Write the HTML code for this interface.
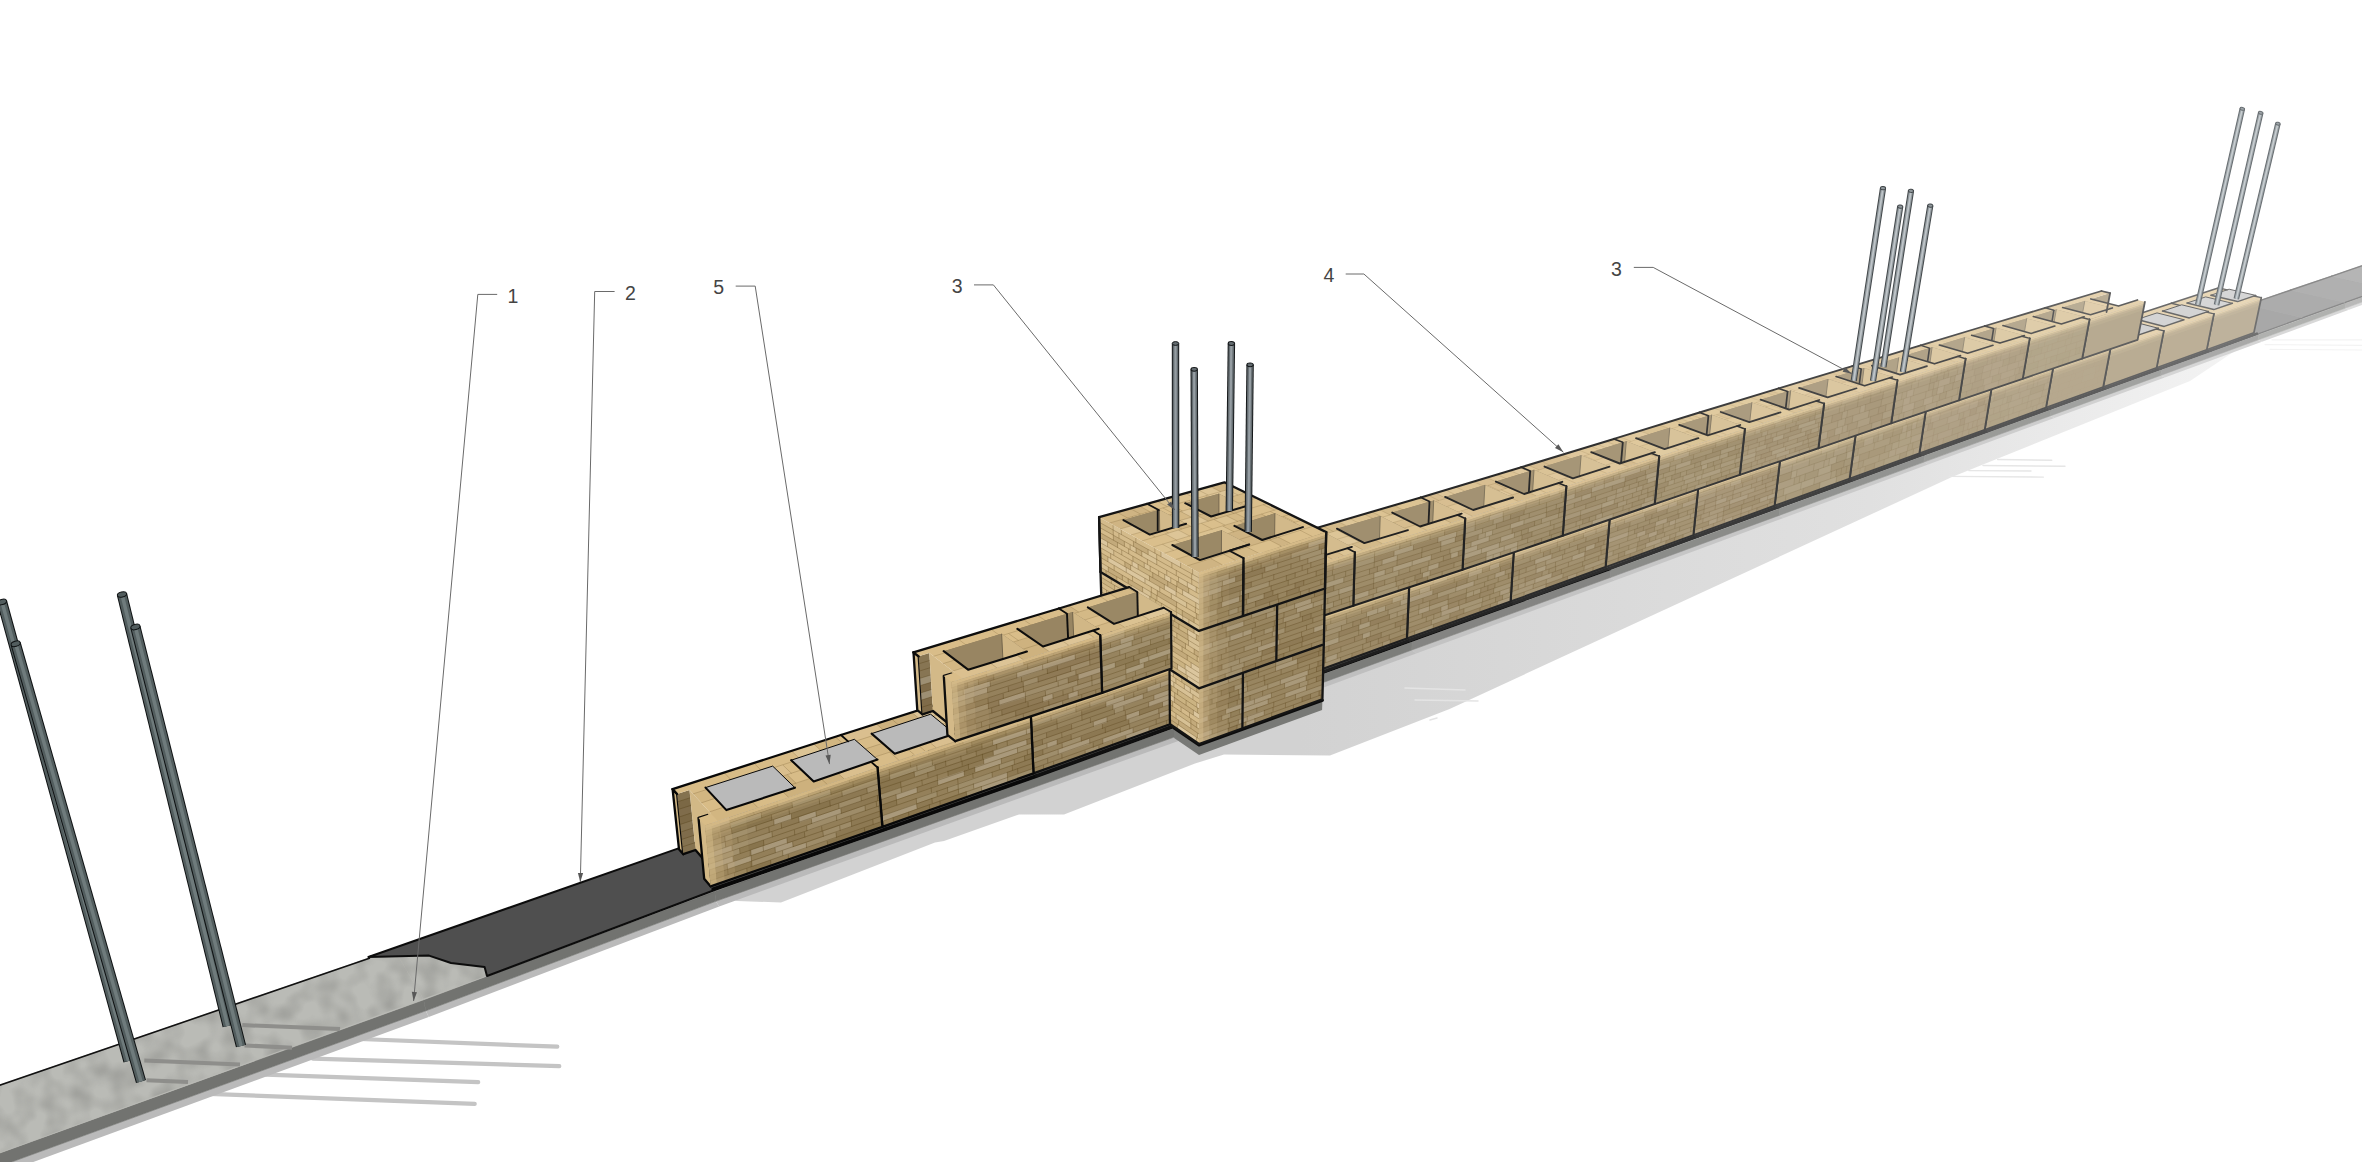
<!DOCTYPE html><html><head><meta charset="utf-8"><title>wall</title><style>html,body{margin:0;padding:0;background:#fff;overflow:hidden}svg{display:block}text{font-family:"Liberation Sans",sans-serif}</style></head><body><svg width="2362" height="1162" viewBox="0 0 2362 1162">
<defs><linearGradient id="sg" gradientUnits="userSpaceOnUse" x1="1300" y1="0" x2="2250" y2="0"><stop offset="0" stop-color="#d2d2d2"/><stop offset="0.6" stop-color="#e0e0e0"/><stop offset="1" stop-color="#f4f4f4"/></linearGradient><filter id="nz" x="0" y="0" width="100%" height="100%" color-interpolation-filters="sRGB"><feTurbulence type="fractalNoise" baseFrequency="0.045" numOctaves="2" seed="3"/><feColorMatrix values="0 0 0 0 0.35  0 0 0 0 0.35  0 0 0 0 0.34  0.55 0 0 0 -0.2"/><feComposite in2="SourceGraphic" operator="in"/></filter></defs>
<rect width="2362" height="1162" fill="#fff"/>
<polygon points="712,893 737,901 781,902.5 935,842.5 944,841 1019,814.4 1064,814.4 1195,763.5 1224,754.5 1330,755.6 1449.6,708.9 1952,477 2190,381 2262,333 1330,660" fill="url(#sg)"/>
<polyline points="1405,688 1465,690" fill="none" stroke="#e4e4e4" stroke-width="1.5" stroke-linecap="round" stroke-linejoin="round"/>
<polyline points="1415,700 1478,701" fill="none" stroke="#e4e4e4" stroke-width="1.5" stroke-linecap="round" stroke-linejoin="round"/>
<polyline points="1430,720 1437,718" fill="none" stroke="#e4e4e4" stroke-width="1.5" stroke-linecap="round" stroke-linejoin="round"/>
<polyline points="1997.6,459.5 2051.8,460.2" fill="none" stroke="#e6e6e6" stroke-width="1.4" stroke-linecap="round" stroke-linejoin="round"/>
<polyline points="1983,465.5 2065,466.3" fill="none" stroke="#e6e6e6" stroke-width="1.4" stroke-linecap="round" stroke-linejoin="round"/>
<polyline points="1968.7,470.6 2031,471" fill="none" stroke="#e6e6e6" stroke-width="1.4" stroke-linecap="round" stroke-linejoin="round"/>
<polyline points="1949.4,476.4 2043.4,477.1" fill="none" stroke="#e6e6e6" stroke-width="1.4" stroke-linecap="round" stroke-linejoin="round"/>
<polyline points="2272,339.8 2362,339.8" fill="none" stroke="#f3f3f3" stroke-width="1.2" stroke-linecap="round" stroke-linejoin="round"/>
<polyline points="2265,344.6 2362,345.3" fill="none" stroke="#f3f3f3" stroke-width="1.2" stroke-linecap="round" stroke-linejoin="round"/>
<polyline points="2270,349.4 2362,350" fill="none" stroke="#f3f3f3" stroke-width="1.2" stroke-linecap="round" stroke-linejoin="round"/>
<polyline points="347,1038.5 557.3,1046.7" fill="none" stroke="#c4c4c4" stroke-width="4.2" stroke-linecap="round" stroke-linejoin="round"/>
<polyline points="313,1058.7 559.3,1066.2" fill="none" stroke="#c4c4c4" stroke-width="4.2" stroke-linecap="round" stroke-linejoin="round"/>
<polyline points="266,1074.7 478.2,1082.2" fill="none" stroke="#c4c4c4" stroke-width="4.2" stroke-linecap="round" stroke-linejoin="round"/>
<polyline points="209.6,1093.9 474.7,1103.8" fill="none" stroke="#c4c4c4" stroke-width="4.2" stroke-linecap="round" stroke-linejoin="round"/>
<polygon points="-205.4,1241.2 425.8,1010.8 428.7,1016.9 -204.3,1249.2" fill="#bababa"/>
<polygon points="425.8,1010.8 715.7,901.3 719.2,906.5 428.7,1016.9" fill="#bababa"/>
<polygon points="715.7,901.3 1174.9,736.8 1179.1,740.7 719.2,906.5" fill="#bababa"/>
<polygon points="1174.9,736.8 1411.8,650 1416.2,653.5 1179.1,740.7" fill="#bfbfbf"/>
<polygon points="1411.8,650 1610.3,577.5 1614.8,580.6 1416.2,653.5" fill="#c3c3c3"/>
<polygon points="1610.3,577.5 1779.1,515.4 1783.6,518 1614.8,580.6" fill="#c6c6c6"/>
<polygon points="1779.1,515.4 1923.8,462.1 1928.1,464.5 1783.6,518" fill="#cacaca"/>
<polygon points="1923.8,462.1 2050.1,415.9 2054.4,418 1928.1,464.5" fill="#cdcdcd"/>
<polygon points="2050.1,415.9 2160.6,375.4 2164.8,377.4 2054.4,418" fill="#d1d1d1"/>
<polygon points="2160.6,375.4 2257.8,340 2262,341.8 2164.8,377.4" fill="#d5d5d5"/>
<polygon points="2257.8,340 2345,308.2 2349,309.8 2262,341.8" fill="#d8d8d8"/>
<polygon points="2345,308.2 2441.6,273.1 2445.5,274.6 2349,309.8" fill="#dddddd"/>
<polygon points="-209.8,1228.8 423.6,999.8 425.8,1010.8 -205.4,1241.2" fill="#727370" stroke="#727370" stroke-width="0.6" stroke-linejoin="round"/>
<polygon points="-215.6,1159.3 394.4,949.5 423.6,999.8 -209.8,1228.8" fill="#babbb6" stroke="#babbb6" stroke-width="0.6" stroke-linejoin="round"/>
<polygon points="423.6,999.8 714.7,891.1 715.7,901.3 425.8,1010.8" fill="#727370" stroke="#727370" stroke-width="0.6" stroke-linejoin="round"/>
<polygon points="394.4,949.5 679,849.2 714.7,891.1 423.6,999.8" fill="#babbb6" stroke="#babbb6" stroke-width="0.6" stroke-linejoin="round"/>
<polygon points="714.7,891.1 1174.9,727.6 1174.9,736.8 715.7,901.3" fill="#737471" stroke="#737471" stroke-width="0.6" stroke-linejoin="round"/>
<polygon points="679,849.2 1129.6,696.6 1174.9,727.6 714.7,891.1" fill="#babbb6" stroke="#babbb6" stroke-width="0.6" stroke-linejoin="round"/>
<polygon points="1174.9,727.6 1412.2,641.5 1411.8,650 1174.9,736.8" fill="#7c7d7a" stroke="#7c7d7a" stroke-width="0.6" stroke-linejoin="round"/>
<polygon points="1129.6,696.6 1364.1,614.3 1412.2,641.5 1174.9,727.6" fill="#bfc0bb" stroke="#bfc0bb" stroke-width="0.6" stroke-linejoin="round"/>
<polygon points="1412.2,641.5 1611,569.6 1610.3,577.5 1411.8,650" fill="#848482" stroke="#848482" stroke-width="0.6" stroke-linejoin="round"/>
<polygon points="1364.1,614.3 1561.7,547.2 1611,569.6 1412.2,641.5" fill="#c3c3bf" stroke="#c3c3bf" stroke-width="0.6" stroke-linejoin="round"/>
<polygon points="1611,569.6 1780,507.9 1779.1,515.4 1610.3,577.5" fill="#8b8c89" stroke="#8b8c89" stroke-width="0.6" stroke-linejoin="round"/>
<polygon points="1561.7,547.2 1730.3,488.4 1780,507.9 1611,569.6" fill="#c6c7c3" stroke="#c6c7c3" stroke-width="0.6" stroke-linejoin="round"/>
<polygon points="1780,507.9 1924.8,455.1 1923.8,462.1 1779.1,515.4" fill="#929391" stroke="#929391" stroke-width="0.6" stroke-linejoin="round"/>
<polygon points="1730.3,488.4 1875.5,438.3 1924.8,455.1 1780,507.9" fill="#cacbc7" stroke="#cacbc7" stroke-width="0.6" stroke-linejoin="round"/>
<polygon points="1924.8,455.1 2051.3,409.3 2050.1,415.9 1923.8,462.1" fill="#9a9b98" stroke="#9a9b98" stroke-width="0.6" stroke-linejoin="round"/>
<polygon points="1875.5,438.3 2002.2,394.6 2051.3,409.3 1924.8,455.1" fill="#cdcecb" stroke="#cdcecb" stroke-width="0.6" stroke-linejoin="round"/>
<polygon points="2051.3,409.3 2161.8,369.2 2160.6,375.4 2050.1,415.9" fill="#a1a2a0" stroke="#a1a2a0" stroke-width="0.6" stroke-linejoin="round"/>
<polygon points="2002.2,394.6 2114,356.1 2161.8,369.2 2051.3,409.3" fill="#d1d2ce" stroke="#d1d2ce" stroke-width="0.6" stroke-linejoin="round"/>
<polygon points="2161.8,369.2 2259.1,334.1 2257.8,340 2160.6,375.4" fill="#a9a9a8" stroke="#a9a9a8" stroke-width="0.6" stroke-linejoin="round"/>
<polygon points="2114,356.1 2212,322.4 2259.1,334.1 2161.8,369.2" fill="#d5d5d2" stroke="#d5d5d2" stroke-width="0.6" stroke-linejoin="round"/>
<polygon points="2259.1,334.1 2346.3,302.6 2345,308.2 2257.8,340" fill="#b0b1af" stroke="#b0b1af" stroke-width="0.6" stroke-linejoin="round"/>
<polygon points="2212,322.4 2299.9,292 2346.3,302.6 2259.1,334.1" fill="#d8d9d6" stroke="#d8d9d6" stroke-width="0.6" stroke-linejoin="round"/>
<polygon points="2346.3,302.6 2442.9,267.7 2441.6,273.1 2345,308.2" fill="#b9b9b8" stroke="#b9b9b8" stroke-width="0.6" stroke-linejoin="round"/>
<polygon points="2299.9,292 2398.1,258.3 2442.9,267.7 2346.3,302.6" fill="#dddddb" stroke="#dddddb" stroke-width="0.6" stroke-linejoin="round"/>
<polygon points="-215.6,1159.3 764.5,820.4 803.6,860.6 -209.8,1228.8" fill="#555" filter="url(#nz)"/>
<polyline points="-215.6,1159.3 369.4,958.2" fill="none" stroke="#111" stroke-width="1.6" stroke-linecap="round" stroke-linejoin="round"/>
<polyline points="242.3,1025.1 340,1029" fill="none" stroke="#8e8e8b" stroke-width="4" stroke-linecap="butt" stroke-linejoin="round"/>
<polyline points="244.6,1045.4 292,1047.8" fill="none" stroke="#8e8e8b" stroke-width="4" stroke-linecap="butt" stroke-linejoin="round"/>
<polyline points="144.3,1060.5 240,1064.6" fill="none" stroke="#8e8e8b" stroke-width="4" stroke-linecap="butt" stroke-linejoin="round"/>
<polyline points="146.5,1080.3 188,1082.1" fill="none" stroke="#8e8e8b" stroke-width="4" stroke-linecap="butt" stroke-linejoin="round"/>
<polygon points="368.4,957 429,955.6 451,963 484.6,967 487,976 714,890.3 1037.6,776.6 1174.1,727 1411.3,641 1610.1,569.2 1560.8,546.8 1363.3,613.8 1128.8,696 993.3,741.9 678.4,848.4" fill="#4f4f4f" stroke="#0c0c0c" stroke-width="2" stroke-linejoin="round"/>
<polygon points="1560.8,546.8 1648.2,516.3 1697.9,537 1610.1,569.2" fill="#6a6a6a" stroke="#6a6a6a" stroke-width="0.8" stroke-linejoin="round"/>
<polyline points="1610.1,569.2 1697.9,537" fill="none" stroke="#323232" stroke-width="1.8" stroke-linecap="round" stroke-linejoin="round"/>
<polygon points="1648.2,516.3 1729.4,488.1 1779.1,507.5 1697.9,537" fill="#6e6e6e" stroke="#6e6e6e" stroke-width="0.8" stroke-linejoin="round"/>
<polyline points="1697.9,537 1779.1,507.5" fill="none" stroke="#393939" stroke-width="1.8" stroke-linecap="round" stroke-linejoin="round"/>
<polygon points="1729.4,488.1 1804.6,462.2 1854.2,480.3 1779.1,507.5" fill="#737373" stroke="#737373" stroke-width="0.8" stroke-linejoin="round"/>
<polyline points="1779.1,507.5 1854.2,480.3" fill="none" stroke="#404040" stroke-width="1.7" stroke-linecap="round" stroke-linejoin="round"/>
<polygon points="1804.6,462.2 1874.6,438 1923.9,454.8 1854.2,480.3" fill="#777777" stroke="#777777" stroke-width="0.8" stroke-linejoin="round"/>
<polyline points="1854.2,480.3 1923.9,454.8" fill="none" stroke="#474747" stroke-width="1.7" stroke-linecap="round" stroke-linejoin="round"/>
<polygon points="1874.6,438 1940,415.4 1989.2,431.2 1923.9,454.8" fill="#7c7c7c" stroke="#7c7c7c" stroke-width="0.8" stroke-linejoin="round"/>
<polyline points="1923.9,454.8 1989.2,431.2" fill="none" stroke="#4e4e4e" stroke-width="1.7" stroke-linecap="round" stroke-linejoin="round"/>
<polygon points="1940,415.4 2001.4,394.4 2050.4,409 1989.2,431.2" fill="#818181" stroke="#818181" stroke-width="0.8" stroke-linejoin="round"/>
<polyline points="1989.2,431.2 2050.4,409" fill="none" stroke="#555555" stroke-width="1.6" stroke-linecap="round" stroke-linejoin="round"/>
<polygon points="2001.4,394.4 2059.1,374.5 2107.6,388.3 2050.4,409" fill="#858585" stroke="#858585" stroke-width="0.8" stroke-linejoin="round"/>
<polyline points="2050.4,409 2107.6,388.3" fill="none" stroke="#5c5c5c" stroke-width="1.6" stroke-linecap="round" stroke-linejoin="round"/>
<polygon points="2059.1,374.5 2113.2,355.9 2161,369 2107.6,388.3" fill="#8a8a8a" stroke="#8a8a8a" stroke-width="0.8" stroke-linejoin="round"/>
<polyline points="2107.6,388.3 2161,369" fill="none" stroke="#626262" stroke-width="1.6" stroke-linecap="round" stroke-linejoin="round"/>
<polygon points="2113.2,355.9 2163.7,338.5 2211,351 2161,369" fill="#8f8f8f" stroke="#8f8f8f" stroke-width="0.8" stroke-linejoin="round"/>
<polyline points="2161,369 2211,351" fill="none" stroke="#696969" stroke-width="1.6" stroke-linecap="round" stroke-linejoin="round"/>
<polygon points="2163.7,338.5 2211.2,322.2 2258.2,333.9 2211,351" fill="#939393" stroke="#939393" stroke-width="0.8" stroke-linejoin="round"/>
<polyline points="2211,351 2258.2,333.9" fill="none" stroke="#707070" stroke-width="1.5" stroke-linecap="round" stroke-linejoin="round"/>
<polygon points="2203,320.1 2248.1,304.7 2303,317.7 2258.2,333.9" fill="#a8a8a8" stroke="#a8a8a8" stroke-width="0.8" stroke-linejoin="round"/>
<polyline points="2203,320.1 2248.1,304.7" fill="none" stroke="#8a8a8a" stroke-width="1.4" stroke-linecap="round" stroke-linejoin="round"/>
<polyline points="2258.2,333.9 2303,317.7" fill="none" stroke="#8a8a8a" stroke-width="1.4" stroke-linecap="round" stroke-linejoin="round"/>
<polygon points="2248.1,304.7 2291,290 2345.4,302.4 2303,317.7" fill="#acacac" stroke="#acacac" stroke-width="0.8" stroke-linejoin="round"/>
<polyline points="2248.1,304.7 2291,290" fill="none" stroke="#8a8a8a" stroke-width="1.4" stroke-linecap="round" stroke-linejoin="round"/>
<polyline points="2303,317.7 2345.4,302.4" fill="none" stroke="#8a8a8a" stroke-width="1.4" stroke-linecap="round" stroke-linejoin="round"/>
<polygon points="2291,290 2331.9,276.1 2385.7,287.9 2345.4,302.4" fill="#b0b0b0" stroke="#b0b0b0" stroke-width="0.8" stroke-linejoin="round"/>
<polyline points="2291,290 2331.9,276.1" fill="none" stroke="#8a8a8a" stroke-width="1.4" stroke-linecap="round" stroke-linejoin="round"/>
<polyline points="2345.4,302.4 2385.7,287.9" fill="none" stroke="#8a8a8a" stroke-width="1.4" stroke-linecap="round" stroke-linejoin="round"/>
<polygon points="2331.9,276.1 2389.5,256.5 2442.1,267.6 2385.7,287.9" fill="#b5b5b5" stroke="#b5b5b5" stroke-width="0.8" stroke-linejoin="round"/>
<polyline points="2331.9,276.1 2389.5,256.5" fill="none" stroke="#8a8a8a" stroke-width="1.4" stroke-linecap="round" stroke-linejoin="round"/>
<polyline points="2385.7,287.9 2442.1,267.6" fill="none" stroke="#8a8a8a" stroke-width="1.4" stroke-linecap="round" stroke-linejoin="round"/>
<polygon points="1174.1,737.9 1199,754.9 1199,744 1174.1,727" fill="#787976"/>
<polygon points="1199,754.9 1322.1,710.1 1322.4,699.4 1199,744" fill="#787976"/>
<polyline points="1174.1,728.1 1199,745.1 1322.4,700.4" fill="none" stroke="#0c0c0c" stroke-width="3" stroke-linecap="round" stroke-linejoin="round"/>
<polyline points="713,889.1 885,829.2" fill="none" stroke="#080808" stroke-width="3.2" stroke-linecap="round" stroke-linejoin="round"/>
<polyline points="885,829.2 1036.4,775.7" fill="none" stroke="#090909" stroke-width="3.2" stroke-linecap="round" stroke-linejoin="round"/>
<polyline points="1036.4,775.7 1172.8,726.2" fill="none" stroke="#101010" stroke-width="3.1" stroke-linecap="round" stroke-linejoin="round"/>
<polyline points="1172.8,726.2 1296.9,681.3" fill="none" stroke="#171717" stroke-width="3.1" stroke-linecap="round" stroke-linejoin="round"/>
<polyline points="1296.9,681.3 1410,640.2" fill="none" stroke="#1e1e1e" stroke-width="3" stroke-linecap="round" stroke-linejoin="round"/>
<polyline points="1410,640.2 1513.7,603.1" fill="none" stroke="#252525" stroke-width="3" stroke-linecap="round" stroke-linejoin="round"/>
<polyline points="1513.7,603.1 1608.8,568.5" fill="none" stroke="#2c2c2c" stroke-width="2.9" stroke-linecap="round" stroke-linejoin="round"/>
<polyline points="1608.8,568.5 1696.5,536.4" fill="none" stroke="#323232" stroke-width="2.9" stroke-linecap="round" stroke-linejoin="round"/>
<polyline points="1696.5,536.4 1777.8,507" fill="none" stroke="#393939" stroke-width="2.8" stroke-linecap="round" stroke-linejoin="round"/>
<polyline points="1777.8,507 1852.8,479.8" fill="none" stroke="#404040" stroke-width="2.8" stroke-linecap="round" stroke-linejoin="round"/>
<polyline points="1852.8,479.8 1922.6,454.3" fill="none" stroke="#474747" stroke-width="2.7" stroke-linecap="round" stroke-linejoin="round"/>
<polyline points="1922.6,454.3 1987.9,430.8" fill="none" stroke="#4e4e4e" stroke-width="2.7" stroke-linecap="round" stroke-linejoin="round"/>
<polyline points="1987.9,430.8 2049.1,408.6" fill="none" stroke="#555555" stroke-width="2.6" stroke-linecap="round" stroke-linejoin="round"/>
<polyline points="2049.1,408.6 2106.3,387.9" fill="none" stroke="#5c5c5c" stroke-width="2.6" stroke-linecap="round" stroke-linejoin="round"/>
<polyline points="2106.3,387.9 2159.7,368.6" fill="none" stroke="#626262" stroke-width="2.5" stroke-linecap="round" stroke-linejoin="round"/>
<polyline points="2159.7,368.6 2209.7,350.6" fill="none" stroke="#696969" stroke-width="2.5" stroke-linecap="round" stroke-linejoin="round"/>
<polyline points="2209.7,350.6 2256.9,333.6" fill="none" stroke="#707070" stroke-width="2.4" stroke-linecap="round" stroke-linejoin="round"/>
<polygon points="2171.4,303.3 2213.9,313.9 2261.3,297.7 2218.9,287.8" fill="#e8d7b7"/>
<polyline points="2171.4,303.3 2218.9,287.8" fill="none" stroke="#707070" stroke-width="1.7" stroke-linecap="round" stroke-linejoin="round"/>
<polygon points="2187,303 2205.7,296.9 2232.4,303.3 2213.8,309.6" fill="#d6d6d6"/>
<polyline points="2187,303 2205.7,296.9 2232.4,303.3" fill="none" stroke="#707070" stroke-width="1" stroke-linecap="round" stroke-linejoin="round"/>
<polyline points="2187,303 2213.8,309.6 2232.4,303.3" fill="none" stroke="#707070" stroke-width="1.5" stroke-linecap="round" stroke-linejoin="round"/>
<polygon points="2210.9,295.2 2229.1,289.2 2255.8,295.4 2237.6,301.6" fill="#d6d6d6"/>
<polyline points="2210.9,295.2 2229.1,289.2 2255.8,295.4" fill="none" stroke="#707070" stroke-width="1" stroke-linecap="round" stroke-linejoin="round"/>
<polyline points="2210.9,295.2 2237.6,301.6 2255.8,295.4" fill="none" stroke="#707070" stroke-width="1.5" stroke-linecap="round" stroke-linejoin="round"/>
<polyline points="2261.3,297.7 2253.9,296" fill="none" stroke="#707070" stroke-width="1.3" stroke-linecap="round" stroke-linejoin="round"/>
<polyline points="2227.2,289.8 2218.9,287.8" fill="none" stroke="#707070" stroke-width="1.3" stroke-linecap="round" stroke-linejoin="round"/>
<polygon points="2206.7,349.8 2253.9,332.8 2261.3,297.7 2213.9,313.9" fill="#beb29c"/>
<polygon points="2213.9,313.9 2261.3,297.7 2260.9,299.5 2213.5,315.7" fill="#e8d7b7" fill-opacity="0.92"/>
<polygon points="2213.5,315.7 2260.9,299.5 2260.6,300.9 2213.2,317.1" fill="#e8d7b7" fill-opacity="0.60"/>
<polygon points="2213.2,317.1 2260.6,300.9 2260.2,302.7 2212.8,319" fill="#e8d7b7" fill-opacity="0.30"/>
<polygon points="2212.8,319 2260.2,302.7 2259.6,305.5 2212.3,321.8" fill="#e8d7b7" fill-opacity="0.12"/>
<polyline points="2213.9,313.9 2206.7,349.8 2253.9,332.8 2261.3,297.7" fill="none" stroke="#707070" stroke-width="1.7" stroke-linecap="round" stroke-linejoin="round"/>
<polygon points="2121,319.8 2163.8,330.9 2213.9,313.9 2171.4,303.3" fill="#e7d5b4"/>
<polyline points="2121,319.8 2171.4,303.3" fill="none" stroke="#696969" stroke-width="1.7" stroke-linecap="round" stroke-linejoin="round"/>
<polygon points="2137.2,319.4 2157,312.9 2183.9,319.7 2164.2,326.4" fill="#d4d4d4"/>
<polyline points="2137.2,319.4 2157,312.9 2183.9,319.7" fill="none" stroke="#696969" stroke-width="1" stroke-linecap="round" stroke-linejoin="round"/>
<polyline points="2137.2,319.4 2164.2,326.4 2183.9,319.7" fill="none" stroke="#696969" stroke-width="1.5" stroke-linecap="round" stroke-linejoin="round"/>
<polygon points="2162.5,311.1 2181.7,304.8 2208.5,311.4 2189.3,317.9" fill="#d4d4d4"/>
<polyline points="2162.5,311.1 2181.7,304.8 2208.5,311.4" fill="none" stroke="#696969" stroke-width="1" stroke-linecap="round" stroke-linejoin="round"/>
<polyline points="2162.5,311.1 2189.3,317.9 2208.5,311.4" fill="none" stroke="#696969" stroke-width="1.5" stroke-linecap="round" stroke-linejoin="round"/>
<polyline points="2213.9,313.9 2206.5,312.1" fill="none" stroke="#696969" stroke-width="1.4" stroke-linecap="round" stroke-linejoin="round"/>
<polyline points="2179.8,305.4 2171.4,303.3" fill="none" stroke="#696969" stroke-width="1.4" stroke-linecap="round" stroke-linejoin="round"/>
<polygon points="2156.6,367.8 2206.7,349.8 2213.9,313.9 2163.8,330.9" fill="#bcaf97"/>
<polygon points="2163.8,330.9 2213.9,313.9 2213.5,315.7 2163.5,332.7" fill="#e7d5b4" fill-opacity="0.92"/>
<polygon points="2163.5,332.7 2213.5,315.7 2213.2,317.1 2163.2,334.2" fill="#e7d5b4" fill-opacity="0.60"/>
<polygon points="2163.2,334.2 2213.2,317.1 2212.8,319 2162.8,336.1" fill="#e7d5b4" fill-opacity="0.30"/>
<polygon points="2162.8,336.1 2212.8,319 2212.3,321.8 2162.2,339.1" fill="#e7d5b4" fill-opacity="0.12"/>
<polyline points="2163.8,330.9 2156.6,367.8 2206.7,349.8 2213.9,313.9" fill="none" stroke="#696969" stroke-width="1.7" stroke-linecap="round" stroke-linejoin="round"/>
<polygon points="2066.8,337.3 2110.4,349 2163.8,330.9 2121,319.8" fill="#e6d3b1"/>
<polyline points="2066.8,337.3 2121,319.8" fill="none" stroke="#626262" stroke-width="1.7" stroke-linecap="round" stroke-linejoin="round"/>
<polygon points="2083.8,336.9 2105.1,329.9 2132.3,337.1 2111.2,344.2" fill="#d2d2d2"/>
<polyline points="2083.8,336.9 2105.1,329.9 2132.3,337.1" fill="none" stroke="#626262" stroke-width="1" stroke-linecap="round" stroke-linejoin="round"/>
<polyline points="2083.8,336.9 2111.2,344.2 2132.3,337.1" fill="none" stroke="#626262" stroke-width="1.5" stroke-linecap="round" stroke-linejoin="round"/>
<polygon points="2111,328 2131.5,321.3 2158.5,328.3 2138.1,335.1" fill="#d2d2d2"/>
<polyline points="2111,328 2131.5,321.3 2158.5,328.3" fill="none" stroke="#626262" stroke-width="1" stroke-linecap="round" stroke-linejoin="round"/>
<polyline points="2111,328 2138.1,335.1 2158.5,328.3" fill="none" stroke="#626262" stroke-width="1.5" stroke-linecap="round" stroke-linejoin="round"/>
<polyline points="2163.8,330.9 2156.4,329" fill="none" stroke="#626262" stroke-width="1.4" stroke-linecap="round" stroke-linejoin="round"/>
<polyline points="2129.5,321.9 2121,319.8" fill="none" stroke="#626262" stroke-width="1.4" stroke-linecap="round" stroke-linejoin="round"/>
<polygon points="2103.2,387 2156.6,367.8 2163.8,330.9 2110.4,349" fill="#b9ac93"/>
<polygon points="2110.4,349 2163.8,330.9 2163.5,332.7 2110,351" fill="#e6d3b1" fill-opacity="0.92"/>
<polygon points="2110,351 2163.5,332.7 2163.2,334.2 2109.7,352.5" fill="#e6d3b1" fill-opacity="0.60"/>
<polygon points="2109.7,352.5 2163.2,334.2 2162.8,336.1 2109.4,354.4" fill="#e6d3b1" fill-opacity="0.30"/>
<polygon points="2109.4,354.4 2162.8,336.1 2162.2,339.1 2108.8,357.4" fill="#e6d3b1" fill-opacity="0.12"/>
<polyline points="2110.4,349 2103.2,387 2156.6,367.8 2163.8,330.9" fill="none" stroke="#626262" stroke-width="1.7" stroke-linecap="round" stroke-linejoin="round"/>
<polygon points="2046,407.7 2103.2,387 2110.4,349 2053,368.5" fill="#b6a88e"/>
<path d="M2051.2 399.7 2057.1 397.6 2058.3 391.2 2052.4 393.2zM2084.2 388 2096.9 383.4 2098.1 377.1 2085.4 381.6zM2096.9 383.4 2104.4 380.7 2105.6 374.4 2098.1 377.1zM2051.8 375.1 2055.9 373.7 2057.1 367.1 2053 368.5zM2055.9 373.7 2060.1 372.3 2061.2 365.7 2057.1 367.1zM2093.2 360.9 2103.1 357.5 2104.3 351.1 2094.4 354.5z" fill="#fff" fill-opacity="0.00"/>
<path d="M2066.4 400.3 2079.3 395.6 2080.5 389.3 2067.6 393.9zM2048.3 394.7 2052.4 393.2 2053.6 386.7 2049.4 388.2zM2081.4 383 2094.1 378.5 2095.3 372.1 2082.6 376.6zM2082.3 376.7 2095.1 372.2 2096.3 365.8 2083.5 370.3zM2054.7 380.2 2058.9 378.8 2060.1 372.3 2055.9 373.7z" fill="#fff" fill-opacity="0.01"/>
<path d="M2056.3 404 2066.4 400.3 2067.6 393.9 2057.4 397.5zM2047.1 401.2 2051.2 399.7 2052.4 393.2 2048.3 394.7zM2058.3 391.2 2068.5 387.6 2069.7 381.1 2059.5 384.7zM2101.7 375.8 2105.6 374.4 2106.8 368.1 2102.9 369.5zM2049.4 388.2 2057.4 385.4 2058.6 378.9 2050.6 381.7zM2099 370.8 2102.9 369.5 2104.1 363.1 2100.2 364.5zM2102.9 369.5 2106.8 368.1 2108 361.8 2104.1 363.1zM2063 377.4 2073.2 373.8 2074.4 367.4 2064.2 370.9zM2086.1 369.4 2093.7 366.7 2094.9 360.3 2087.3 362.9zM2093.7 366.7 2101.3 364.1 2102.5 357.7 2094.9 360.3zM2076.1 366.8 2081.8 364.8 2083 358.3 2077.3 360.3zM2087.6 362.8 2093.2 360.9 2094.4 354.5 2088.8 356.4z" fill="#4a2f08" fill-opacity="0.00"/>
<path d="M2079.3 395.6 2092 391.1 2093.2 384.7 2080.5 389.3zM2057.1 397.6 2061.2 396.2 2062.4 389.7 2058.3 391.2zM2052.4 393.2 2058.3 391.2 2059.5 384.7 2053.6 386.7zM2094.1 378.5 2101.7 375.8 2102.9 369.5 2095.3 372.1zM2095.1 372.2 2099 370.8 2100.2 364.5 2096.3 365.8zM2058.9 378.8 2063 377.4 2064.2 370.9 2060.1 372.3z" fill="#4a2f08" fill-opacity="0.00"/>
<path d="M2056.3 404L2057.4 397.5M2066.4 400.3L2067.6 393.9M2079.3 395.6L2080.5 389.3M2092 391.1L2093.2 384.7M2051.2 399.7L2052.4 393.2M2057.1 397.6L2058.3 391.2M2061.2 396.2L2062.4 389.7M2071.3 392.6L2072.5 386.1M2084.2 388L2085.4 381.6M2096.9 383.4L2098.1 377.1M2047.1 401.2L2104.4 380.7M2052.4 393.2L2053.6 386.7M2058.3 391.2L2059.5 384.7M2068.5 387.6L2069.7 381.1M2081.4 383L2082.6 376.6M2094.1 378.5L2095.3 372.1M2101.7 375.8L2102.9 369.5M2048.3 394.7L2105.6 374.4M2057.4 385.4L2058.6 378.9M2070.5 380.8L2071.7 374.3M2074.6 379.4L2075.8 372.9M2082.3 376.7L2083.5 370.3M2095.1 372.2L2096.3 365.8M2099 370.8L2100.2 364.5M2102.9 369.5L2104.1 363.1M2049.4 388.2L2106.8 368.1M2054.7 380.2L2055.9 373.7M2058.9 378.8L2060.1 372.3M2063 377.4L2064.2 370.9M2073.2 373.8L2074.4 367.4M2086.1 369.4L2087.3 362.9M2093.7 366.7L2094.9 360.3M2101.3 364.1L2102.5 357.7M2050.6 381.7L2108 361.8M2055.9 373.7L2057.1 367.1M2060.1 372.3L2061.2 365.7M2070.3 368.8L2071.5 362.2M2076.1 366.8L2077.3 360.3M2081.8 364.8L2083 358.3M2087.6 362.8L2088.8 356.4M2093.2 360.9L2094.4 354.5M2103.1 357.5L2104.3 351.1M2051.8 375.1L2109.2 355.4" fill="none" stroke="#4f390f" stroke-width="0.8" stroke-opacity="0.01"/>
<polygon points="2053,368.5 2110.4,349 2110,351 2052.6,370.5" fill="#e5d2ae" fill-opacity="0.92"/>
<polygon points="2052.6,370.5 2110,351 2109.7,352.5 2052.3,372.1" fill="#e5d2ae" fill-opacity="0.60"/>
<polygon points="2052.3,372.1 2109.7,352.5 2109.4,354.4 2052,374.1" fill="#e5d2ae" fill-opacity="0.30"/>
<polygon points="2052,374.1 2109.4,354.4 2108.8,357.4 2051.4,377.2" fill="#e5d2ae" fill-opacity="0.12"/>
<polyline points="2053,368.5 2046,407.7 2103.2,387 2110.4,349" fill="none" stroke="#5c5c5c" stroke-width="1.8" stroke-linecap="round" stroke-linejoin="round"/>
<polygon points="1984.7,429.8 2046,407.7 2053,368.5 1991.4,389.4" fill="#b3a58a"/>
<path d="M2031.9 412.8 2036.1 411.2 2037.3 404.7 2033.1 406.2zM2042.1 409.1 2046 407.7 2047.1 401.2 2043.2 402.6zM2008.3 415.1 2012.7 413.5 2013.8 406.9 2009.5 408.4zM2021.8 404.1 2027.9 401.9 2029 395.3 2022.9 397.5zM1988 409.7 2002.2 404.7 2003.3 398 1989.1 402.9zM2002.2 404.7 2006.6 403.2 2007.7 396.5 2003.3 398zM1989.1 402.9 1993.6 401.4 1994.7 394.7 1990.2 396.2zM1998.8 393.3 2005.1 391.1 2006.2 384.4 1999.9 386.5z" fill="#fff" fill-opacity="0.01"/>
<path d="M1984.7 429.8 1989.1 428.2 1990.2 421.5 1985.8 423.1zM2003.2 423.1 2007.5 421.5 2008.7 414.9 2004.3 416.5zM2036.1 411.2 2042.1 409.1 2043.2 402.6 2037.3 404.7zM2007.9 409 2021.8 404.1 2022.9 397.5 2009.1 402.3zM2027.9 401.9 2041.4 397.1 2042.6 390.6 2029 395.3zM2010.9 401.7 2019.2 398.8 2020.4 392.1 2012 395zM2019.2 398.8 2029.9 395 2031.1 388.4 2020.4 392.1zM2043.5 390.3 2049.4 388.2 2050.6 381.7 2044.6 383.7zM2018.5 392.8 2026.8 389.9 2028 383.3 2019.7 386.1zM2032.9 387.8 2037.1 386.3 2038.3 379.7 2034.1 381.2zM2037.1 386.3 2047.6 382.7 2048.8 376.1 2038.3 379.7zM2047.6 382.7 2050.6 381.7 2051.8 375.1 2048.8 376.1z" fill="#fff" fill-opacity="0.02"/>
<path d="M1989.1 428.2 2003.2 423.1 2004.3 416.5 1990.2 421.5zM1985.8 423.1 2000 418 2001.1 411.4 1986.9 416.4zM2000 418 2008.3 415.1 2009.5 408.4 2001.1 411.4z" fill="#4a2f08" fill-opacity="0.01"/>
<path d="M2006.6 403.2 2010.9 401.7 2012 395 2007.7 396.5zM2029.9 395 2043.5 390.3 2044.6 383.7 2031.1 388.4zM1993.6 401.4 2004.6 397.6 2005.7 390.9 1994.7 394.7zM1990.2 396.2 1998.8 393.3 1999.9 386.5 1991.4 389.4zM2019.7 386.1 2033.4 381.4 2034.6 374.8 2020.8 379.4zM2033.4 381.4 2039.5 379.3 2040.7 372.7 2034.6 374.8zM2039.5 379.3 2043.7 377.9 2044.9 371.3 2040.7 372.7z" fill="#4a2f08" fill-opacity="0.02"/>
<path d="M1989.1 428.2L1990.2 421.5M2003.2 423.1L2004.3 416.5M2007.5 421.5L2008.7 414.9M2018.3 417.7L2019.4 411.1M2031.9 412.8L2033.1 406.2M2036.1 411.2L2037.3 404.7M2042.1 409.1L2043.2 402.6M2000 418L2001.1 411.4M2008.3 415.1L2009.5 408.4M2012.7 413.5L2013.8 406.9M2026.4 408.6L2027.6 402M2030.7 407.1L2031.8 400.5M2038.8 404.2L2039.9 397.7M2044.7 402.1L2045.9 395.6M1985.8 423.1L2047.1 401.2M1993.2 414.2L1994.3 407.5M1999.5 411.9L2000.6 405.3M2007.9 409L2009.1 402.3M2021.8 404.1L2022.9 397.5M2027.9 401.9L2029 395.3M2041.4 397.1L2042.6 390.6M1986.9 416.4L2048.3 394.7M2002.2 404.7L2003.3 398M2006.6 403.2L2007.7 396.5M2010.9 401.7L2012 395M2019.2 398.8L2020.4 392.1M2029.9 395L2031.1 388.4M2043.5 390.3L2044.6 383.7M1988 409.7L2049.4 388.2M1993.6 401.4L1994.7 394.7M2004.6 397.6L2005.7 390.9M2018.5 392.8L2019.7 386.1M2026.8 389.9L2028 383.3M2032.9 387.8L2034.1 381.2M2037.1 386.3L2038.3 379.7M2047.6 382.7L2048.8 376.1M1989.1 402.9L2050.6 381.7M1998.8 393.3L1999.9 386.5M2005.1 391.1L2006.2 384.4M2011.3 389L2012.5 382.3M2019.7 386.1L2020.8 379.4M2033.4 381.4L2034.6 374.8M2039.5 379.3L2040.7 372.7M2043.7 377.9L2044.9 371.3M1990.2 396.2L2051.8 375.1" fill="none" stroke="#4f390f" stroke-width="0.8" stroke-opacity="0.05"/>
<polygon points="1991.4,389.4 2053,368.5 2052.6,370.5 1991,391.4" fill="#e4d0aa" fill-opacity="0.92"/>
<polygon points="1991,391.4 2052.6,370.5 2052.3,372.1 1990.8,393.1" fill="#e4d0aa" fill-opacity="0.60"/>
<polygon points="1990.8,393.1 2052.3,372.1 2052,374.1 1990.4,395.1" fill="#e4d0aa" fill-opacity="0.30"/>
<polygon points="1990.4,395.1 2052,374.1 2051.4,377.2 1989.9,398.4" fill="#e4d0aa" fill-opacity="0.12"/>
<polyline points="1991.4,389.4 1984.7,429.8 2046,407.7 2053,368.5" fill="none" stroke="#555555" stroke-width="1.8" stroke-linecap="round" stroke-linejoin="round"/>
<polygon points="1919.4,453.3 1984.7,429.8 1991.4,389.4 1925.7,411.7" fill="#b0a186"/>
<path d="M1919.4 453.3 1924.1 451.6 1925.2 444.7 1920.5 446.4zM1937.8 446.6 1942.4 445 1943.5 438.2 1938.9 439.8zM1936.9 440.5 1951.7 435.2 1952.8 428.4 1937.9 433.7zM1967.6 429.6 1972.1 428 1973.2 421.2 1968.7 422.8zM1964.2 424.4 1978.6 419.3 1979.7 412.6 1965.3 417.6zM1978.6 419.3 1986.9 416.4 1988 409.7 1979.7 412.6z" fill="#fff" fill-opacity="0.02"/>
<path d="M1922.6 432.6 1927.3 430.9 1928.3 424 1923.6 425.6zM1946.9 424 1958.4 420 1959.5 413.2 1948 417.2zM1930.4 423.3 1939.4 420.1 1940.4 413.2 1931.4 416.3zM1957.5 413.9 1968.9 409.9 1970 403.1 1958.6 407zM1968.9 409.9 1977.6 406.9 1978.7 400.1 1970 403.1z" fill="#fff" fill-opacity="0.04"/>
<path d="M1928.8 449.9 1937.8 446.6 1938.9 439.8 1929.9 443zM1942.4 445 1957.1 439.7 1958.2 432.9 1943.5 438.2zM1968.1 435.7 1976.8 432.6 1977.9 425.9 1969.2 429zM1951.7 435.2 1963.1 431.2 1964.2 424.4 1952.8 428.4zM1933.3 435.3 1948.2 430.1 1949.2 423.2 1934.3 428.4zM1958.4 420 1963 418.4 1964.1 411.6 1959.5 413.2zM1923.6 425.6 1930.4 423.3 1931.4 416.3 1924.7 418.6zM1924.7 418.6 1929.4 417 1930.4 410.1 1925.7 411.7zM1938.4 413.9 1950.1 409.9 1951.1 403 1939.5 407zM1973.6 401.9 1988 397 1989.1 390.2 1974.7 395.1z" fill="#4a2f08" fill-opacity="0.01"/>
<path d="M1924.1 451.6 1928.8 449.9 1929.9 443 1925.2 444.7zM1959.6 426 1964.2 424.4 1965.3 417.6 1960.7 419.2zM1927.3 430.9 1932 429.3 1933 422.3 1928.3 424zM1969.5 416.2 1975.9 413.9 1977 407.1 1970.6 409.4zM1984.5 410.9 1988 409.7 1989.1 402.9 1985.6 404.2zM1977.6 406.9 1984 404.7 1985.2 397.9 1978.7 400.1zM1950.1 409.9 1964.8 404.9 1965.9 398 1951.1 403z" fill="#4a2f08" fill-opacity="0.03"/>
<path d="M1924.1 451.6L1925.2 444.7M1928.8 449.9L1929.9 443M1937.8 446.6L1938.9 439.8M1942.4 445L1943.5 438.2M1957.1 439.7L1958.2 432.9M1961.7 438L1962.8 431.3M1968.1 435.7L1969.2 429M1976.8 432.6L1977.9 425.9M1932.2 442.2L1933.3 435.3M1936.9 440.5L1937.9 433.7M1951.7 435.2L1952.8 428.4M1963.1 431.2L1964.2 424.4M1967.6 429.6L1968.7 422.8M1972.1 428L1973.2 421.2M1976.6 426.4L1977.7 419.6M1920.5 446.4L1985.8 423.1M1933.3 435.3L1934.3 428.4M1948.2 430.1L1949.2 423.2M1959.6 426L1960.7 419.2M1964.2 424.4L1965.3 417.6M1978.6 419.3L1979.7 412.6M1921.5 439.5L1986.9 416.4M1927.3 430.9L1928.3 424M1932 429.3L1933 422.3M1946.9 424L1948 417.2M1958.4 420L1959.5 413.2M1963 418.4L1964.1 411.6M1969.5 416.2L1970.6 409.4M1975.9 413.9L1977 407.1M1984.5 410.9L1985.6 404.2M1922.6 432.6L1988 409.7M1930.4 423.3L1931.4 416.3M1939.4 420.1L1940.4 413.2M1951 416.1L1952 409.3M1957.5 413.9L1958.6 407M1968.9 409.9L1970 403.1M1977.6 406.9L1978.7 400.1M1984 404.7L1985.2 397.9M1988.5 403.2L1989.6 396.4M1923.6 425.6L1989.1 402.9M1929.4 417L1930.4 410.1M1938.4 413.9L1939.5 407M1950.1 409.9L1951.1 403M1964.8 404.9L1965.9 398M1973.6 401.9L1974.7 395.1M1988 397L1989.1 390.2M1924.7 418.6L1990.2 396.2" fill="none" stroke="#4f390f" stroke-width="0.8" stroke-opacity="0.08"/>
<polygon points="1925.7,411.7 1991.4,389.4 1991,391.4 1925.4,413.8" fill="#e3cea7" fill-opacity="0.92"/>
<polygon points="1925.4,413.8 1991,391.4 1990.8,393.1 1925.1,415.4" fill="#e3cea7" fill-opacity="0.60"/>
<polygon points="1925.1,415.4 1990.8,393.1 1990.4,395.1 1924.8,417.5" fill="#e3cea7" fill-opacity="0.30"/>
<polygon points="1924.8,417.5 1990.4,395.1 1989.9,398.4 1924.3,420.9" fill="#e3cea7" fill-opacity="0.12"/>
<polyline points="1925.7,411.7 1919.4,453.3 1984.7,429.8 1991.4,389.4" fill="none" stroke="#4e4e4e" stroke-width="1.9" stroke-linecap="round" stroke-linejoin="round"/>
<polygon points="1849.7,478.6 1919.4,453.3 1925.7,411.7 1855.5,435.6" fill="#ad9e81"/>
<path d="M1883.4 466.3 1899 460.7 1900 453.7 1884.4 459.3zM1905.9 458.2 1912.7 455.7 1913.7 448.8 1906.9 451.2zM1891.4 450.2 1898.3 447.7 1899.3 440.7 1892.4 443.2zM1898.3 447.7 1910.3 443.4 1911.4 436.5 1899.3 440.7zM1899 440.8 1905.9 438.4 1906.9 431.4 1900 433.8zM1877.9 441.5 1882.9 439.8 1883.9 432.7 1878.9 434.4z" fill="#fff" fill-opacity="0.03"/>
<path d="M1912.7 455.7 1919.4 453.3 1920.5 446.4 1913.7 448.8zM1888.3 457.9 1895.2 455.4 1896.2 448.5 1889.3 450.9zM1895.2 455.4 1907.2 451.1 1908.3 444.2 1896.2 448.5zM1851.6 464.4 1858.8 461.8 1859.8 454.7 1852.6 457.2zM1910.3 443.4 1921.5 439.5 1922.6 432.6 1911.4 436.5zM1905.9 438.4 1910.7 436.7 1911.7 429.7 1906.9 431.4zM1863.3 446.6 1873 443.2 1874 436.1 1864.3 439.4zM1901.7 433.2 1906.6 431.5 1907.6 424.5 1902.8 426.2zM1911.4 429.9 1916.1 428.2 1917.2 421.2 1912.4 422.9z" fill="#fff" fill-opacity="0.05"/>
<path d="M1899 460.7 1905.9 458.2 1906.9 451.2 1900 453.7zM1857.8 468.9 1862.8 467.1 1863.8 460 1858.8 461.8zM1884.4 452.7 1891.4 450.2 1892.4 443.2 1885.4 445.6zM1852.6 457.2 1857.6 455.4 1858.6 448.3 1853.5 450zM1873 443.2 1877.9 441.5 1878.9 434.4 1874 436.1zM1906.6 431.5 1911.4 429.9 1912.4 422.9 1907.6 424.5z" fill="#4a2f08" fill-opacity="0.02"/>
<path d="M1864.4 473.3 1873.9 469.8 1874.9 462.8 1865.3 466.2zM1858.8 461.8 1868.5 458.3 1869.5 451.2 1859.8 454.7zM1868.5 458.3 1884.4 452.7 1885.4 445.6 1869.5 451.2zM1889.6 444.1 1899 440.8 1900 433.8 1890.6 437.1zM1853.5 450 1863.3 446.6 1864.3 439.4 1854.5 442.8zM1882.9 439.8 1892.3 436.5 1893.4 429.4 1883.9 432.7zM1892.3 436.5 1901.7 433.2 1902.8 426.2 1893.4 429.4zM1854.5 442.8 1861.8 440.3 1862.7 433.1 1855.5 435.6zM1905.9 425.1 1917.9 421 1918.9 414 1906.9 418.1zM1922.6 419.3 1924.7 418.6 1925.7 411.7 1923.7 412.4z" fill="#4a2f08" fill-opacity="0.04"/>
<path d="M1859.4 475.1L1860.3 468M1864.4 473.3L1865.3 466.2M1873.9 469.8L1874.9 462.8M1883.4 466.3L1884.4 459.3M1899 460.7L1900 453.7M1905.9 458.2L1906.9 451.2M1912.7 455.7L1913.7 448.8M1857.8 468.9L1858.8 461.8M1862.8 467.1L1863.8 460M1878.8 461.4L1879.8 454.3M1888.3 457.9L1889.3 450.9M1895.2 455.4L1896.2 448.5M1907.2 451.1L1908.3 444.2M1912 449.4L1913 442.5M1850.6 471.5L1920.5 446.4M1858.8 461.8L1859.8 454.7M1868.5 458.3L1869.5 451.2M1884.4 452.7L1885.4 445.6M1891.4 450.2L1892.4 443.2M1898.3 447.7L1899.3 440.7M1910.3 443.4L1911.4 436.5M1851.6 464.4L1921.5 439.5M1857.6 455.4L1858.6 448.3M1873.7 449.7L1874.7 442.6M1889.6 444.1L1890.6 437.1M1899 440.8L1900 433.8M1905.9 438.4L1906.9 431.4M1910.7 436.7L1911.7 429.7M1852.6 457.2L1922.6 432.6M1863.3 446.6L1864.3 439.4M1873 443.2L1874 436.1M1877.9 441.5L1878.9 434.4M1882.9 439.8L1883.9 432.7M1892.3 436.5L1893.4 429.4M1901.7 433.2L1902.8 426.2M1906.6 431.5L1907.6 424.5M1911.4 429.9L1912.4 422.9M1916.1 428.2L1917.2 421.2M1853.5 450L1923.6 425.6M1861.8 440.3L1862.7 433.1M1877.9 434.7L1878.9 427.6M1893.7 429.3L1894.7 422.2M1905.9 425.1L1906.9 418.1M1917.9 421L1918.9 414M1922.6 419.3L1923.7 412.4M1854.5 442.8L1924.7 418.6" fill="none" stroke="#4f390f" stroke-width="0.8" stroke-opacity="0.11"/>
<polygon points="1855.5,435.6 1925.7,411.7 1925.4,413.8 1855.2,437.8" fill="#e1cca4" fill-opacity="0.92"/>
<polygon points="1855.2,437.8 1925.4,413.8 1925.1,415.4 1855,439.5" fill="#e1cca4" fill-opacity="0.60"/>
<polygon points="1855,439.5 1925.1,415.4 1924.8,417.5 1854.7,441.7" fill="#e1cca4" fill-opacity="0.30"/>
<polygon points="1854.7,441.7 1924.8,417.5 1924.3,420.9 1854.2,445.1" fill="#e1cca4" fill-opacity="0.12"/>
<polyline points="1855.5,435.6 1849.7,478.6 1919.4,453.3 1925.7,411.7" fill="none" stroke="#474747" stroke-width="1.9" stroke-linecap="round" stroke-linejoin="round"/>
<polygon points="1774.6,505.8 1849.7,478.6 1855.5,435.6 1779.9,461.4" fill="#aa9b7d"/>
<path d="M1813.7 484.8 1830.5 478.8 1831.4 471.6 1814.7 477.5zM1776.3 491.1 1793.8 484.9 1794.7 477.6 1777.2 483.7zM1796.2 477 1813.3 471 1814.3 463.7 1797.1 469.7zM1813.3 471 1823.5 467.5 1824.4 460.2 1814.3 463.7zM1823.5 467.5 1828.7 465.6 1829.6 458.4 1824.4 460.2zM1778.1 476.3 1791.7 471.6 1792.6 464.2 1779 468.8zM1791.7 471.6 1808.9 465.6 1809.9 458.2 1792.6 464.2zM1833.3 457.1 1846.2 452.6 1847.2 445.3 1834.3 449.8zM1779 468.8 1796.5 462.8 1797.4 455.4 1779.9 461.4z" fill="#fff" fill-opacity="0.04"/>
<path d="M1819.2 489.7 1835.8 483.7 1836.8 476.5 1820.1 482.5zM1848.6 479 1849.7 478.6 1850.6 471.5 1849.5 471.9zM1783.2 495.7 1800.5 489.5 1801.4 482.2 1784.1 488.3zM1800.5 489.5 1813.7 484.8 1814.7 477.5 1801.4 482.2zM1817.7 476.5 1830.7 471.8 1831.7 464.6 1818.6 469.2zM1790.8 478.9 1796.2 477 1797.1 469.7 1791.7 471.6zM1828.7 465.6 1836.1 463 1837 455.8 1829.6 458.4zM1846 459.5 1852.6 457.2 1853.5 450 1847 452.3zM1821.2 454.3 1838 448.5 1839 441.2 1822.2 447z" fill="#fff" fill-opacity="0.07"/>
<path d="M1804.5 481.1 1817.7 476.5 1818.6 469.2 1805.4 473.8zM1843.6 467.2 1851.6 464.4 1852.6 457.2 1844.5 460zM1836.1 463 1846 459.5 1847 452.3 1837 455.8z" fill="#4a2f08" fill-opacity="0.02"/>
<path d="M1802.3 495.8 1819.2 489.7 1820.1 482.5 1803.2 488.6zM1835.7 476.9 1840.8 475.1 1841.7 467.9 1836.6 469.7zM1840.8 475.1 1845.9 473.2 1846.9 466.1 1841.7 467.9zM1845.9 473.2 1850.6 471.5 1851.6 464.4 1846.9 466.1zM1830.7 471.8 1843.6 467.2 1844.5 460 1831.7 464.6zM1777.2 483.7 1790.8 478.9 1791.7 471.6 1778.1 476.3z" fill="#4a2f08" fill-opacity="0.05"/>
<path d="M1785.1 502L1786 494.7M1802.3 495.8L1803.2 488.6M1819.2 489.7L1820.1 482.5M1835.8 483.7L1836.8 476.5M1848.6 479L1849.5 471.9M1783.2 495.7L1784.1 488.3M1800.5 489.5L1801.4 482.2M1813.7 484.8L1814.7 477.5M1830.5 478.8L1831.4 471.6M1835.7 476.9L1836.6 469.7M1840.8 475.1L1841.7 467.9M1845.9 473.2L1846.9 466.1M1775.5 498.4L1850.6 471.5M1793.8 484.9L1794.7 477.6M1799.1 483L1800 475.7M1804.5 481.1L1805.4 473.8M1817.7 476.5L1818.6 469.2M1830.7 471.8L1831.7 464.6M1843.6 467.2L1844.5 460M1776.3 491.1L1851.6 464.4M1790.8 478.9L1791.7 471.6M1796.2 477L1797.1 469.7M1813.3 471L1814.3 463.7M1823.5 467.5L1824.4 460.2M1828.7 465.6L1829.6 458.4M1836.1 463L1837 455.8M1846 459.5L1847 452.3M1777.2 483.7L1852.6 457.2M1791.7 471.6L1792.6 464.2M1808.9 465.6L1809.9 458.2M1825.9 459.7L1826.8 452.4M1833.3 457.1L1834.3 449.8M1846.2 452.6L1847.2 445.3M1778.1 476.3L1853.5 450M1796.5 462.8L1797.4 455.4M1804.1 460.2L1805.1 452.8M1821.2 454.3L1822.2 447M1838 448.5L1839 441.2M1779 468.8L1854.5 442.8" fill="none" stroke="#4f390f" stroke-width="0.8" stroke-opacity="0.15"/>
<polygon points="1779.9,461.4 1855.5,435.6 1855.2,437.8 1779.6,463.6" fill="#e0cba1" fill-opacity="0.92"/>
<polygon points="1779.6,463.6 1855.2,437.8 1855,439.5 1779.4,465.4" fill="#e0cba1" fill-opacity="0.60"/>
<polygon points="1779.4,465.4 1855,439.5 1854.7,441.7 1779.1,467.6" fill="#e0cba1" fill-opacity="0.30"/>
<polygon points="1779.1,467.6 1854.7,441.7 1854.2,445.1 1778.7,471.2" fill="#e0cba1" fill-opacity="0.12"/>
<polyline points="1779.9,461.4 1774.6,505.8 1849.7,478.6 1855.5,435.6" fill="none" stroke="#404040" stroke-width="2" stroke-linecap="round" stroke-linejoin="round"/>
<polygon points="1693.4,535.1 1774.6,505.8 1779.9,461.4 1698.1,489.1" fill="#a89779"/>
<path d="M1716.8 522.2 1722.6 520.1 1723.1 515.6 1717.3 517.7zM1741 513.6 1751.8 509.7 1752.3 505.2 1741.5 509.1zM1702.7 522.9 1717.3 517.7 1717.8 513.2 1703.2 518.4zM1709.1 516.3 1723.6 511.1 1724.1 506.6 1709.6 511.7zM1740.5 496.5 1754.7 491.5 1755.2 487.1 1741 492zM1696.2 507.6 1704.7 504.7 1705.1 500.1 1696.7 503zM1716 500.7 1721.8 498.7 1722.3 494.1 1716.4 496.1zM1732.9 494.8 1751.2 488.4 1751.7 483.9 1733.4 490.3zM1696.7 503 1715.6 496.4 1716.1 491.8 1697.2 498.4zM1756.5 482.3 1762.1 480.4 1762.6 475.9 1757 477.8zM1697.2 498.4 1716.1 491.8 1716.6 487.2 1697.6 493.8zM1724.4 489 1730.2 487 1730.7 482.4 1724.9 484.4z" fill="#fff" fill-opacity="0.04"/>
<path d="M1693.4 535.1 1701.8 532 1702.3 527.5 1693.8 530.5zM1724.2 523.9 1732.3 520.9 1732.8 516.5 1724.7 519.4zM1708.5 525.2 1716.8 522.2 1717.3 517.7 1709 520.7zM1759.5 502.7 1767.4 499.9 1767.9 495.4 1760 498.2zM1767.4 499.9 1775.3 497.1 1775.8 492.7 1767.9 495.4zM1729.4 504.7 1747.7 498.3 1748.2 493.8 1729.9 500.2zM1715.5 505.3 1726.6 501.3 1727.1 496.8 1716 500.7zM1730.2 487 1741.2 483.2 1741.7 478.6 1730.7 482.4z" fill="#fff" fill-opacity="0.09"/>
<path d="M1756.5 512.3 1767.2 508.4 1767.7 504 1757 507.8zM1723.6 511.1 1729.3 509.1 1729.8 504.6 1724.1 506.6zM1729.3 509.1 1743.6 504 1744.1 499.5 1729.8 504.6zM1743.6 504 1754.4 500.2 1754.9 495.7 1744.1 499.5zM1754.4 500.2 1772.2 493.9 1772.8 489.5 1754.9 495.7zM1695.3 516.8 1703.7 513.8 1704.2 509.2 1695.7 512.2zM1776 484.1 1777.2 483.7 1777.7 479.2 1776.6 479.6zM1704.7 504.7 1716 500.7 1716.4 496.1 1705.1 500.1zM1762 484.7 1772.6 481 1773.2 476.5 1762.5 480.2zM1767.6 478.4 1778.3 474.8 1778.8 470.3 1768.2 474zM1752.2 479.4 1770.1 473.3 1770.7 468.8 1752.7 474.9zM1709.5 489.7 1715.3 487.7 1715.8 483.1 1709.9 485.1zM1715.3 487.7 1723.7 484.8 1724.2 480.2 1715.8 483.1zM1750.3 475.7 1755.9 473.8 1756.4 469.3 1750.8 471.2zM1755.9 473.8 1769.9 469.1 1770.4 464.6 1756.4 469.3zM1769.9 469.1 1779.3 465.9 1779.9 461.4 1770.4 464.6z" fill="#4a2f08" fill-opacity="0.03"/>
<path d="M1693.8 530.5 1708.5 525.2 1709 520.7 1694.3 526zM1769.6 503.3 1775.1 501.4 1775.6 497 1770.2 498.9zM1723.1 515.6 1741.5 509.1 1742 504.6 1723.6 511.1zM1741.5 509.1 1759.5 502.7 1760 498.2 1742 504.6zM1694.8 521.4 1700.7 519.3 1701.2 514.7 1695.3 516.8zM1776.3 488.3 1776.7 488.1 1777.2 483.7 1776.8 483.8zM1695.7 512.2 1704.2 509.2 1704.7 504.7 1696.2 507.6zM1772.6 481 1777.7 479.2 1778.3 474.8 1773.2 476.5zM1741.2 483.2 1752.2 479.4 1752.7 474.9 1741.7 478.6zM1770.1 473.3 1778.8 470.3 1779.3 465.9 1770.7 468.8zM1703.6 491.7 1709.5 489.7 1709.9 485.1 1704 487.1z" fill="#4a2f08" fill-opacity="0.06"/>
<path d="M1701.8 532L1702.3 527.5M1713 527.9L1713.5 523.4M1724.2 523.9L1724.7 519.4M1732.3 520.9L1732.8 516.5M1740.5 518L1741 513.6M1748.5 515.1L1749 510.7M1756.5 512.3L1757 507.8M1767.2 508.4L1767.7 504M1708.5 525.2L1709 520.7M1716.8 522.2L1717.3 517.7M1722.6 520.1L1723.1 515.6M1741 513.6L1741.5 509.1M1751.8 509.7L1752.3 505.2M1769.6 503.3L1770.2 498.9M1693.8 530.5L1775.1 501.4M1702.7 522.9L1703.2 518.4M1717.3 517.7L1717.8 513.2M1723.1 515.6L1723.6 511.1M1741.5 509.1L1742 504.6M1759.5 502.7L1760 498.2M1767.4 499.9L1767.9 495.4M1775.3 497.1L1775.8 492.7M1694.3 526L1775.6 497M1700.7 519.3L1701.2 514.7M1709.1 516.3L1709.6 511.7M1723.6 511.1L1724.1 506.6M1729.3 509.1L1729.8 504.6M1743.6 504L1744.1 499.5M1754.4 500.2L1754.9 495.7M1772.2 493.9L1772.8 489.5M1694.8 521.4L1776.2 492.5M1703.7 513.8L1704.2 509.2M1715 509.8L1715.5 505.3M1729.4 504.7L1729.9 500.2M1747.7 498.3L1748.2 493.8M1765.7 492L1766.2 487.5M1776.3 488.3L1776.8 483.8M1695.3 516.8L1776.7 488.1M1704.2 509.2L1704.7 504.7M1715.5 505.3L1716 500.7M1726.6 501.3L1727.1 496.8M1732.4 499.3L1732.9 494.8M1740.5 496.5L1741 492M1754.7 491.5L1755.2 487.1M1765.4 487.8L1765.9 483.3M1776 484.1L1776.6 479.6M1695.7 512.2L1777.2 483.7M1704.7 504.7L1705.1 500.1M1716 500.7L1716.4 496.1M1721.8 498.7L1722.3 494.1M1732.9 494.8L1733.4 490.3M1751.2 488.4L1751.7 483.9M1762 484.7L1762.5 480.2M1772.6 481L1773.2 476.5M1696.2 507.6L1777.7 479.2M1715.6 496.4L1716.1 491.8M1734.2 490L1734.7 485.4M1742.4 487.2L1742.9 482.6M1756.5 482.3L1757 477.8M1762.1 480.4L1762.6 475.9M1767.6 478.4L1768.2 474M1696.7 503L1778.3 474.8M1716.1 491.8L1716.6 487.2M1724.4 489L1724.9 484.4M1730.2 487L1730.7 482.4M1741.2 483.2L1741.7 478.6M1752.2 479.4L1752.7 474.9M1770.1 473.3L1770.7 468.8M1697.2 498.4L1778.8 470.3M1703.6 491.7L1704 487.1M1709.5 489.7L1709.9 485.1M1715.3 487.7L1715.8 483.1M1723.7 484.8L1724.2 480.2M1731.9 482L1732.4 477.4M1750.3 475.7L1750.8 471.2M1755.9 473.8L1756.4 469.3M1769.9 469.1L1770.4 464.6M1697.6 493.8L1779.3 465.9" fill="none" stroke="#4f390f" stroke-width="0.8" stroke-opacity="0.18"/>
<polygon points="1698.1,489.1 1779.9,461.4 1779.6,463.6 1697.9,491.5" fill="#dfc99e" fill-opacity="0.92"/>
<polygon points="1697.9,491.5 1779.6,463.6 1779.4,465.4 1697.7,493.3" fill="#dfc99e" fill-opacity="0.60"/>
<polygon points="1697.7,493.3 1779.4,465.4 1779.1,467.6 1697.4,495.6" fill="#dfc99e" fill-opacity="0.30"/>
<polygon points="1697.4,495.6 1779.1,467.6 1778.7,471.2 1697.1,499.3" fill="#dfc99e" fill-opacity="0.12"/>
<polyline points="1698.1,489.1 1693.4,535.1 1774.6,505.8 1779.9,461.4" fill="none" stroke="#393939" stroke-width="2" stroke-linecap="round" stroke-linejoin="round"/>
<polygon points="1605.6,567.1 1693.4,535.1 1698.1,489.1 1609.6,519.6" fill="#a59474"/>
<path d="M1653.8 549.5 1665.6 545.2 1666 540.6 1654.3 544.9zM1682.8 539 1693.4 535.1 1693.8 530.5 1683.2 534.4zM1624.6 555.7 1636.6 551.3 1637.1 546.7 1625 551zM1660.8 542.5 1669.5 539.4 1669.9 534.8 1661.3 537.9zM1675.5 537.2 1690.4 531.8 1690.9 527.2 1676 532.6zM1606.4 557.7 1612.8 555.4 1613.2 550.7 1606.8 553zM1675.2 524 1690.2 518.6 1690.6 514 1675.6 519.4zM1690.2 518.6 1695.3 516.8 1695.7 512.2 1690.6 514zM1608.8 529.2 1615.2 527 1615.6 522.2 1609.2 524.4zM1624.3 523.8 1644.5 516.8 1645 512 1624.7 519.1z" fill="#fff" fill-opacity="0.05"/>
<path d="M1645.5 548.1 1660.8 542.5 1661.3 537.9 1645.9 543.5zM1648.1 538.2 1656.9 535 1657.3 530.4 1648.6 533.5zM1693.9 521.7 1694.8 521.4 1695.3 516.8 1694.4 517.1zM1636.6 537.8 1645.5 534.6 1645.9 529.9 1637 533.1zM1669.1 526.1 1675.2 524 1675.6 519.4 1669.6 521.5zM1607.6 543.5 1628 536.3 1628.5 531.6 1608 538.8zM1655.2 526.6 1667 522.4 1667.4 517.8 1655.6 522zM1682.2 508.1 1696.7 503 1697.2 498.4 1682.6 503.5zM1656.5 512.6 1668.3 508.4 1668.8 503.8 1656.9 507.9zM1668.3 508.4 1677 505.4 1677.5 500.7 1668.8 503.8zM1642.7 512.8 1662.6 505.9 1663.1 501.2 1643.2 508.1z" fill="#fff" fill-opacity="0.10"/>
<path d="M1605.6 567.1 1617.9 562.7 1618.3 558 1606 562.4zM1674.2 542.1 1682.8 539 1683.2 534.4 1674.7 537.5zM1636.6 551.3 1645.5 548.1 1645.9 543.5 1637.1 546.7zM1612.8 555.4 1628.6 549.7 1629 545 1613.2 550.7zM1649.4 542.2 1655.6 540 1656 535.3 1649.9 537.5zM1628.5 531.6 1637.4 528.4 1637.9 523.7 1628.9 526.8zM1637.4 528.4 1649.4 524.1 1649.9 519.4 1637.9 523.7zM1649.4 524.1 1658.2 521 1658.7 516.3 1649.9 519.4zM1658.2 521 1677.8 514.1 1678.3 509.5 1658.7 516.3zM1608.4 534 1617.5 530.8 1618 526 1608.8 529.2zM1677 505.4 1688.6 501.4 1689.1 496.7 1677.5 500.7zM1688.6 501.4 1694.6 499.3 1695.1 494.6 1689.1 496.7zM1609.2 524.4 1621.6 520.2 1622 515.4 1609.6 519.6zM1621.6 520.2 1633.8 515.9 1634.2 511.2 1622 515.4zM1633.8 515.9 1642.7 512.8 1643.2 508.1 1634.2 511.2zM1674.4 501.8 1680.5 499.7 1681 495 1674.9 497.1z" fill="#4a2f08" fill-opacity="0.04"/>
<path d="M1617.9 562.7 1630 558.2 1630.4 553.6 1618.3 558zM1630 558.2 1642 553.9 1642.4 549.2 1630.4 553.6zM1665.6 545.2 1674.2 542.1 1674.7 537.5 1666 540.6zM1618.3 558 1624.6 555.7 1625 551 1618.7 553.3zM1637.5 546.5 1649.4 542.2 1649.9 537.5 1637.9 541.8zM1656.9 535 1663 532.8 1663.5 528.2 1657.3 530.4zM1645.5 534.6 1654.3 531.5 1654.7 526.8 1645.9 529.9zM1634.3 534 1643.2 530.9 1643.7 526.2 1634.7 529.3zM1643.2 530.9 1655.2 526.6 1655.6 522 1643.7 526.2zM1667 522.4 1678.6 518.3 1679.1 513.6 1667.4 517.8zM1617.5 530.8 1629.8 526.5 1630.2 521.8 1618 526zM1645.4 521 1651.6 518.8 1652.1 514.1 1645.9 516.3zM1651.6 518.8 1667 513.4 1667.4 508.7 1652.1 514.1zM1644.5 516.8 1656.5 512.6 1656.9 507.9 1645 512zM1694.6 499.3 1697.2 498.4 1697.6 493.8 1695.1 494.6zM1680.5 499.7 1695.5 494.5 1696 489.9 1681 495z" fill="#4a2f08" fill-opacity="0.07"/>
<path d="M1617.9 562.7L1618.3 558M1630 558.2L1630.4 553.6M1642 553.9L1642.4 549.2M1653.8 549.5L1654.3 544.9M1665.6 545.2L1666 540.6M1674.2 542.1L1674.7 537.5M1682.8 539L1683.2 534.4M1618.3 558L1618.7 553.3M1624.6 555.7L1625 551M1636.6 551.3L1637.1 546.7M1645.5 548.1L1645.9 543.5M1660.8 542.5L1661.3 537.9M1669.5 539.4L1669.9 534.8M1675.5 537.2L1676 532.6M1690.4 531.8L1690.9 527.2M1606 562.4L1693.8 530.5M1612.8 555.4L1613.2 550.7M1628.6 549.7L1629 545M1637.5 546.5L1637.9 541.8M1649.4 542.2L1649.9 537.5M1655.6 540L1656 535.3M1664.3 536.8L1664.8 532.2M1679.4 531.3L1679.9 526.7M1606.4 557.7L1694.3 526M1619.1 548.6L1619.5 543.9M1639.3 541.3L1639.7 536.7M1648.1 538.2L1648.6 533.5M1656.9 535L1657.3 530.4M1663 532.8L1663.5 528.2M1674.7 528.6L1675.2 524M1693.9 521.7L1694.4 517.1M1606.8 553L1694.8 521.4M1627.6 541L1628 536.3M1636.6 537.8L1637 533.1M1645.5 534.6L1645.9 529.9M1654.3 531.5L1654.7 526.8M1663 528.3L1663.5 523.7M1669.1 526.1L1669.6 521.5M1675.2 524L1675.6 519.4M1690.2 518.6L1690.6 514M1607.2 548.3L1695.3 516.8M1628 536.3L1628.5 531.6M1634.3 534L1634.7 529.3M1643.2 530.9L1643.7 526.2M1655.2 526.6L1655.6 522M1667 522.4L1667.4 517.8M1678.6 518.3L1679.1 513.6M1687.2 515.2L1687.7 510.6M1693.2 513.1L1693.7 508.5M1607.6 543.5L1695.7 512.2M1628.5 531.6L1628.9 526.8M1637.4 528.4L1637.9 523.7M1649.4 524.1L1649.9 519.4M1658.2 521L1658.7 516.3M1677.8 514.1L1678.3 509.5M1608 538.8L1696.2 507.6M1617.5 530.8L1618 526M1629.8 526.5L1630.2 521.8M1645.4 521L1645.9 516.3M1651.6 518.8L1652.1 514.1M1667 513.4L1667.4 508.7M1682.2 508.1L1682.6 503.5M1608.4 534L1696.7 503M1615.2 527L1615.6 522.2M1624.3 523.8L1624.7 519.1M1644.5 516.8L1645 512M1656.5 512.6L1656.9 507.9M1668.3 508.4L1668.8 503.8M1677 505.4L1677.5 500.7M1688.6 501.4L1689.1 496.7M1694.6 499.3L1695.1 494.6M1608.8 529.2L1697.2 498.4M1621.6 520.2L1622 515.4M1633.8 515.9L1634.2 511.2M1642.7 512.8L1643.2 508.1M1662.6 505.9L1663.1 501.2M1674.4 501.8L1674.9 497.1M1680.5 499.7L1681 495M1695.5 494.5L1696 489.9M1609.2 524.4L1697.6 493.8" fill="none" stroke="#4f390f" stroke-width="0.8" stroke-opacity="0.21"/>
<polygon points="1609.6,519.6 1698.1,489.1 1697.9,491.5 1609.4,522" fill="#dec79b" fill-opacity="0.92"/>
<polygon points="1609.4,522 1697.9,491.5 1697.7,493.3 1609.3,524" fill="#dec79b" fill-opacity="0.60"/>
<polygon points="1609.3,524 1697.7,493.3 1697.4,495.6 1609.1,526.4" fill="#dec79b" fill-opacity="0.30"/>
<polygon points="1609.1,526.4 1697.4,495.6 1697.1,499.3 1608.7,530.2" fill="#dec79b" fill-opacity="0.12"/>
<polyline points="1609.6,519.6 1605.6,567.1 1693.4,535.1 1698.1,489.1" fill="none" stroke="#323232" stroke-width="2" stroke-linecap="round" stroke-linejoin="round"/>
<polygon points="1510.6,601.6 1605.6,567.1 1609.6,519.6 1513.7,552.5" fill="#a29170"/>
<path d="M1523.9 596.8 1545.7 588.9 1546.1 584.1 1524.2 592zM1567.2 581.1 1576.5 577.7 1576.9 573 1567.5 576.4zM1510.9 596.7 1533 588.8 1533.4 584 1511.2 591.9zM1546.1 584.1 1562.8 578.1 1563.1 573.3 1546.4 579.3zM1583.9 570.4 1604.6 562.9 1605 558.2 1584.3 565.7zM1518.2 589.4 1525 587 1525.4 582.1 1518.5 584.6zM1525 587 1534.8 583.5 1535.1 578.6 1525.4 582.1zM1545.5 565.5 1562.3 559.6 1562.7 554.7 1545.9 560.6zM1583.3 538.1 1595.9 533.7 1596.3 528.9 1583.7 533.3zM1595.9 533.7 1608.8 529.2 1609.2 524.4 1596.3 528.9zM1535.7 549.9 1557.5 542.3 1557.9 537.4 1536 544.9z" fill="#fff" fill-opacity="0.06"/>
<path d="M1604.6 562.9 1606 562.4 1606.4 557.7 1605 558.2zM1534.8 583.5 1551.7 577.4 1552.1 572.6 1535.1 578.6zM1536 573.6 1545.7 570.2 1546 565.3 1536.3 568.8zM1571.9 560.8 1584.6 556.3 1585 551.5 1572.3 556zM1585.4 551.4 1594.7 548.1 1595.1 543.3 1585.8 546.6zM1534.7 564.6 1551.7 558.6 1552 553.7 1535 559.7zM1513.4 557.5 1535.7 549.9 1536 544.9 1513.7 552.5zM1579 534.9 1585.5 532.6 1585.9 527.8 1579.3 530.1z" fill="#fff" fill-opacity="0.12"/>
<path d="M1562.8 578.1 1583.9 570.4 1584.3 565.7 1563.1 573.3zM1561.2 574 1582.4 566.4 1582.8 561.6 1561.6 569.2zM1582.4 566.4 1598.6 560.5 1599 555.8 1582.8 561.6zM1548.7 573.8 1555.4 571.4 1555.8 566.6 1549 569zM1519.1 574.8 1526 572.4 1526.3 567.5 1519.4 569.9zM1578.9 553.7 1585.4 551.4 1585.8 546.6 1579.2 548.9zM1551.7 558.6 1564.6 554.1 1564.9 549.2 1552 553.7zM1550.1 554.4 1559.7 551.1 1560.1 546.2 1550.4 549.5zM1573.9 541.4 1583.3 538.1 1583.7 533.3 1574.2 536.5zM1594.9 529.4 1601.4 527.1 1601.8 522.3 1595.3 524.6z" fill="#4a2f08" fill-opacity="0.04"/>
<path d="M1545.7 588.9 1567.2 581.1 1567.5 576.4 1546.1 584.1zM1605.2 567.3 1605.6 567.1 1606 562.4 1605.6 562.6zM1551.7 577.4 1561.2 574 1561.6 569.2 1552.1 572.6zM1524.9 582.3 1541.9 576.2 1542.3 571.4 1525.2 577.4zM1600.9 555.1 1606.8 553 1607.2 548.3 1601.2 550.4zM1584.6 556.3 1600.8 550.5 1601.2 545.8 1585 551.5zM1512.2 577.2 1519.1 574.8 1519.4 569.9 1512.5 572.3zM1594.7 548.1 1603.9 544.8 1604.3 540.1 1595.1 543.3zM1512.5 572.3 1534.7 564.6 1535 559.7 1512.8 567.4zM1577.4 549.6 1598.3 542.2 1598.7 537.4 1577.7 544.7zM1598.3 542.2 1608 538.8 1608.4 534 1598.7 537.4zM1543.3 556.8 1550.1 554.4 1550.4 549.5 1543.6 551.9z" fill="#4a2f08" fill-opacity="0.08"/>
<path d="M1523.9 596.8L1524.2 592M1545.7 588.9L1546.1 584.1M1567.2 581.1L1567.5 576.4M1576.5 577.7L1576.9 573M1592.8 571.8L1593.2 567.1M1605.2 567.3L1605.6 562.6M1533 588.8L1533.4 584M1546.1 584.1L1546.4 579.3M1562.8 578.1L1563.1 573.3M1583.9 570.4L1584.3 565.7M1604.6 562.9L1605 558.2M1510.9 596.7L1606 562.4M1518.2 589.4L1518.5 584.6M1525 587L1525.4 582.1M1534.8 583.5L1535.1 578.6M1551.7 577.4L1552.1 572.6M1561.2 574L1561.6 569.2M1582.4 566.4L1582.8 561.6M1598.6 560.5L1599 555.8M1511.2 591.9L1606.4 557.7M1524.9 582.3L1525.2 577.4M1541.9 576.2L1542.3 571.4M1548.7 573.8L1549 569M1555.4 571.4L1555.8 566.6M1568.2 566.8L1568.6 562M1584.7 560.9L1585 556.2M1600.9 555.1L1601.2 550.4M1511.5 587L1606.8 553M1518.8 579.7L1519.1 574.8M1536 573.6L1536.3 568.8M1545.7 570.2L1546 565.3M1555.3 566.8L1555.6 561.9M1571.9 560.8L1572.3 556M1584.6 556.3L1585 551.5M1600.8 550.5L1601.2 545.8M1511.8 582.1L1607.2 548.3M1519.1 574.8L1519.4 569.9M1526 572.4L1526.3 567.5M1535.8 568.9L1536.2 564.1M1545.5 565.5L1545.9 560.6M1562.3 559.6L1562.7 554.7M1578.9 553.7L1579.2 548.9M1585.4 551.4L1585.8 546.6M1594.7 548.1L1595.1 543.3M1603.9 544.8L1604.3 540.1M1512.2 577.2L1607.6 543.5M1534.7 564.6L1535 559.7M1551.7 558.6L1552 553.7M1564.6 554.1L1564.9 549.2M1577.4 549.6L1577.7 544.7M1598.3 542.2L1598.7 537.4M1512.5 572.3L1608 538.8M1530.1 561.4L1530.4 556.5M1543.3 556.8L1543.6 551.9M1550.1 554.4L1550.4 549.5M1559.7 551.1L1560.1 546.2M1569.2 547.7L1569.6 542.9M1585.7 541.9L1586.1 537.1M1606.6 534.6L1607 529.9M1512.8 567.4L1608.4 534M1523 559L1523.4 554.1M1540.2 553.1L1540.6 548.2M1557.2 547.2L1557.5 542.3M1573.9 541.4L1574.2 536.5M1583.3 538.1L1583.7 533.3M1595.9 533.7L1596.3 528.9M1513.1 562.5L1608.8 529.2M1535.7 549.9L1536 544.9M1557.5 542.3L1557.9 537.4M1579 534.9L1579.3 530.1M1585.5 532.6L1585.9 527.8M1594.9 529.4L1595.3 524.6M1601.4 527.1L1601.8 522.3M1513.4 557.5L1609.2 524.4" fill="none" stroke="#4f390f" stroke-width="0.8" stroke-opacity="0.25"/>
<polygon points="1513.7,552.5 1609.6,519.6 1609.4,522 1513.6,555" fill="#ddc597" fill-opacity="0.92"/>
<polygon points="1513.6,555 1609.4,522 1609.3,524 1513.4,557" fill="#ddc597" fill-opacity="0.60"/>
<polygon points="1513.4,557 1609.3,524 1609.1,526.4 1513.3,559.5" fill="#ddc597" fill-opacity="0.30"/>
<polygon points="1513.3,559.5 1609.1,526.4 1608.7,530.2 1513,563.5" fill="#ddc597" fill-opacity="0.12"/>
<polyline points="1513.7,552.5 1510.6,601.6 1605.6,567.1 1609.6,519.6" fill="none" stroke="#2c2c2c" stroke-width="2.1" stroke-linecap="round" stroke-linejoin="round"/>
<polygon points="1406.9,638.5 1510.6,601.6 1513.7,552.5 1409.1,587.6" fill="#9f8d6b"/>
<path d="M1414.5 635.9 1433.1 629.3 1433.4 624.3 1414.7 630.8zM1431.3 625 1449.7 618.5 1450 613.5 1431.5 620zM1463.8 613.5 1481.7 607.1 1482 602.2 1464 608.6zM1502.4 599.8 1510.9 596.7 1511.2 591.9 1502.7 594.9zM1459.4 610.2 1482.5 602.1 1482.8 597.1 1459.6 605.3zM1493.5 593.4 1511 587.2 1511.3 582.3 1493.8 588.5zM1429.3 610.9 1447.9 604.5 1448.1 599.5 1429.5 605.9zM1466.1 598.1 1473.4 595.6 1473.7 590.6 1466.4 593.2zM1473.4 595.6 1480.6 593.1 1480.8 588.1 1473.7 590.6zM1437.3 598.3 1455.7 591.9 1456 586.9 1437.5 593.2zM1408.9 592.7 1433.2 584.7 1433.4 579.6 1409.1 587.6z" fill="#fff" fill-opacity="0.07"/>
<path d="M1497.1 606.4 1510.6 601.6 1510.9 596.7 1497.4 601.6zM1441 616.7 1459.4 610.2 1459.6 605.3 1441.3 611.7zM1499.7 596 1509.7 592.4 1510 587.5 1500 591.1zM1440.8 611.9 1448.1 609.3 1448.4 604.3 1441 606.9zM1418.6 614.6 1429.3 610.9 1429.5 605.9 1418.8 609.5zM1455.7 591.9 1473.9 585.7 1474.2 580.7 1456 586.9zM1494.9 578.4 1505 574.9 1505.3 570 1495.2 573.5zM1408.4 603 1432.7 594.8 1432.9 589.8 1408.6 597.9zM1419.5 594.3 1430.3 590.7 1430.5 585.6 1419.7 589.1zM1468.3 577.8 1482.2 573 1482.5 568 1468.5 572.8zM1489.4 570.6 1499.5 567.1 1499.8 562.1 1489.7 565.6zM1433.2 584.7 1447.6 579.9 1447.8 574.8 1433.4 579.6zM1469.1 572.6 1476.3 570.1 1476.6 565.1 1469.3 567.6zM1476.3 570.1 1490.2 565.4 1490.5 560.4 1476.6 565.1zM1512.9 557.7 1513.4 557.5 1513.7 552.5 1513.2 552.7z" fill="#fff" fill-opacity="0.13"/>
<path d="M1456.8 620.9 1479.9 612.6 1480.2 607.7 1457 615.9zM1479.9 612.6 1490.1 609 1490.4 604.1 1480.2 607.7zM1407.2 633.5 1431.3 625 1431.5 620 1407.4 628.4zM1449.7 618.5 1463.8 613.5 1464 608.6 1450 613.5zM1495.4 602.3 1502.4 599.8 1502.7 594.9 1495.7 597.4zM1448.1 609.3 1458.6 605.6 1458.9 600.7 1448.4 604.3zM1458.6 605.6 1465.9 603.1 1466.1 598.1 1458.9 600.7zM1479.8 598.2 1493.5 593.4 1493.8 588.5 1480 593.3zM1480.6 593.1 1487.7 590.6 1488 585.7 1480.8 588.1zM1487.7 590.6 1494.8 588.1 1495.1 583.2 1488 585.7zM1408.2 608.1 1422.8 603.2 1423 598.1 1408.4 603zM1422.8 603.2 1437.3 598.3 1437.5 593.2 1423 598.1zM1430.3 590.7 1454.2 582.6 1454.4 577.5 1430.5 585.6zM1454.2 582.6 1468.3 577.8 1468.5 572.8 1454.4 577.5zM1482.2 573 1489.4 570.6 1489.7 565.6 1482.5 568zM1490.2 565.4 1512.9 557.7 1513.2 552.7 1490.5 560.4z" fill="#4a2f08" fill-opacity="0.05"/>
<path d="M1433.1 629.3 1456.8 620.9 1457 615.9 1433.4 624.3zM1422.1 618.3 1440.8 611.9 1441 606.9 1422.4 613.3zM1465.9 603.1 1479.8 598.2 1480 593.3 1466.1 598.1zM1447.9 604.5 1466.1 598.1 1466.4 593.2 1448.1 599.5zM1429.5 605.9 1448.1 599.5 1448.4 594.5 1429.8 600.8zM1508.2 578.6 1512.2 577.2 1512.5 572.3 1508.5 573.7zM1432.7 594.8 1456.5 586.7 1456.8 581.7 1432.9 589.8zM1456.5 586.7 1467 583.2 1467.2 578.1 1456.8 581.7zM1500.2 571.7 1510.3 568.3 1510.6 563.3 1500.5 566.8zM1499.5 567.1 1513.1 562.5 1513.4 557.5 1499.8 562.1z" fill="#4a2f08" fill-opacity="0.09"/>
<path d="M1414.5 635.9L1414.7 630.8M1433.1 629.3L1433.4 624.3M1456.8 620.9L1457 615.9M1479.9 612.6L1480.2 607.7M1490.1 609L1490.4 604.1M1497.1 606.4L1497.4 601.6M1431.3 625L1431.5 620M1449.7 618.5L1450 613.5M1463.8 613.5L1464 608.6M1481.7 607.1L1482 602.2M1495.4 602.3L1495.7 597.4M1502.4 599.8L1502.7 594.9M1407.2 633.5L1510.9 596.7M1426.2 621.9L1426.4 616.9M1433.6 619.3L1433.9 614.3M1441 616.7L1441.3 611.7M1459.4 610.2L1459.6 605.3M1482.5 602.1L1482.8 597.1M1489.7 599.5L1489.9 594.6M1499.7 596L1500 591.1M1509.7 592.4L1510 587.5M1407.4 628.4L1511.2 591.9M1422.1 618.3L1422.4 613.3M1440.8 611.9L1441 606.9M1448.1 609.3L1448.4 604.3M1458.6 605.6L1458.9 600.7M1465.9 603.1L1466.1 598.1M1479.8 598.2L1480 593.3M1493.5 593.4L1493.8 588.5M1511 587.2L1511.3 582.3M1407.6 623.4L1511.5 587M1418.6 614.6L1418.8 609.5M1429.3 610.9L1429.5 605.9M1447.9 604.5L1448.1 599.5M1466.1 598.1L1466.4 593.2M1473.4 595.6L1473.7 590.6M1480.6 593.1L1480.8 588.1M1487.7 590.6L1488 585.7M1494.8 588.1L1495.1 583.2M1407.8 618.3L1511.8 582.1M1418.8 609.5L1419 604.4M1429.5 605.9L1429.8 600.8M1448.1 599.5L1448.4 594.5M1466.4 593.2L1466.7 588.2M1484.4 586.9L1484.7 581.9M1498.1 582.1L1498.4 577.2M1508.2 578.6L1508.5 573.7M1408 613.2L1512.2 577.2M1422.8 603.2L1423 598.1M1437.3 598.3L1437.5 593.2M1455.7 591.9L1456 586.9M1473.9 585.7L1474.2 580.7M1487.8 580.9L1488.1 575.9M1494.9 578.4L1495.2 573.5M1505 574.9L1505.3 570M1408.2 608.1L1512.5 572.3M1432.7 594.8L1432.9 589.8M1456.5 586.7L1456.8 581.7M1467 583.2L1467.2 578.1M1477.3 579.6L1477.6 574.6M1500.2 571.7L1500.5 566.8M1510.3 568.3L1510.6 563.3M1408.4 603L1512.8 567.4M1419.5 594.3L1419.7 589.1M1430.3 590.7L1430.5 585.6M1454.2 582.6L1454.4 577.5M1468.3 577.8L1468.5 572.8M1482.2 573L1482.5 568M1489.4 570.6L1489.7 565.6M1499.5 567.1L1499.8 562.1M1408.6 597.9L1513.1 562.5M1433.2 584.7L1433.4 579.6M1447.6 579.9L1447.8 574.8M1461.8 575.1L1462 570M1469.1 572.6L1469.3 567.6M1476.3 570.1L1476.6 565.1M1490.2 565.4L1490.5 560.4M1512.9 557.7L1513.2 552.7M1408.9 592.7L1513.4 557.5" fill="none" stroke="#4f390f" stroke-width="0.8" stroke-opacity="0.28"/>
<polygon points="1409.1,587.6 1513.7,552.5 1513.6,555 1409,590.1" fill="#dcc394" fill-opacity="0.92"/>
<polygon points="1409,590.1 1513.6,555 1513.4,557 1408.9,592.2" fill="#dcc394" fill-opacity="0.60"/>
<polygon points="1408.9,592.2 1513.4,557 1513.3,559.5 1408.8,594.8" fill="#dcc394" fill-opacity="0.30"/>
<polygon points="1408.8,594.8 1513.3,559.5 1513,563.5 1408.6,598.9" fill="#dcc394" fill-opacity="0.12"/>
<polyline points="1409.1,587.6 1406.9,638.5 1510.6,601.6 1513.7,552.5" fill="none" stroke="#252525" stroke-width="2.1" stroke-linecap="round" stroke-linejoin="round"/>
<polygon points="1293.9,679.3 1406.9,638.5 1409.1,587.6 1294.9,625.2" fill="#9c8a67"/>
<path d="M1320.4 669.9 1340.5 662.5 1340.6 657.2 1320.5 664.6zM1382.4 647.3 1390.1 644.5 1390.3 639.4 1382.6 642.1zM1389.4 619.5 1397.1 616.9 1397.3 611.8 1389.6 614.3zM1397.1 616.9 1408 613.2 1408.2 608.1 1397.3 611.8zM1321.1 637.8 1341.3 630.7 1341.5 625.4 1321.2 632.4zM1388 614.9 1407.1 608.5 1407.3 603.3 1388.2 609.7zM1294.7 641.6 1310.7 636 1310.8 630.6 1294.8 636.1zM1326.5 630.6 1346.6 623.7 1346.8 618.4 1326.6 625.2zM1403.2 599.7 1408.6 597.9 1408.9 592.7 1403.4 594.5z" fill="#fff" fill-opacity="0.07"/>
<path d="M1325.7 662.7 1337.2 658.5 1337.3 653.2 1325.8 657.3zM1362.4 639 1370.2 636.3 1370.4 631.1 1362.6 633.8zM1310.3 652.2 1318.5 649.3 1318.7 644 1310.4 646.8zM1318.5 649.3 1338.8 642.2 1338.9 636.8 1318.7 644zM1358.8 629.9 1370 626.1 1370.2 620.9 1359 624.7zM1407.1 608.5 1408.2 608.1 1408.4 603 1407.3 603.3zM1366.4 617 1377.6 613.2 1377.8 608 1366.6 611.7zM1377.6 613.2 1385.4 610.7 1385.6 605.5 1377.8 608zM1400.2 605.7 1407.9 603.2 1408.1 598 1400.4 600.6zM1407.9 603.2 1408.4 603 1408.6 597.9 1408.1 598zM1294.8 636.1 1306.7 632 1306.8 626.6 1294.9 630.7zM1392.2 603.3 1403.2 599.7 1403.4 594.5 1392.4 598.1zM1294.9 630.7 1306.8 626.6 1306.9 621.2 1294.9 625.2z" fill="#fff" fill-opacity="0.15"/>
<path d="M1351.8 658.4 1363 654.3 1363.2 649.1 1352 653.1zM1314.1 666.9 1325.7 662.7 1325.8 657.3 1314.2 661.5zM1378.2 643.7 1389.2 639.8 1389.4 634.7 1378.4 638.5zM1294.1 668.6 1314.8 661.3 1314.9 656 1294.2 663.3zM1302.5 660.3 1328.8 651 1329 645.6 1302.7 654.9zM1328.8 651 1354.5 641.8 1354.7 636.6 1329 645.6zM1354.5 641.8 1362.4 639 1362.6 633.8 1354.7 636.6zM1402.9 620 1407.8 618.3 1408 613.2 1403.1 614.9zM1352.7 626.8 1360.6 624.1 1360.8 618.9 1352.9 621.5zM1360.6 624.1 1368.5 621.4 1368.7 616.2 1360.8 618.9zM1310.7 636 1326.5 630.6 1326.6 625.2 1310.8 630.6zM1361.5 613.4 1372.8 609.7 1372.9 604.5 1361.7 608.2zM1372.8 609.7 1392.2 603.3 1392.4 598.1 1372.9 604.5z" fill="#4a2f08" fill-opacity="0.05"/>
<path d="M1390.1 644.5 1406.9 638.5 1407.2 633.5 1390.3 639.4zM1294 674 1305.9 669.8 1306 664.5 1294.1 668.6zM1305.9 669.8 1314.1 666.9 1314.2 661.5 1306 664.5zM1366.2 642.9 1381.1 637.6 1381.3 632.4 1366.3 637.7zM1294.2 663.3 1302.5 660.3 1302.7 654.9 1294.3 657.8zM1395.1 627.7 1407.6 623.4 1407.8 618.3 1395.3 622.6zM1338.9 636.8 1358.8 629.9 1359 624.7 1339 631.5zM1370 626.1 1389.4 619.5 1389.6 614.3 1370.2 620.9zM1294.5 647 1321.1 637.8 1321.2 632.4 1294.7 641.6zM1306.8 626.6 1318.5 622.6 1318.7 617.2 1306.9 621.2zM1375.2 603.7 1400.1 595.6 1400.3 590.4 1375.4 598.5z" fill="#4a2f08" fill-opacity="0.10"/>
<path d="M1320.4 669.9L1320.5 664.6M1340.5 662.5L1340.6 657.2M1351.8 658.4L1352 653.1M1363 654.3L1363.2 649.1M1382.4 647.3L1382.6 642.1M1390.1 644.5L1390.3 639.4M1305.9 669.8L1306 664.5M1314.1 666.9L1314.2 661.5M1325.7 662.7L1325.8 657.3M1337.2 658.5L1337.3 653.2M1362.6 649.3L1362.8 644M1370.4 646.5L1370.6 641.3M1378.2 643.7L1378.4 638.5M1389.2 639.8L1389.4 634.7M1294 674L1407.2 633.5M1314.8 661.3L1314.9 656M1340.8 651.9L1340.9 646.7M1366.2 642.9L1366.3 637.7M1381.1 637.6L1381.3 632.4M1400.3 630.9L1400.5 625.8M1294.1 668.6L1407.4 628.4M1302.5 660.3L1302.7 654.9M1328.8 651L1329 645.6M1354.5 641.8L1354.7 636.6M1362.4 639L1362.6 633.8M1370.2 636.3L1370.4 631.1M1395.1 627.7L1395.3 622.6M1294.2 663.3L1407.6 623.4M1310.3 652.2L1310.4 646.8M1318.5 649.3L1318.7 644M1338.8 642.2L1338.9 636.8M1358.6 635.2L1358.8 629.9M1378.2 628.4L1378.4 623.2M1402.9 620L1403.1 614.9M1294.3 657.8L1407.8 618.3M1315.1 645.2L1315.3 639.8M1323.3 642.3L1323.4 636.9M1338.9 636.8L1339 631.5M1358.8 629.9L1359 624.7M1370 626.1L1370.2 620.9M1389.4 619.5L1389.6 614.3M1397.1 616.9L1397.3 611.8M1294.4 652.4L1408 613.2M1321.1 637.8L1321.2 632.4M1341.3 630.7L1341.5 625.4M1352.7 626.8L1352.9 621.5M1360.6 624.1L1360.8 618.9M1368.5 621.4L1368.7 616.2M1388 614.9L1388.2 609.7M1407.1 608.5L1407.3 603.3M1294.5 647L1408.2 608.1M1310.7 636L1310.8 630.6M1326.5 630.6L1326.6 625.2M1346.6 623.7L1346.8 618.4M1366.4 617L1366.6 611.7M1377.6 613.2L1377.8 608M1385.4 610.7L1385.6 605.5M1400.2 605.7L1400.4 600.6M1407.9 603.2L1408.1 598M1294.7 641.6L1408.4 603M1306.7 632L1306.8 626.6M1314.9 629.2L1315 623.8M1330.7 623.8L1330.8 618.5M1346.2 618.6L1346.3 613.3M1361.5 613.4L1361.7 608.2M1372.8 609.7L1372.9 604.5M1392.2 603.3L1392.4 598.1M1403.2 599.7L1403.4 594.5M1294.8 636.1L1408.6 597.9M1306.8 626.6L1306.9 621.2M1318.5 622.6L1318.7 617.2M1334.3 617.3L1334.4 611.9M1349.8 612.1L1349.9 606.8M1375.2 603.7L1375.4 598.5M1400.1 595.6L1400.3 590.4M1294.9 630.7L1408.9 592.7" fill="none" stroke="#4f390f" stroke-width="0.8" stroke-opacity="0.31"/>
<polygon points="1294.9,625.2 1409.1,587.6 1409,590.1 1294.9,628" fill="#dbc291" fill-opacity="0.92"/>
<polygon points="1294.9,628 1409,590.1 1408.9,592.2 1294.9,630.1" fill="#dbc291" fill-opacity="0.60"/>
<polygon points="1294.9,630.1 1408.9,592.2 1408.8,594.8 1294.8,632.9" fill="#dbc291" fill-opacity="0.30"/>
<polygon points="1294.8,632.9 1408.8,594.8 1408.6,598.9 1294.7,637.2" fill="#dbc291" fill-opacity="0.12"/>
<polyline points="1294.9,625.2 1293.9,679.3 1406.9,638.5 1409.1,587.6" fill="none" stroke="#1e1e1e" stroke-width="2.2" stroke-linecap="round" stroke-linejoin="round"/>
<polygon points="2090.9,299 2110.1,293.1 2102.9,330.6 2083.8,336.9" fill="#b9ad95"/>
<polygon points="2045.2,307.9 2089.5,319.5 2144.9,301.8 2137.4,300 2118.5,306 2090.9,299 2110.1,293.1 2101.5,291" fill="#e5d2af"/>
<polyline points="2045.2,307.9 2101.5,291" fill="none" stroke="#5f5f5f" stroke-width="1.8" stroke-linecap="round" stroke-linejoin="round"/>
<polygon points="2062.6,307.6 2084.8,300.9 2112.4,307.9 2090.5,314.8" fill="#afa48e"/>
<polygon points="2062.6,307.6 2062.6,307.6 2084.8,300.9 2082.6,312.8" fill="#b9ad95"/>
<polygon points="2090.5,314.8 2082.6,312.8 2084.8,300.9 2112.4,307.9 2112.4,307.9" fill="#e0cead"/>
<polyline points="2084.8,300.9 2082.6,312.8" fill="none" stroke="#a09785" stroke-width="1" stroke-linecap="butt" stroke-linejoin="round"/>
<polyline points="2062.6,307.6 2090.5,314.8 2112.4,307.9" fill="none" stroke="#5f5f5f" stroke-width="1.6" stroke-linecap="round" stroke-linejoin="round"/>
<polyline points="2101.5,291 2110.1,293.1" fill="none" stroke="#5f5f5f" stroke-width="1.8" stroke-linecap="round" stroke-linejoin="round"/>
<polyline points="2137.4,300 2118.5,306 2090.9,299" fill="none" stroke="#5f5f5f" stroke-width="1.8" stroke-linecap="round" stroke-linejoin="round"/>
<polyline points="2110.1,293.1 2106.5,312" fill="none" stroke="#5f5f5f" stroke-width="1.8" stroke-linecap="round" stroke-linejoin="round"/>
<polygon points="2082.2,358.6 2137.6,339.8 2144.9,301.8 2089.5,319.5" fill="#b7aa91"/>
<polygon points="2089.5,319.5 2144.9,301.8 2144.5,303.7 2089.1,321.5" fill="#e5d2af" fill-opacity="0.92"/>
<polygon points="2089.1,321.5 2144.5,303.7 2144.3,305.3 2088.8,323" fill="#e5d2af" fill-opacity="0.60"/>
<polygon points="2088.8,323 2144.3,305.3 2143.9,307.2 2088.5,325" fill="#e5d2af" fill-opacity="0.30"/>
<polygon points="2088.5,325 2143.9,307.2 2143.3,310.2 2087.9,328.2" fill="#e5d2af" fill-opacity="0.12"/>
<polyline points="2089.5,319.5 2082.2,358.6 2137.6,339.8 2144.9,301.8" fill="none" stroke="#5f5f5f" stroke-width="1.8" stroke-linecap="round" stroke-linejoin="round"/>
<polygon points="1984.8,326 2029.7,338.4 2089.5,319.5 2045.2,307.9" fill="#e4d1ac"/>
<path d="M1991 324.2 1999.3 321.7 2010.4 324.7 2002.1 327.2zM2007.9 319.1 2021.5 315 2032.5 317.9 2018.9 322.1zM2021.5 315 2025.7 313.8 2036.7 316.7 2032.5 317.9zM1995.8 329.1 2009.8 324.8 2020.9 327.9 2007 332.2zM2007 332.2 2017.9 328.8 2029.1 331.9 2018.3 335.3zM2032.2 330.9 2038.3 329 2049.6 332.1 2043.5 334z" fill="#fff" fill-opacity="0.00"/>
<path d="M2025.7 313.8 2039 309.8 2050 312.7 2036.7 316.7zM2018 322.3 2024.1 320.5 2035.2 323.5 2029.2 325.3zM2032.2 318 2036.4 316.8 2047.5 319.7 2043.3 321zM2040.9 321.7 2054.3 317.6 2065.5 320.6 2052.1 324.7zM2018.3 335.3 2032.2 330.9 2043.5 334 2029.7 338.4zM2038.3 329 2048.8 325.8 2060.2 328.8 2049.6 332.1zM2067.2 320 2073.1 318.2 2084.3 321.1 2078.5 323zM2073.1 318.2 2078.3 316.6 2089.5 319.5 2084.3 321.1z" fill="#fff" fill-opacity="0.01"/>
<path d="M2003.6 320.4 2007.9 319.1 2018.9 322.1 2014.7 323.4zM2039 309.8 2045.2 307.9 2056.1 310.8 2050 312.7zM2046.5 313.7 2056.1 310.8 2067.2 313.7 2057.5 316.6zM2022.1 327.5 2030.4 325 2041.6 328 2033.4 330.6z" fill="#4a2f08" fill-opacity="0.00"/>
<path d="M1999.3 321.7 2003.6 320.4 2014.7 323.4 2010.4 324.7zM2017.9 328.8 2022.1 327.5 2033.4 330.6 2029.1 331.9zM2048.8 325.8 2059.3 322.5 2070.6 325.5 2060.2 328.8z" fill="#4a2f08" fill-opacity="0.01"/>
<path d="M1991 324.2L2002.1 327.2M1999.3 321.7L2010.4 324.7M2003.6 320.4L2014.7 323.4M2007.9 319.1L2018.9 322.1M2021.5 315L2032.5 317.9M2025.7 313.8L2036.7 316.7M2039 309.8L2050 312.7M2009.8 324.8L2020.9 327.9M2018 322.3L2029.2 325.3M2024.1 320.5L2035.2 323.5M2032.2 318L2043.3 321M2036.4 316.8L2047.5 319.7M2042.3 315L2053.4 317.9M2046.5 313.7L2057.5 316.6M1995.8 329.1L2056.1 310.8M2017.9 328.8L2029.1 331.9M2022.1 327.5L2033.4 330.6M2030.4 325L2041.6 328M2040.9 321.7L2052.1 324.7M2054.3 317.6L2065.5 320.6M2007 332.2L2067.2 313.7M2032.2 330.9L2043.5 334M2038.3 329L2049.6 332.1M2048.8 325.8L2060.2 328.8M2059.3 322.5L2070.6 325.5M2067.2 320L2078.5 323M2073.1 318.2L2084.3 321.1M2018.3 335.3L2078.3 316.6" fill="none" stroke="#4f390f" stroke-width="0.8" stroke-opacity="0.02"/>
<polyline points="1984.8,326 2045.2,307.9" fill="none" stroke="#585858" stroke-width="1.8" stroke-linecap="round" stroke-linejoin="round"/>
<polygon points="2002.9,325.6 2026.7,318.4 2054.9,326 2031.2,333.4" fill="#aca08a"/>
<polygon points="2002.9,325.6 2002.9,325.6 2026.7,318.4 2024.4,331.5" fill="#b6a990"/>
<polygon points="2031.2,333.4 2024.4,331.5 2026.7,318.4 2054.9,326 2054.9,326" fill="#dfcdaa"/>
<polyline points="2026.7,318.4 2024.5,331.5" fill="none" stroke="#9d9380" stroke-width="1" stroke-linecap="butt" stroke-linejoin="round"/>
<polyline points="2002.9,325.6 2031.2,333.4 2054.9,326" fill="none" stroke="#585858" stroke-width="1.6" stroke-linecap="round" stroke-linejoin="round"/>
<polygon points="2033.3,316.5 2056.3,309.5 2084.2,316.8 2061.4,323.9" fill="#aca08a"/>
<polygon points="2033.3,316.5 2033.3,316.5 2056.3,309.5 2054,322" fill="#b6a990"/>
<polygon points="2061.4,323.9 2054,322 2056.3,309.5 2084.2,316.8 2084.2,316.8" fill="#dfcdaa"/>
<polyline points="2056.3,309.5 2054.1,322" fill="none" stroke="#9d9380" stroke-width="1" stroke-linecap="butt" stroke-linejoin="round"/>
<polyline points="2033.3,316.5 2061.4,323.9 2084.2,316.8" fill="none" stroke="#585858" stroke-width="1.6" stroke-linecap="round" stroke-linejoin="round"/>
<polyline points="2053.9,310.2 2052,321.4" fill="none" stroke="#585858" stroke-width="1.5" stroke-linecap="butt" stroke-linejoin="round"/>
<polyline points="2089.5,319.5 2081.9,317.5" fill="none" stroke="#585858" stroke-width="1.4" stroke-linecap="round" stroke-linejoin="round"/>
<polyline points="2053.9,310.2 2045.2,307.9" fill="none" stroke="#585858" stroke-width="1.4" stroke-linecap="round" stroke-linejoin="round"/>
<polygon points="2022.7,378.8 2082.2,358.6 2089.5,319.5 2029.7,338.4" fill="#b4a78c"/>
<path d="M2036.4 374.1 2044.6 371.4 2045.8 364.8 2037.6 367.5zM2068 363.4 2081 359 2082.2 352.5 2069.2 356.9zM2045.8 364.8 2050 363.4 2051.1 356.7 2046.9 358.1zM2033.3 362.6 2043.9 359.1 2045.1 352.5 2034.5 356zM2047.2 351.8 2051.4 350.4 2052.6 343.7 2048.4 345.1zM2083.8 339.8 2085.8 339.1 2087 332.6 2085 333.3zM2038.1 348.4 2044.2 346.5 2045.4 339.8 2039.3 341.7zM2085.3 333.2 2087 332.6 2088.3 326.1 2086.5 326.6z" fill="#fff" fill-opacity="0.01"/>
<path d="M2043.9 359.1 2057.4 354.7 2058.6 348 2045.1 352.5zM2057.4 354.7 2065.4 352 2066.6 345.4 2058.6 348zM2044.2 346.5 2057.7 342.1 2058.9 335.4 2045.4 339.8zM2072.2 337.4 2085.3 333.2 2086.5 326.6 2073.5 330.8zM2047.2 339.2 2060.7 334.9 2062 328.2 2048.4 332.5z" fill="#fff" fill-opacity="0.01"/>
<path d="M2062.1 365.4 2068 363.4 2069.2 356.9 2063.3 358.9zM2023.8 372.1 2037.6 367.5 2038.8 360.8 2025 365.4zM2075 354.9 2079.1 353.6 2080.3 347.1 2076.2 348.4zM2026.2 358.7 2030.5 357.3 2031.7 350.5 2027.3 351.9zM2030.5 357.3 2041.2 353.8 2042.4 347.1 2031.7 350.5zM2028.5 345.2 2034.7 343.2 2035.9 336.4 2029.7 338.4zM2039 341.8 2047.2 339.2 2048.4 332.5 2040.2 335.1zM2060.7 334.9 2066.7 333 2067.9 326.3 2062 328.2z" fill="#4a2f08" fill-opacity="0.01"/>
<path d="M2058 366.8 2062.1 365.4 2063.3 358.9 2059.2 360.3zM2050 363.4 2055.9 361.4 2057.1 354.8 2051.1 356.7zM2055.9 361.4 2069.2 356.9 2070.4 350.4 2057.1 354.8z" fill="#4a2f08" fill-opacity="0.01"/>
<path d="M2036.4 374.1L2037.6 367.5M2044.6 371.4L2045.8 364.8M2058 366.8L2059.2 360.3M2062.1 365.4L2063.3 358.9M2068 363.4L2069.2 356.9M2081 359L2082.2 352.5M2037.6 367.5L2038.8 360.8M2045.8 364.8L2046.9 358.1M2050 363.4L2051.1 356.7M2055.9 361.4L2057.1 354.8M2069.2 356.9L2070.4 350.4M2075 354.9L2076.2 348.4M2079.1 353.6L2080.3 347.1M2083.1 352.2L2084.3 345.7M2023.8 372.1L2083.4 352.1M2033.3 362.6L2034.5 356M2043.9 359.1L2045.1 352.5M2057.4 354.7L2058.6 348M2065.4 352L2066.6 345.4M2075.6 348.6L2076.9 342.1M2025 365.4L2084.6 345.6M2030.5 357.3L2031.7 350.5M2041.2 353.8L2042.4 347.1M2047.2 351.8L2048.4 345.1M2051.4 350.4L2052.6 343.7M2064.8 346L2066 339.4M2070.7 344.1L2071.9 337.5M2083.8 339.8L2085 333.3M2026.2 358.7L2085.8 339.1M2038.1 348.4L2039.3 341.7M2044.2 346.5L2045.4 339.8M2057.7 342.1L2058.9 335.4M2068.1 338.7L2069.3 332.1M2072.2 337.4L2073.5 330.8M2085.3 333.2L2086.5 326.6M2027.3 351.9L2087 332.6M2034.7 343.2L2035.9 336.4M2039 341.8L2040.2 335.1M2047.2 339.2L2048.4 332.5M2060.7 334.9L2062 328.2M2066.7 333L2067.9 326.3M2070.8 331.7L2072 325M2083.9 327.4L2085.2 320.9M2028.5 345.2L2088.3 326.1" fill="none" stroke="#4f390f" stroke-width="0.8" stroke-opacity="0.03"/>
<polygon points="2029.7,338.4 2089.5,319.5 2089.1,321.5 2029.3,340.4" fill="#e4d1ac" fill-opacity="0.92"/>
<polygon points="2029.3,340.4 2089.1,321.5 2088.8,323 2029.1,342" fill="#e4d1ac" fill-opacity="0.60"/>
<polygon points="2029.1,342 2088.8,323 2088.5,325 2028.7,344.1" fill="#e4d1ac" fill-opacity="0.30"/>
<polygon points="2028.7,344.1 2088.5,325 2087.9,328.2 2028.1,347.3" fill="#e4d1ac" fill-opacity="0.12"/>
<polyline points="2029.7,338.4 2022.7,378.8 2082.2,358.6 2089.5,319.5" fill="none" stroke="#585858" stroke-width="1.8" stroke-linecap="round" stroke-linejoin="round"/>
<polygon points="1920.7,345.4 1965.6,358.7 2029.7,338.4 1984.8,326" fill="#e3cfa9"/>
<path d="M1964.9 338.5 1976 335.1 1987.2 338.3 1976.1 341.7zM1972.9 342.7 1981.5 340 1992.8 343.2 1984.2 345.9zM1981.5 340 1990.1 337.4 2001.4 340.5 1992.8 343.2zM1996.4 335.4 2000.8 334.1 2012.1 337.2 2007.7 338.6zM1954.2 355.3 1965.7 351.7 1977.1 355 1965.6 358.7zM2006.4 339 2012.7 337 2024.1 340.1 2017.8 342.1zM2012.7 337 2018.3 335.3 2029.7 338.4 2024.1 340.1z" fill="#fff" fill-opacity="0.01"/>
<path d="M1945.1 338 1949.6 336.7 1960.7 339.8 1956.2 341.2zM1949.6 336.7 1958.3 334 1969.4 337.2 1960.7 339.8zM1972.5 329.7 1983.5 326.4 1994.6 329.5 1983.6 332.8zM1993 329.9 1995.8 329.1 2007 332.2 2004.2 333zM1966.4 344.7 1972.9 342.7 1984.2 345.9 1977.7 347.9z" fill="#fff" fill-opacity="0.02"/>
<path d="M1938.7 340 1945.1 338 1956.2 341.2 1949.7 343.2zM1976 335.1 1984.6 332.5 1995.8 335.6 1987.2 338.3zM1965.7 351.7 1977.1 348.1 1988.5 351.4 1977.1 355zM1991.5 343.6 2000.1 340.9 2011.5 344.1 2003 346.8z" fill="#4a2f08" fill-opacity="0.01"/>
<path d="M1920.7 345.4 1927.2 343.4 1938.3 346.7 1931.7 348.7zM1983.5 326.4 1984.8 326 1995.8 329.1 1994.6 329.5zM1931.7 348.7 1940.6 346 1951.8 349.3 1942.9 352zM1958.5 340.5 1964.9 338.5 1976.1 341.7 1969.6 343.7zM1942.9 352 1951.8 349.3 1963.1 352.5 1954.2 355.3zM2000.1 340.9 2006.4 339 2017.8 342.1 2011.5 344.1z" fill="#4a2f08" fill-opacity="0.01"/>
<path d="M1927.2 343.4L1938.3 346.7M1938.7 340L1949.7 343.2M1945.1 338L1956.2 341.2M1949.6 336.7L1960.7 339.8M1958.3 334L1969.4 337.2M1972.5 329.7L1983.6 332.8M1983.5 326.4L1994.6 329.5M1940.6 346L1951.8 349.3M1952 342.5L1963.2 345.7M1958.5 340.5L1969.6 343.7M1964.9 338.5L1976.1 341.7M1976 335.1L1987.2 338.3M1984.6 332.5L1995.8 335.6M1993 329.9L2004.2 333M1931.7 348.7L1995.8 329.1M1951.8 349.3L1963.1 352.5M1966.4 344.7L1977.7 347.9M1972.9 342.7L1984.2 345.9M1981.5 340L1992.8 343.2M1990.1 337.4L2001.4 340.5M1996.4 335.4L2007.7 338.6M2000.8 334.1L2012.1 337.2M1942.9 352L2007 332.2M1965.7 351.7L1977.1 355M1977.1 348.1L1988.5 351.4M1991.5 343.6L2003 346.8M2000.1 340.9L2011.5 344.1M2006.4 339L2017.8 342.1M2012.7 337L2024.1 340.1M1954.2 355.3L2018.3 335.3" fill="none" stroke="#4f390f" stroke-width="0.8" stroke-opacity="0.04"/>
<polyline points="1920.7,345.4 1984.8,326" fill="none" stroke="#515151" stroke-width="1.8" stroke-linecap="round" stroke-linejoin="round"/>
<polygon points="1939.3,345 1964.6,337.3 1993,345.3 1967.7,353.3" fill="#a99d85"/>
<polygon points="1939.3,345 1939.3,345 1964.6,337.3 1962.3,351.7" fill="#b4a68c"/>
<polygon points="1967.7,353.3 1962.3,351.7 1964.6,337.3 1993,345.3 1993,345.3" fill="#ddcba7"/>
<polyline points="1964.6,337.3 1962.4,351.8" fill="none" stroke="#998f7b" stroke-width="1" stroke-linecap="butt" stroke-linejoin="round"/>
<polyline points="1939.3,345 1967.7,353.3 1993,345.3" fill="none" stroke="#515151" stroke-width="1.6" stroke-linecap="round" stroke-linejoin="round"/>
<polygon points="1971.6,335.2 1996.1,327.7 2024.4,335.5 2000,343.1" fill="#a99d85"/>
<polygon points="1971.6,335.2 1971.6,335.2 1996.1,327.7 1993.8,341.4" fill="#b4a68c"/>
<polygon points="2000,343.1 1993.8,341.4 1996.1,327.7 2024.4,335.5 2024.4,335.5" fill="#ddcba7"/>
<polyline points="1996.1,327.7 1993.9,341.5" fill="none" stroke="#998f7b" stroke-width="1" stroke-linecap="butt" stroke-linejoin="round"/>
<polyline points="1971.6,335.2 2000,343.1 2024.4,335.5" fill="none" stroke="#515151" stroke-width="1.6" stroke-linecap="round" stroke-linejoin="round"/>
<polyline points="1993.6,328.5 1991.7,340.8" fill="none" stroke="#515151" stroke-width="1.6" stroke-linecap="butt" stroke-linejoin="round"/>
<polyline points="2029.7,338.4 2021.9,336.3" fill="none" stroke="#515151" stroke-width="1.5" stroke-linecap="round" stroke-linejoin="round"/>
<polyline points="1993.6,328.5 1984.8,326" fill="none" stroke="#515151" stroke-width="1.5" stroke-linecap="round" stroke-linejoin="round"/>
<polygon points="1959,400.4 2022.7,378.8 2029.7,338.4 1965.6,358.7" fill="#b2a388"/>
<path d="M1998.4 374.2 2006.9 371.4 2008.1 364.6 1999.5 367.4zM2006.9 371.4 2017.9 367.8 2019 361 2008.1 364.6zM2017.9 367.8 2025 365.4 2026.2 358.7 2019 361zM2000.4 360.7 2008.9 357.9 2010.1 351.1 2001.5 353.8zM1973.4 362.8 1978 361.4 1979.1 354.4 1974.5 355.9zM2021.4 347.4 2028.5 345.2 2029.7 338.4 2022.5 340.6z" fill="#fff" fill-opacity="0.02"/>
<path d="M1983.4 392.1 1997.7 387.3 1998.8 380.5 1984.5 385.3zM1982.9 385.8 1991.5 382.9 1992.7 376.1 1984 379zM2000.1 380.1 2014.2 375.3 2015.4 368.6 2001.2 373.3zM1989.8 377.1 1998.4 374.2 1999.5 367.4 1990.9 370.2zM1982.5 373 1991.2 370.1 1992.4 363.3 1983.7 366.1zM1991.2 370.1 2002.4 366.5 2003.5 359.6 1992.4 363.3z" fill="#fff" fill-opacity="0.03"/>
<path d="M1959 400.4 1965.6 398.1 1966.7 391.3 1960.1 393.5zM1960.1 393.5 1971.6 389.6 1972.7 382.8 1961.2 386.6zM1991.5 382.9 2000.1 380.1 2001.2 373.3 1992.7 376.1zM2002.4 366.5 2008.7 364.4 2009.9 357.6 2003.5 359.6zM1972.3 369.8 1986.9 365 1988 358.1 1973.4 362.8zM1991.4 363.6 1995.9 362.1 1997 355.2 1992.5 356.7zM1978 361.4 1986.7 358.5 1987.9 351.6 1979.1 354.4z" fill="#4a2f08" fill-opacity="0.01"/>
<path d="M1965.6 398.1 1976.9 394.3 1978.1 387.5 1966.7 391.3zM1976.9 394.3 1983.4 392.1 1984.5 385.3 1978.1 387.5zM2014.9 381.4 2022.7 378.8 2023.8 372.1 2016.1 374.7zM1971.6 389.6 1982.9 385.8 1984 379 1972.7 382.8zM2018.6 373.9 2023.8 372.1 2025 365.4 2019.7 367.1zM1974.6 382.1 1981.1 380 1982.2 373.1 1975.7 375.2zM1973.8 375.9 1982.5 373 1983.7 366.1 1974.9 368.9zM2008.7 364.4 2015 362.3 2016.1 355.6 2009.9 357.6zM2023.4 359.6 2026.2 358.7 2027.3 351.9 2024.5 352.8zM2019.9 354.3 2027.3 351.9 2028.5 345.2 2021.1 347.5zM1986.7 358.5 1995.4 355.8 1996.6 348.9 1987.9 351.6z" fill="#4a2f08" fill-opacity="0.02"/>
<path d="M1965.6 398.1L1966.7 391.3M1976.9 394.3L1978.1 387.5M1983.4 392.1L1984.5 385.3M1997.7 387.3L1998.8 380.5M2008.7 383.5L2009.9 376.8M2014.9 381.4L2016.1 374.7M1971.6 389.6L1972.7 382.8M1982.9 385.8L1984 379M1991.5 382.9L1992.7 376.1M2000.1 380.1L2001.2 373.3M2014.2 375.3L2015.4 368.6M2018.6 373.9L2019.7 367.1M1960.1 393.5L2023.8 372.1M1970.1 383.6L1971.2 376.7M1974.6 382.1L1975.7 375.2M1981.1 380L1982.2 373.1M1989.8 377.1L1990.9 370.2M1998.4 374.2L1999.5 367.4M2006.9 371.4L2008.1 364.6M2017.9 367.8L2019 361M1961.2 386.6L2025 365.4M1973.8 375.9L1974.9 368.9M1982.5 373L1983.7 366.1M1991.2 370.1L1992.4 363.3M2002.4 366.5L2003.5 359.6M2008.7 364.4L2009.9 357.6M2015 362.3L2016.1 355.6M2023.4 359.6L2024.5 352.8M1962.3 379.6L2026.2 358.7M1972.3 369.8L1973.4 362.8M1986.9 365L1988 358.1M1991.4 363.6L1992.5 356.7M1995.9 362.1L1997 355.2M2000.4 360.7L2001.5 353.8M2008.9 357.9L2010.1 351.1M2019.9 354.3L2021.1 347.5M1963.4 372.7L2027.3 351.9M1973.4 362.8L1974.5 355.9M1978 361.4L1979.1 354.4M1986.7 358.5L1987.9 351.6M1995.4 355.8L1996.6 348.9M2004 353L2005.2 346.1M2010.4 351L2011.5 344.1M2021.4 347.4L2022.5 340.6M1964.5 365.7L2028.5 345.2" fill="none" stroke="#4f390f" stroke-width="0.8" stroke-opacity="0.06"/>
<polygon points="1965.6,358.7 2029.7,338.4 2029.3,340.4 1965.3,360.8" fill="#e3cfa9" fill-opacity="0.92"/>
<polygon points="1965.3,360.8 2029.3,340.4 2029.1,342 1965,362.5" fill="#e3cfa9" fill-opacity="0.60"/>
<polygon points="1965,362.5 2029.1,342 2028.7,344.1 1964.7,364.6" fill="#e3cfa9" fill-opacity="0.30"/>
<polygon points="1964.7,364.6 2028.7,344.1 2028.1,347.3 1964.2,367.9" fill="#e3cfa9" fill-opacity="0.12"/>
<polyline points="1965.6,358.7 1959,400.4 2022.7,378.8 2029.7,338.4" fill="none" stroke="#515151" stroke-width="1.8" stroke-linecap="round" stroke-linejoin="round"/>
<polygon points="1852.3,366.1 1897.4,380.3 1965.6,358.7 1920.7,345.4" fill="#e2cda6"/>
<path d="M1905 350.2 1916.7 346.6 1927.7 349.9 1916.1 353.5zM1882.4 363.8 1887.2 362.3 1898.4 365.8 1893.5 367.3zM1874.6 373.1 1890.4 368.3 1901.7 371.8 1886 376.7zM1942.2 352.2 1942.9 352 1954.2 355.3 1953.5 355.5z" fill="#fff" fill-opacity="0.01"/>
<path d="M1876.5 358.8 1881.3 357.3 1892.4 360.8 1887.5 362.2zM1887.2 362.3 1894.1 360.2 1905.3 363.7 1898.4 365.8zM1925.1 350.7 1929.7 349.3 1940.9 352.6 1936.3 354.1zM1905.9 363.5 1915.1 360.6 1926.4 364 1917.2 366.9zM1901.7 371.8 1917.2 366.9 1928.6 370.4 1913.1 375.3zM1917.2 366.9 1929.1 363.2 1940.5 366.6 1928.6 370.4z" fill="#fff" fill-opacity="0.03"/>
<path d="M1863.4 369.6 1872.9 366.7 1884.1 370.2 1874.6 373.1zM1944.2 358.5 1950.9 356.4 1962.3 359.7 1955.7 361.8z" fill="#4a2f08" fill-opacity="0.01"/>
<path d="M1872.9 366.7 1882.4 363.8 1893.5 367.3 1884.1 370.2zM1903.3 357.4 1910 355.4 1921.2 358.7 1914.4 360.8zM1929.1 363.2 1944.2 358.5 1955.7 361.8 1940.5 366.6z" fill="#4a2f08" fill-opacity="0.02"/>
<path d="M1859.4 363.9L1870.5 367.4M1864.3 362.5L1875.4 365.9M1876.5 358.8L1887.5 362.2M1881.3 357.3L1892.4 360.8M1893.2 353.7L1904.3 357.1M1905 350.2L1916.1 353.5M1916.7 346.6L1927.7 349.9M1872.9 366.7L1884.1 370.2M1882.4 363.8L1893.5 367.3M1887.2 362.3L1898.4 365.8M1894.1 360.2L1905.3 363.7M1903.3 357.4L1914.4 360.8M1910 355.4L1921.2 358.7M1925.1 350.7L1936.3 354.1M1929.7 349.3L1940.9 352.6M1863.4 369.6L1931.7 348.7M1890.4 368.3L1901.7 371.8M1905.9 363.5L1917.2 366.9M1915.1 360.6L1926.4 364M1919.9 359.1L1931.2 362.6M1928.9 356.3L1940.2 359.7M1935.6 354.3L1946.9 357.6M1942.2 352.2L1953.5 355.5M1874.6 373.1L1942.9 352M1901.7 371.8L1913.1 375.3M1917.2 366.9L1928.6 370.4M1929.1 363.2L1940.5 366.6M1944.2 358.5L1955.7 361.8M1950.9 356.4L1962.3 359.7M1886 376.7L1954.2 355.3" fill="none" stroke="#4f390f" stroke-width="0.8" stroke-opacity="0.06"/>
<polyline points="1852.3,366.1 1920.7,345.4" fill="none" stroke="#4a4a4a" stroke-width="1.9" stroke-linecap="round" stroke-linejoin="round"/>
<polygon points="1871.8,365.7 1898.7,357.5 1927,366.1 1900.1,374.6" fill="#a69981"/>
<polygon points="1871.8,365.7 1871.8,365.7 1898.7,357.5 1896.4,373.4" fill="#b1a388"/>
<polygon points="1900.1,374.6 1896.4,373.4 1898.7,357.5 1927,366.1 1927,366.1" fill="#dcc9a4"/>
<polyline points="1898.7,357.5 1896.5,373.4" fill="none" stroke="#958a76" stroke-width="1" stroke-linecap="butt" stroke-linejoin="round"/>
<polyline points="1871.8,365.7 1900.1,374.6 1927,366.1" fill="none" stroke="#4a4a4a" stroke-width="1.7" stroke-linecap="round" stroke-linejoin="round"/>
<polygon points="1906.1,355.2 1932.1,347.2 1960.5,355.6 1934.5,363.8" fill="#a69981"/>
<polygon points="1906.1,355.2 1906.1,355.2 1932.1,347.2 1929.9,362.4" fill="#b1a388"/>
<polygon points="1934.5,363.8 1929.9,362.4 1932.1,347.2 1960.5,355.6 1960.5,355.6" fill="#dcc9a4"/>
<polyline points="1932.1,347.2 1930,362.4" fill="none" stroke="#958a76" stroke-width="1" stroke-linecap="butt" stroke-linejoin="round"/>
<polyline points="1906.1,355.2 1934.5,363.8 1960.5,355.6" fill="none" stroke="#4a4a4a" stroke-width="1.7" stroke-linecap="round" stroke-linejoin="round"/>
<polyline points="1929.5,348.1 1927.6,361.7" fill="none" stroke="#4a4a4a" stroke-width="1.6" stroke-linecap="butt" stroke-linejoin="round"/>
<polyline points="1965.6,358.7 1957.8,356.4" fill="none" stroke="#4a4a4a" stroke-width="1.5" stroke-linecap="round" stroke-linejoin="round"/>
<polyline points="1929.5,348.1 1920.7,345.4" fill="none" stroke="#4a4a4a" stroke-width="1.5" stroke-linecap="round" stroke-linejoin="round"/>
<polygon points="1891.2,423.4 1959,400.4 1965.6,358.7 1897.4,380.3" fill="#afa084"/>
<path d="M1903.1 419.3 1912.4 416.2 1913.4 409.1 1904.1 412.3zM1924.4 412.1 1936.2 408.1 1937.2 401.2 1925.4 405.1zM1951.1 403 1959 400.4 1960.1 393.5 1952.2 396.1zM1894.3 401.9 1901.3 399.6 1902.4 392.5 1895.3 394.8zM1957.1 374.7 1963.4 372.7 1964.5 365.7 1958.2 367.7zM1934.1 375.5 1940.8 373.3 1941.9 366.2 1935.1 368.4zM1956.6 368.2 1963.2 366.1 1964.3 359.1 1957.7 361.2z" fill="#fff" fill-opacity="0.02"/>
<path d="M1901.7 413.1 1913.8 409 1914.8 401.9 1902.7 406zM1923 405.9 1932.2 402.8 1933.2 395.8 1924.1 398.9zM1902.7 406 1909.7 403.7 1910.7 396.6 1903.8 398.8zM1936.6 394.7 1943.3 392.5 1944.4 385.5 1937.7 387.7zM1906.2 398 1913.1 395.8 1914.2 388.6 1907.2 390.9zM1938 387.6 1949.7 383.7 1950.8 376.7 1939.1 380.6zM1954.4 382.2 1962.3 379.6 1963.4 372.7 1955.5 375.2zM1915.2 381.5 1922.1 379.3 1923.2 372.2 1916.3 374.3zM1922.1 379.3 1934.1 375.5 1935.1 368.4 1923.2 372.2z" fill="#fff" fill-opacity="0.05"/>
<path d="M1892.3 416.3 1901.7 413.1 1902.7 406 1893.3 409.1zM1913.8 409 1923 405.9 1924.1 398.9 1914.8 401.9zM1943.3 392.5 1952.3 389.5 1953.4 382.5 1944.4 385.5zM1952.3 389.5 1961.2 386.6 1962.3 379.6 1953.4 382.5zM1928.5 390.7 1933.3 389.1 1934.3 382.1 1929.6 383.6zM1949.7 383.7 1954.4 382.2 1955.5 375.2 1950.8 376.7zM1895.3 394.8 1911.1 389.7 1912.1 382.5 1896.4 387.6zM1936.7 381.3 1943.5 379.1 1944.5 372.1 1937.8 374.3zM1940.8 373.3 1947.6 371.1 1948.6 364.1 1941.9 366.2z" fill="#4a2f08" fill-opacity="0.02"/>
<path d="M1912.4 416.2 1924.4 412.1 1925.4 405.1 1913.4 409.1zM1938.9 400.6 1945.6 398.4 1946.7 391.4 1940 393.6zM1931.9 396.3 1936.6 394.7 1937.7 387.7 1932.9 389.3zM1929.9 383.5 1936.7 381.3 1937.8 374.3 1931 376.4zM1943.5 379.1 1948.1 377.6 1949.2 370.6 1944.5 372.1zM1905.8 384.5 1915.2 381.5 1916.3 374.3 1906.9 377.3zM1947.6 371.1 1956.6 368.2 1957.7 361.2 1948.6 364.1z" fill="#4a2f08" fill-opacity="0.03"/>
<path d="M1898.2 421L1899.3 413.9M1903.1 419.3L1904.1 412.3M1912.4 416.2L1913.4 409.1M1924.4 412.1L1925.4 405.1M1936.2 408.1L1937.2 401.2M1951.1 403L1952.2 396.1M1901.7 413.1L1902.7 406M1913.8 409L1914.8 401.9M1923 405.9L1924.1 398.9M1932.2 402.8L1933.2 395.8M1938.9 400.6L1940 393.6M1945.6 398.4L1946.7 391.4M1957.2 394.5L1958.3 387.5M1892.3 416.3L1960.1 393.5M1902.7 406L1903.8 398.8M1909.7 403.7L1910.7 396.6M1925.1 398.5L1926.2 391.5M1931.9 396.3L1932.9 389.3M1936.6 394.7L1937.7 387.7M1943.3 392.5L1944.4 385.5M1952.3 389.5L1953.4 382.5M1893.3 409.1L1961.2 386.6M1901.3 399.6L1902.4 392.5M1906.2 398L1907.2 390.9M1913.1 395.8L1914.2 388.6M1928.5 390.7L1929.6 383.6M1933.3 389.1L1934.3 382.1M1938 387.6L1939.1 380.6M1949.7 383.7L1950.8 376.7M1954.4 382.2L1955.5 375.2M1894.3 401.9L1962.3 379.6M1911.1 389.7L1912.1 382.5M1918 387.4L1919 380.3M1929.9 383.5L1931 376.4M1936.7 381.3L1937.8 374.3M1943.5 379.1L1944.5 372.1M1948.1 377.6L1949.2 370.6M1957.1 374.7L1958.2 367.7M1895.3 394.8L1963.4 372.7M1905.8 384.5L1906.9 377.3M1915.2 381.5L1916.3 374.3M1922.1 379.3L1923.2 372.2M1934.1 375.5L1935.1 368.4M1940.8 373.3L1941.9 366.2M1947.6 371.1L1948.6 364.1M1956.6 368.2L1957.7 361.2M1963.2 366.1L1964.3 359.1M1896.4 387.6L1964.5 365.7" fill="none" stroke="#4f390f" stroke-width="0.8" stroke-opacity="0.10"/>
<polygon points="1897.4,380.3 1965.6,358.7 1965.3,360.8 1897.1,382.5" fill="#e2cda6" fill-opacity="0.92"/>
<polygon points="1897.1,382.5 1965.3,360.8 1965,362.5 1896.8,384.2" fill="#e2cda6" fill-opacity="0.60"/>
<polygon points="1896.8,384.2 1965,362.5 1964.7,364.6 1896.5,386.4" fill="#e2cda6" fill-opacity="0.30"/>
<polygon points="1896.5,386.4 1964.7,364.6 1964.2,367.9 1896,389.9" fill="#e2cda6" fill-opacity="0.12"/>
<polyline points="1897.4,380.3 1891.2,423.4 1959,400.4 1965.6,358.7" fill="none" stroke="#4a4a4a" stroke-width="1.9" stroke-linecap="round" stroke-linejoin="round"/>
<polygon points="1778.7,388.4 1824.1,403.6 1897.4,380.3 1852.3,366.1" fill="#e1cba3"/>
<path d="M1784.1 386.8 1797.3 382.7 1808.4 386.4 1795.2 390.5zM1844.8 375.3 1861 370.3 1872.2 373.9 1856.1 378.9zM1806.5 394.3 1816.7 391.1 1828.1 394.9 1817.9 398.1zM1816.7 391.1 1829.8 387 1841.1 390.8 1828.1 394.9zM1829.8 387 1837.1 384.7 1848.5 388.5 1841.1 390.8zM1837.1 384.7 1847 381.7 1858.4 385.4 1848.5 388.5zM1860.6 384.7 1876.7 379.6 1888.2 383.3 1872 388.4zM1876.7 379.6 1886 376.7 1897.4 380.3 1888.2 383.3z" fill="#fff" fill-opacity="0.02"/>
<path d="M1778.7 388.4 1784.1 386.8 1795.2 390.5 1789.9 392.1zM1846.6 367.8 1851.6 366.3 1862.7 369.8 1857.8 371.3zM1789.9 392.1 1806.9 386.9 1818.2 390.6 1801.2 395.9zM1834.7 378.4 1839.8 376.8 1851 380.4 1845.9 382zM1861 370.3 1863.4 369.6 1874.6 373.1 1872.2 373.9zM1847 381.7 1863.3 376.7 1874.6 380.3 1858.4 385.4zM1847.8 388.7 1860.6 384.7 1872 388.4 1859.2 392.4z" fill="#fff" fill-opacity="0.04"/>
<path d="M1817.7 376.5 1830.5 372.7 1841.6 376.3 1828.8 380.2zM1830.5 372.7 1846.6 367.8 1857.8 371.3 1841.6 376.3zM1870.4 374.4 1874.6 373.1 1886 376.7 1881.7 378zM1834.8 392.8 1847.8 388.7 1859.2 392.4 1846.3 396.5z" fill="#4a2f08" fill-opacity="0.01"/>
<path d="M1804.7 380.5 1817.7 376.5 1828.8 380.2 1815.9 384.1zM1821.8 382.3 1834.7 378.4 1845.9 382 1833.1 386z" fill="#4a2f08" fill-opacity="0.03"/>
<path d="M1784.1 386.8L1795.2 390.5M1797.3 382.7L1808.4 386.4M1804.7 380.5L1815.9 384.1M1817.7 376.5L1828.8 380.2M1830.5 372.7L1841.6 376.3M1846.6 367.8L1857.8 371.3M1851.6 366.3L1862.7 369.8M1806.9 386.9L1818.2 390.6M1814.4 384.6L1825.7 388.3M1821.8 382.3L1833.1 386M1834.7 378.4L1845.9 382M1839.8 376.8L1851 380.4M1844.8 375.3L1856.1 378.9M1861 370.3L1872.2 373.9M1789.9 392.1L1863.4 369.6M1806.5 394.3L1817.9 398.1M1816.7 391.1L1828.1 394.9M1829.8 387L1841.1 390.8M1837.1 384.7L1848.5 388.5M1847 381.7L1858.4 385.4M1863.3 376.7L1874.6 380.3M1870.4 374.4L1881.7 378M1801.2 395.9L1874.6 373.1M1829.6 394.4L1841.1 398.2M1834.8 392.8L1846.3 396.5M1847.8 388.7L1859.2 392.4M1860.6 384.7L1872 388.4M1876.7 379.6L1888.2 383.3M1812.6 399.8L1886 376.7" fill="none" stroke="#4f390f" stroke-width="0.8" stroke-opacity="0.08"/>
<polyline points="1778.7,388.4 1852.3,366.1" fill="none" stroke="#444444" stroke-width="1.9" stroke-linecap="round" stroke-linejoin="round"/>
<polygon points="1799,387.9 1828.1,379 1856.6,388.3 1827.6,397.4" fill="#a3957c"/>
<polygon points="1799,387.9 1799,387.9 1828.1,379 1825.8,396.8" fill="#ae9f84"/>
<polygon points="1827.6,397.4 1825.8,396.8 1828.1,379 1856.6,388.3 1856.6,388.3" fill="#dbc7a0"/>
<polyline points="1828.1,379 1825.9,396.8" fill="none" stroke="#918671" stroke-width="1" stroke-linecap="butt" stroke-linejoin="round"/>
<polyline points="1799,387.9 1827.6,397.4 1856.6,388.3" fill="none" stroke="#444444" stroke-width="1.7" stroke-linecap="round" stroke-linejoin="round"/>
<polygon points="1836.1,376.5 1864,368 1892.4,377 1864.6,385.7" fill="#a3957c"/>
<polygon points="1836.1,376.5 1836.1,376.5 1864,368 1861.8,384.8" fill="#ae9f84"/>
<polygon points="1864.6,385.7 1861.8,384.8 1864,368 1892.4,377 1892.4,377" fill="#dbc7a0"/>
<polyline points="1864,368 1861.9,384.9" fill="none" stroke="#918671" stroke-width="1" stroke-linecap="butt" stroke-linejoin="round"/>
<polyline points="1836.1,376.5 1864.6,385.7 1892.4,377" fill="none" stroke="#444444" stroke-width="1.7" stroke-linecap="round" stroke-linejoin="round"/>
<polyline points="1861.2,368.9 1859.3,384" fill="none" stroke="#444444" stroke-width="1.6" stroke-linecap="butt" stroke-linejoin="round"/>
<polyline points="1897.4,380.3 1889.6,377.9" fill="none" stroke="#444444" stroke-width="1.5" stroke-linecap="round" stroke-linejoin="round"/>
<polyline points="1861.2,368.9 1852.3,366.1" fill="none" stroke="#444444" stroke-width="1.5" stroke-linecap="round" stroke-linejoin="round"/>
<polygon points="1818.4,448.3 1891.2,423.4 1897.4,380.3 1824.1,403.6" fill="#ac9c7f"/>
<path d="M1871 430.3 1880.6 427 1881.7 419.8 1872 423.1zM1841.8 433.3 1846.9 431.6 1847.9 424.2 1842.8 426zM1856.8 428.2 1869.5 423.9 1870.5 416.7 1857.8 420.9zM1882 419.7 1892.3 416.3 1893.3 409.1 1883 412.5zM1837.2 427.8 1844.6 425.4 1845.6 418 1838.1 420.5zM1852 422.9 1868.3 417.4 1869.4 410.2 1853 415.6zM1841.5 419.4 1846.7 417.6 1847.7 410.3 1842.5 412zM1895 394.9 1895.3 394.8 1896.4 387.6 1896 387.7zM1841.6 405.2 1858.2 399.8 1859.2 392.4 1842.6 397.7z" fill="#fff" fill-opacity="0.03"/>
<path d="M1819.3 440.9 1826.9 438.3 1827.8 431 1820.3 433.5zM1834.3 435.8 1841.8 433.3 1842.8 426 1835.3 428.5zM1859.5 413.4 1864.6 411.7 1865.6 404.4 1860.5 406.1z" fill="#fff" fill-opacity="0.06"/>
<path d="M1818.4 448.3 1828.5 444.8 1829.5 437.5 1819.3 440.9zM1858.4 434.6 1871 430.3 1872 423.1 1859.4 427.3zM1890.2 423.7 1891.2 423.4 1892.3 416.3 1891.2 416.6zM1846.9 431.6 1856.8 428.2 1857.8 420.9 1847.9 424.2zM1844.6 425.4 1852 422.9 1853 415.6 1845.6 418zM1868.3 417.4 1878 414.2 1879.1 407 1869.4 410.2zM1864.6 411.7 1880.8 406.4 1881.9 399.1 1865.6 404.4zM1844.3 411.4 1857.3 407.2 1858.2 399.8 1845.3 404zM1857.3 407.2 1870 403 1871 395.7 1858.2 399.8zM1828.4 409.4 1841.6 405.2 1842.6 397.7 1829.4 401.9zM1880.4 392.7 1896.4 387.6 1897.4 380.3 1881.4 385.4z" fill="#4a2f08" fill-opacity="0.02"/>
<path d="M1828.5 444.8 1838.6 441.4 1839.6 434.1 1829.5 437.5zM1880.6 427 1890.2 423.7 1891.2 416.6 1881.7 419.8zM1826.9 438.3 1834.3 435.8 1835.3 428.5 1827.8 431zM1869.5 423.9 1882 419.7 1883 412.5 1870.5 416.7zM1878 414.2 1885.2 411.8 1886.2 404.6 1879.1 407zM1831.4 422.7 1841.5 419.4 1842.5 412 1832.4 415.3zM1893.3 402.3 1894.3 401.9 1895.3 394.8 1894.3 395.1zM1870 403 1882.6 398.9 1883.6 391.7 1871 395.7zM1823.1 411.1 1828.4 409.4 1829.4 401.9 1824.1 403.6zM1863.4 398.2 1870.6 395.8 1871.7 388.5 1864.4 390.8z" fill="#4a2f08" fill-opacity="0.04"/>
<path d="M1828.5 444.8L1829.5 437.5M1838.6 441.4L1839.6 434.1M1848.5 438L1849.5 430.7M1858.4 434.6L1859.4 427.3M1871 430.3L1872 423.1M1880.6 427L1881.7 419.8M1890.2 423.7L1891.2 416.6M1826.9 438.3L1827.8 431M1834.3 435.8L1835.3 428.5M1841.8 433.3L1842.8 426M1846.9 431.6L1847.9 424.2M1856.8 428.2L1857.8 420.9M1869.5 423.9L1870.5 416.7M1882 419.7L1883 412.5M1819.3 440.9L1892.3 416.3M1837.2 427.8L1838.1 420.5M1844.6 425.4L1845.6 418M1852 422.9L1853 415.6M1868.3 417.4L1869.4 410.2M1878 414.2L1879.1 407M1885.2 411.8L1886.2 404.6M1892.2 409.5L1893.3 402.3M1820.3 433.5L1893.3 409.1M1831.4 422.7L1832.4 415.3M1841.5 419.4L1842.5 412M1846.7 417.6L1847.7 410.3M1859.5 413.4L1860.5 406.1M1864.6 411.7L1865.6 404.4M1880.8 406.4L1881.9 399.1M1893.3 402.3L1894.3 395.1M1821.2 426.1L1894.3 401.9M1839.1 413.1L1840.1 405.7M1844.3 411.4L1845.3 404M1857.3 407.2L1858.2 399.8M1870 403L1871 395.7M1882.6 398.9L1883.6 391.7M1895 394.9L1896 387.7M1822.2 418.6L1895.3 394.8M1828.4 409.4L1829.4 401.9M1841.6 405.2L1842.6 397.7M1858.2 399.8L1859.2 392.4M1863.4 398.2L1864.4 390.8M1870.6 395.8L1871.7 388.5M1880.4 392.7L1881.4 385.4M1823.1 411.1L1896.4 387.6" fill="none" stroke="#4f390f" stroke-width="0.8" stroke-opacity="0.13"/>
<polygon points="1824.1,403.6 1897.4,380.3 1897.1,382.5 1823.8,405.9" fill="#e1cba3" fill-opacity="0.92"/>
<polygon points="1823.8,405.9 1897.1,382.5 1896.8,384.2 1823.6,407.7" fill="#e1cba3" fill-opacity="0.60"/>
<polygon points="1823.6,407.7 1896.8,384.2 1896.5,386.4 1823.3,409.9" fill="#e1cba3" fill-opacity="0.30"/>
<polygon points="1823.3,409.9 1896.5,386.4 1896,389.9 1822.8,413.5" fill="#e1cba3" fill-opacity="0.12"/>
<polyline points="1824.1,403.6 1818.4,448.3 1891.2,423.4 1897.4,380.3" fill="none" stroke="#444444" stroke-width="1.9" stroke-linecap="round" stroke-linejoin="round"/>
<polygon points="1699.5,412.5 1744.9,428.9 1824.1,403.6 1778.7,388.4" fill="#e0ca9f"/>
<path d="M1713.8 408.2 1727.9 403.9 1739.1 407.8 1724.9 412.1zM1735.9 401.4 1749.7 397.2 1760.9 401.1 1747 405.3zM1770.7 390.8 1778.7 388.4 1789.9 392.1 1781.8 394.6zM1738.3 408 1756.1 402.5 1767.4 406.4 1749.5 412zM1780.3 395.1 1788 392.7 1799.3 396.5 1791.6 398.9zM1778.8 402.9 1786.6 400.5 1798 404.4 1790.2 406.8zM1769.7 413.3 1783.6 408.9 1795.1 412.9 1781.3 417.3z" fill="#fff" fill-opacity="0.02"/>
<path d="M1756.1 402.5 1769.9 398.3 1781.1 402.2 1767.4 406.4z" fill="#fff" fill-opacity="0.05"/>
<path d="M1727.4 411.4 1738.3 408 1749.5 412 1738.7 415.4zM1788 392.7 1789.9 392.1 1801.2 395.9 1799.3 396.5zM1799.6 396.4 1801.2 395.9 1812.6 399.8 1811 400.2zM1733.3 424.7 1751.7 418.9 1763.2 423 1744.9 428.9zM1809.5 400.7 1812.6 399.8 1824.1 403.6 1821 404.6z" fill="#4a2f08" fill-opacity="0.02"/>
<path d="M1765.3 392.5 1770.7 390.8 1781.8 394.6 1776.4 396.3zM1716.4 414.8 1727.4 411.4 1738.7 415.4 1727.7 418.8zM1751.7 418.9 1769.7 413.3 1781.3 417.3 1763.2 423zM1783.6 408.9 1791.4 406.4 1802.9 410.4 1795.1 412.9zM1801.8 403.1 1809.5 400.7 1821 404.6 1813.4 407.1z" fill="#4a2f08" fill-opacity="0.03"/>
<path d="M1713.8 408.2L1724.9 412.1M1727.9 403.9L1739.1 407.8M1735.9 401.4L1747 405.3M1749.7 397.2L1760.9 401.1M1757.5 394.8L1768.7 398.7M1765.3 392.5L1776.4 396.3M1770.7 390.8L1781.8 394.6M1716.4 414.8L1727.7 418.8M1727.4 411.4L1738.7 415.4M1738.3 408L1749.5 412M1756.1 402.5L1767.4 406.4M1769.9 398.3L1781.1 402.2M1780.3 395.1L1791.6 398.9M1788 392.7L1799.3 396.5M1710.6 416.5L1789.9 392.1M1736.2 416.1L1747.6 420.2M1741.9 414.4L1753.3 418.4M1747.5 412.6L1759 416.6M1765.5 407L1776.9 411M1771 405.3L1782.4 409.3M1778.8 402.9L1790.2 406.8M1786.6 400.5L1798 404.4M1792 398.8L1803.4 402.7M1799.6 396.4L1811 400.2M1721.9 420.6L1801.2 395.9M1751.7 418.9L1763.2 423M1769.7 413.3L1781.3 417.3M1783.6 408.9L1795.1 412.9M1791.4 406.4L1802.9 410.4M1801.8 403.1L1813.4 407.1M1809.5 400.7L1821 404.6M1733.3 424.7L1812.6 399.8" fill="none" stroke="#4f390f" stroke-width="0.8" stroke-opacity="0.10"/>
<polyline points="1699.5,412.5 1778.7,388.4" fill="none" stroke="#3d3d3d" stroke-width="2" stroke-linecap="round" stroke-linejoin="round"/>
<polygon points="1720.7,412 1751.9,402.4 1780.5,412.3 1749.3,422.2" fill="#9f9278"/>
<polygon points="1749.3,422.2 1720.7,412 1720.7,412 1751.9,402.4 1749.7,422" fill="#ab9c80"/>
<polygon points="1749.7,422 1751.9,402.4 1780.5,412.3 1780.5,412.3" fill="#dac59d"/>
<polyline points="1751.9,402.4 1749.7,422" fill="none" stroke="#8d826d" stroke-width="1" stroke-linecap="butt" stroke-linejoin="round"/>
<polyline points="1720.7,412 1749.3,422.2 1780.5,412.3" fill="none" stroke="#3d3d3d" stroke-width="1.8" stroke-linecap="round" stroke-linejoin="round"/>
<polygon points="1760.6,399.7 1790.7,390.4 1819.3,400 1789.2,409.6" fill="#9f9278"/>
<polygon points="1760.6,399.7 1760.6,399.7 1790.7,390.4 1788.4,409.3" fill="#ab9c80"/>
<polygon points="1789.2,409.6 1788.4,409.3 1790.7,390.4 1819.3,400 1819.3,400" fill="#dac59d"/>
<polyline points="1790.7,390.4 1788.6,409.3" fill="none" stroke="#8d826d" stroke-width="1" stroke-linecap="butt" stroke-linejoin="round"/>
<polyline points="1760.6,399.7 1789.2,409.6 1819.3,400" fill="none" stroke="#3d3d3d" stroke-width="1.8" stroke-linecap="round" stroke-linejoin="round"/>
<polyline points="1787.6,391.4 1785.7,408.4" fill="none" stroke="#3d3d3d" stroke-width="1.7" stroke-linecap="butt" stroke-linejoin="round"/>
<polyline points="1824.1,403.6 1816.2,401" fill="none" stroke="#3d3d3d" stroke-width="1.6" stroke-linecap="round" stroke-linejoin="round"/>
<polyline points="1787.6,391.4 1778.7,388.4" fill="none" stroke="#3d3d3d" stroke-width="1.6" stroke-linecap="round" stroke-linejoin="round"/>
<polygon points="1739.8,474.9 1818.4,448.3 1824.1,403.6 1744.9,428.9" fill="#a9997b"/>
<path d="M1785.3 459.5 1798.9 454.9 1799.5 450.4 1785.9 455zM1798.9 454.9 1809.3 451.4 1809.8 446.9 1799.5 450.4zM1740.8 465.8 1755 461 1755.5 456.5 1741.3 461.2zM1785.2 450.9 1802.7 445.1 1803.3 440.6 1785.8 446.4zM1747.5 454.7 1755.7 452 1756.2 447.5 1748.1 450.1zM1755.7 452 1766.5 448.5 1767 443.9 1756.2 447.5zM1787.9 441.4 1805.4 435.6 1805.9 431.1 1788.4 436.9zM1810.7 433.8 1818.4 431.3 1818.9 426.8 1811.3 429.3zM1818.4 431.3 1820.6 430.5 1821.2 426.1 1818.9 426.8zM1800.9 432.8 1818.2 427.1 1818.7 422.6 1801.4 428.3zM1761.7 436.8 1767.3 435 1767.8 430.4 1762.2 432.3zM1814.7 419.6 1822.4 417.1 1822.9 412.6 1815.3 415.1zM1754.9 434.6 1760.6 432.8 1761.1 428.2 1755.4 430zM1810.9 412.2 1823.5 408.1 1824.1 403.6 1811.4 407.7z" fill="#fff" fill-opacity="0.04"/>
<path d="M1775.7 458.5 1789.4 453.8 1789.9 449.4 1776.2 454zM1771.4 455.6 1785.2 450.9 1785.8 446.4 1772 451zM1741.3 461.2 1755.5 456.5 1756.1 451.9 1741.8 456.6zM1817.8 435.7 1820.1 435 1820.6 430.5 1818.4 431.3zM1772.6 442.1 1783.3 438.6 1783.9 434 1773.2 437.5zM1798 429.4 1815.3 423.7 1815.9 419.2 1798.5 424.9zM1773.6 424.2 1781.5 421.6 1782.1 417 1774.1 419.6z" fill="#fff" fill-opacity="0.08"/>
<path d="M1740.3 470.4 1751.3 466.7 1751.8 462.1 1740.8 465.8zM1794.8 452 1808.3 447.5 1808.9 443 1795.4 447.5zM1808.3 447.5 1818.9 443.8 1819.5 439.4 1808.9 443zM1755.5 456.5 1769.6 451.8 1770.1 447.3 1756.1 451.9zM1797.1 442.7 1807.5 439.2 1808.1 434.7 1797.6 438.2zM1766.5 448.5 1777.3 444.9 1777.8 440.4 1767 443.9zM1777.3 444.9 1787.9 441.4 1788.4 436.9 1777.8 440.4zM1805.4 435.6 1810.7 433.8 1811.3 429.3 1805.9 431.1zM1783.3 438.6 1800.9 432.8 1801.4 428.3 1783.9 434zM1742.8 447.4 1757.1 442.8 1757.6 438.2 1743.3 442.8zM1743.3 442.8 1761.7 436.8 1762.2 432.3 1743.9 438.2zM1809.3 421.4 1814.7 419.6 1815.3 415.1 1809.9 416.8zM1792.4 422.5 1797.9 420.7 1798.4 416.2 1793 417.9zM1762.7 427.6 1773.6 424.2 1774.1 419.6 1763.2 423z" fill="#4a2f08" fill-opacity="0.03"/>
<path d="M1760.7 459.2 1771.4 455.6 1772 451 1761.2 454.6zM1807.5 439.2 1817.8 435.7 1818.4 431.3 1808.1 434.7zM1764.6 444.7 1772.6 442.1 1773.2 437.5 1765.2 440.1zM1790.1 432 1798 429.4 1798.5 424.9 1790.7 427.4zM1760.6 432.8 1774.6 428.2 1775.2 423.7 1761.1 428.2zM1797.9 420.7 1815.3 415.1 1815.9 410.6 1798.4 416.2zM1815.3 415.1 1820.6 413.4 1821.2 408.9 1815.9 410.6zM1744.4 433.5 1762.7 427.6 1763.2 423 1744.9 428.9zM1781.5 421.6 1795.3 417.2 1795.9 412.6 1782.1 417zM1795.3 417.2 1803.1 414.7 1803.7 410.1 1795.9 412.6zM1803.1 414.7 1810.9 412.2 1811.4 407.7 1803.7 410.1z" fill="#4a2f08" fill-opacity="0.05"/>
<path d="M1750.8 471.2L1751.3 466.7M1761.6 467.5L1762.2 463M1769.6 464.8L1770.1 460.3M1777.5 462.2L1778 457.7M1785.3 459.5L1785.9 455M1798.9 454.9L1799.5 450.4M1809.3 451.4L1809.8 446.9M1751.3 466.7L1751.8 462.1M1756.9 464.8L1757.5 460.2M1764.9 462.1L1765.5 457.5M1775.7 458.5L1776.2 454M1789.4 453.8L1789.9 449.4M1794.8 452L1795.4 447.5M1808.3 447.5L1808.9 443M1740.3 470.4L1818.9 443.8M1755 461L1755.5 456.5M1760.7 459.2L1761.2 454.6M1771.4 455.6L1772 451M1785.2 450.9L1785.8 446.4M1802.7 445.1L1803.3 440.6M1808.1 443.3L1808.6 438.8M1818.4 439.8L1818.9 435.4M1740.8 465.8L1819.5 439.4M1755.5 456.5L1756.1 451.9M1769.6 451.8L1770.1 447.3M1783.4 447.2L1784 442.7M1797.1 442.7L1797.6 438.2M1807.5 439.2L1808.1 434.7M1817.8 435.7L1818.4 431.3M1741.3 461.2L1820.1 435M1747.5 454.7L1748.1 450.1M1755.7 452L1756.2 447.5M1766.5 448.5L1767 443.9M1777.3 444.9L1777.8 440.4M1787.9 441.4L1788.4 436.9M1805.4 435.6L1805.9 431.1M1810.7 433.8L1811.3 429.3M1818.4 431.3L1818.9 426.8M1741.8 456.6L1820.6 430.5M1748.1 450.1L1748.6 445.5M1759 446.5L1759.5 442M1764.6 444.7L1765.2 440.1M1772.6 442.1L1773.2 437.5M1783.3 438.6L1783.9 434M1800.9 432.8L1801.4 428.3M1818.2 427.1L1818.7 422.6M1742.3 452L1821.2 426.1M1757.1 442.8L1757.6 438.2M1765.2 440.1L1765.7 435.5M1770.8 438.3L1771.3 433.7M1776.3 436.5L1776.9 431.9M1790.1 432L1790.7 427.4M1798 429.4L1798.5 424.9M1815.3 423.7L1815.9 419.2M1742.8 447.4L1821.8 421.6M1761.7 436.8L1762.2 432.3M1767.3 435L1767.8 430.4M1785.2 429.2L1785.7 424.7M1795.8 425.8L1796.3 421.2M1809.3 421.4L1809.9 416.8M1814.7 419.6L1815.3 415.1M1743.3 442.8L1822.4 417.1M1754.9 434.6L1755.4 430M1760.6 432.8L1761.1 428.2M1774.6 428.2L1775.2 423.7M1792.4 422.5L1793 417.9M1797.9 420.7L1798.4 416.2M1815.3 415.1L1815.9 410.6M1820.6 413.4L1821.2 408.9M1743.9 438.2L1822.9 412.6M1762.7 427.6L1763.2 423M1773.6 424.2L1774.1 419.6M1781.5 421.6L1782.1 417M1795.3 417.2L1795.9 412.6M1803.1 414.7L1803.7 410.1M1810.9 412.2L1811.4 407.7M1744.4 433.5L1823.5 408.1" fill="none" stroke="#4f390f" stroke-width="0.8" stroke-opacity="0.16"/>
<polygon points="1744.9,428.9 1824.1,403.6 1823.8,405.9 1744.6,431.2" fill="#e0ca9f" fill-opacity="0.92"/>
<polygon points="1744.6,431.2 1823.8,405.9 1823.6,407.7 1744.4,433" fill="#e0ca9f" fill-opacity="0.60"/>
<polygon points="1744.4,433 1823.6,407.7 1823.3,409.9 1744.2,435.4" fill="#e0ca9f" fill-opacity="0.30"/>
<polygon points="1744.2,435.4 1823.3,409.9 1822.8,413.5 1743.8,439.1" fill="#e0ca9f" fill-opacity="0.12"/>
<polyline points="1744.9,428.9 1739.8,474.9 1818.4,448.3 1824.1,403.6" fill="none" stroke="#3d3d3d" stroke-width="2" stroke-linecap="round" stroke-linejoin="round"/>
<polygon points="1613.9,438.9 1659.2,456.3 1744.9,428.9 1699.5,412.5" fill="#dfc89c"/>
<path d="M1620.1 437 1639.8 430.9 1651 435.1 1631.2 441.3zM1691.6 415 1699.5 412.5 1710.6 416.5 1702.8 419zM1644.9 437 1660.1 432.3 1671.3 436.5 1656.1 441.3zM1696.5 420.9 1707.7 417.4 1719 421.5 1707.8 425zM1667.5 445.6 1679.3 441.8 1690.8 446.1 1679.1 449.9zM1709.2 432.3 1715.1 430.5 1726.6 434.7 1720.7 436.6zM1715.1 430.5 1733.3 424.7 1744.9 428.9 1726.6 434.7z" fill="#fff" fill-opacity="0.03"/>
<path d="M1679.9 418.5 1685.8 416.7 1697 420.8 1691.1 422.6zM1651.7 442.6 1667 437.8 1678.4 442.1 1663.1 447zM1711.2 424 1721.9 420.6 1733.3 424.7 1722.6 428.1zM1647.6 451.9 1667.5 445.6 1679.1 449.9 1659.2 456.3z" fill="#fff" fill-opacity="0.06"/>
<path d="M1674 420.4 1679.9 418.5 1691.1 422.6 1685.2 424.4zM1690.7 422.7 1696.5 420.9 1707.8 425 1702 426.8zM1636.3 447.5 1651.7 442.6 1663.1 447 1647.6 451.9zM1705.3 425.8 1711.2 424 1722.6 428.1 1716.7 429.9zM1679.3 441.8 1694.3 437 1705.9 441.3 1690.8 446.1zM1694.3 437 1709.2 432.3 1720.7 436.6 1705.9 441.3z" fill="#4a2f08" fill-opacity="0.02"/>
<path d="M1639.8 430.9 1659.2 424.9 1670.4 429 1651 435.1zM1707.7 417.4 1710.6 416.5 1721.9 420.6 1719 421.5z" fill="#4a2f08" fill-opacity="0.04"/>
<path d="M1620.1 437L1631.2 441.3M1639.8 430.9L1651 435.1M1659.2 424.9L1670.4 429M1674 420.4L1685.2 424.4M1679.9 418.5L1691.1 422.6M1685.8 416.7L1697 420.8M1691.6 415L1702.8 419M1644.9 437L1656.1 441.3M1660.1 432.3L1671.3 436.5M1671.6 428.6L1682.9 432.8M1690.7 422.7L1702 426.8M1696.5 420.9L1707.8 425M1707.7 417.4L1719 421.5M1625 443.2L1710.6 416.5M1651.7 442.6L1663.1 447M1667 437.8L1678.4 442.1M1686.3 431.7L1697.7 435.9M1705.3 425.8L1716.7 429.9M1711.2 424L1722.6 428.1M1636.3 447.5L1721.9 420.6M1667.5 445.6L1679.1 449.9M1679.3 441.8L1690.8 446.1M1694.3 437L1705.9 441.3M1709.2 432.3L1720.7 436.6M1715.1 430.5L1726.6 434.7M1647.6 451.9L1733.3 424.7" fill="none" stroke="#4f390f" stroke-width="0.8" stroke-opacity="0.12"/>
<polyline points="1613.9,438.9 1699.5,412.5" fill="none" stroke="#363636" stroke-width="2" stroke-linecap="round" stroke-linejoin="round"/>
<polygon points="1636,438.2 1669.8,427.7 1698.4,438.2 1664.6,449.1" fill="#9c8e74"/>
<polygon points="1664.6,449.1 1636,438.2 1636,438.2 1669.8,427.7 1667.9,448" fill="#a9997b"/>
<polygon points="1667.9,448 1669.8,427.7 1698.4,438.2 1698.4,438.2" fill="#d8c39a"/>
<polyline points="1669.8,427.7 1667.9,448" fill="none" stroke="#8a7e68" stroke-width="1" stroke-linecap="butt" stroke-linejoin="round"/>
<polyline points="1636,438.2 1664.6,449.1 1698.4,438.2" fill="none" stroke="#363636" stroke-width="1.8" stroke-linecap="round" stroke-linejoin="round"/>
<polygon points="1679.2,424.8 1711.7,414.7 1740.3,425 1707.8,435.3" fill="#9c8e74"/>
<polygon points="1707.8,435.3 1679.2,424.8 1679.2,424.8 1711.7,414.7 1709.6,434.7" fill="#a9997b"/>
<polygon points="1709.6,434.7 1711.7,414.7 1740.3,425 1740.3,425" fill="#d8c39a"/>
<polyline points="1711.7,414.7 1709.6,434.7" fill="none" stroke="#8a7e68" stroke-width="1" stroke-linecap="butt" stroke-linejoin="round"/>
<polyline points="1679.2,424.8 1707.8,435.3 1740.3,425" fill="none" stroke="#363636" stroke-width="1.8" stroke-linecap="round" stroke-linejoin="round"/>
<polyline points="1708.4,415.7 1706.6,434.8" fill="none" stroke="#363636" stroke-width="1.7" stroke-linecap="butt" stroke-linejoin="round"/>
<polyline points="1744.9,428.9 1737,426" fill="none" stroke="#363636" stroke-width="1.6" stroke-linecap="round" stroke-linejoin="round"/>
<polyline points="1708.4,415.7 1699.5,412.5" fill="none" stroke="#363636" stroke-width="1.6" stroke-linecap="round" stroke-linejoin="round"/>
<polygon points="1654.7,504.1 1739.8,474.9 1744.9,428.9 1659.2,456.3" fill="#a69676"/>
<path d="M1694.7 490.3 1706.2 486.4 1706.6 481.7 1695.2 485.6zM1729.6 474 1740.3 470.4 1740.8 465.8 1730.1 469.4zM1684 484.9 1695.6 481 1696.1 476.3 1684.5 480.2zM1668 485.8 1674.1 483.7 1674.5 479 1668.4 481.1zM1682.8 480.8 1694.4 476.9 1694.9 472.2 1683.2 476.1zM1720.2 468.2 1734.7 463.4 1735.2 458.8 1720.7 463.6zM1734.7 463.4 1741.3 461.2 1741.8 456.6 1735.2 458.8zM1700.5 465.8 1719.5 459.5 1720 454.9 1701 461.1zM1719.5 459.5 1727.9 456.8 1728.4 452.1 1720 454.9zM1739 453.1 1742.3 452 1742.8 447.4 1739.5 448.5zM1720.4 454.7 1735 450 1735.5 445.3 1720.9 450.1zM1741.7 443.3 1743.3 442.8 1743.9 438.2 1742.2 438.7zM1658.7 461.2 1678.6 454.7 1679.1 449.9 1659.2 456.3zM1706.7 445.6 1721.5 440.8 1722 436.1 1707.2 440.9z" fill="#fff" fill-opacity="0.05"/>
<path d="M1695.6 481 1701.6 479 1702.1 474.3 1696.1 476.3zM1701.6 479 1720.6 472.6 1721.1 468 1702.1 474.3zM1701.3 470.1 1707.2 468.1 1707.7 463.4 1701.8 465.4zM1675.5 469.5 1690.7 464.5 1691.1 459.8 1675.9 464.8zM1657.8 470.8 1669.8 466.8 1670.2 462 1658.3 466zM1673.7 460.9 1689 455.9 1689.5 451.2 1674.2 456.1z" fill="#fff" fill-opacity="0.09"/>
<path d="M1654.7 504.1 1674.5 497.3 1674.9 492.6 1655.2 499.3zM1674.5 497.3 1686.1 493.2 1686.6 488.6 1674.9 492.6zM1655.2 499.3 1661.3 497.2 1661.8 492.5 1655.6 494.6zM1735.1 467.7 1740.8 465.8 1741.3 461.2 1735.6 463.1zM1686.3 475.1 1701.3 470.1 1701.8 465.4 1686.7 470.4zM1707.2 468.1 1713.2 466.1 1713.6 461.5 1707.7 463.4zM1713.2 466.1 1721.5 463.3 1722 458.7 1713.6 461.5zM1736.1 458.5 1741.8 456.6 1742.3 452 1736.6 453.9zM1694.5 467.8 1700.5 465.8 1701 461.1 1695 463.1zM1681.6 462.9 1693.3 459.1 1693.8 454.4 1682.1 458.2zM1727.2 448 1741.7 443.3 1742.2 438.7 1727.7 443.4zM1658.3 466 1673.7 460.9 1674.2 456.1 1658.7 461.2zM1689 455.9 1700.6 452.1 1701.1 447.4 1689.5 451.2zM1726.9 443.6 1738.1 440 1738.6 435.4 1727.4 439zM1738.1 440 1743.9 438.2 1744.4 433.5 1738.6 435.4zM1687.3 451.9 1706.7 445.6 1707.2 440.9 1687.8 447.1z" fill="#4a2f08" fill-opacity="0.03"/>
<path d="M1706.2 486.4 1717.5 482.5 1718 477.9 1706.6 481.7zM1717.5 482.5 1725.8 479.7 1726.3 475.1 1718 477.9zM1725.8 479.7 1739.8 474.9 1740.3 470.4 1726.3 475.1zM1655.6 494.6 1664.4 491.6 1664.9 486.9 1656.1 489.9zM1656.1 489.9 1668 485.8 1668.4 481.1 1656.5 485.1zM1671.5 480.1 1680.2 477.1 1680.7 472.4 1671.9 475.3zM1727.9 456.8 1739 453.1 1739.5 448.5 1728.4 452.1zM1657.4 475.6 1669.3 471.6 1669.8 466.8 1657.8 470.8zM1690.7 464.5 1705.7 459.6 1706.1 454.9 1691.1 459.8zM1705.7 459.6 1720.4 454.7 1720.9 450.1 1706.1 454.9zM1712.5 452.8 1727.2 448 1727.7 443.4 1713 448.1zM1700.6 452.1 1715.5 447.3 1716 442.6 1701.1 447.4z" fill="#4a2f08" fill-opacity="0.07"/>
<path d="M1674.5 497.3L1674.9 492.6M1686.1 493.2L1686.6 488.6M1694.7 490.3L1695.2 485.6M1706.2 486.4L1706.6 481.7M1717.5 482.5L1718 477.9M1725.8 479.7L1726.3 475.1M1661.3 497.2L1661.8 492.5M1681 490.5L1681.4 485.8M1687 488.4L1687.5 483.7M1698.6 484.5L1699.1 479.8M1710 480.6L1710.5 476M1721.3 476.8L1721.8 472.2M1729.6 474L1730.1 469.4M1655.2 499.3L1740.3 470.4M1664.4 491.6L1664.9 486.9M1684 484.9L1684.5 480.2M1695.6 481L1696.1 476.3M1701.6 479L1702.1 474.3M1720.6 472.6L1721.1 468M1735.1 467.7L1735.6 463.1M1655.6 494.6L1740.8 465.8M1668 485.8L1668.4 481.1M1674.1 483.7L1674.5 479M1682.8 480.8L1683.2 476.1M1694.4 476.9L1694.9 472.2M1702.9 474L1703.4 469.4M1714.3 470.2L1714.8 465.6M1720.2 468.2L1720.7 463.6M1734.7 463.4L1735.2 458.8M1656.1 489.9L1741.3 461.2M1665.3 482.1L1665.8 477.4M1671.5 480.1L1671.9 475.3M1680.2 477.1L1680.7 472.4M1686.3 475.1L1686.7 470.4M1701.3 470.1L1701.8 465.4M1707.2 468.1L1707.7 463.4M1713.2 466.1L1713.6 461.5M1721.5 463.3L1722 458.7M1736.1 458.5L1736.6 453.9M1656.5 485.1L1741.8 456.6M1663.1 478.3L1663.6 473.5M1675 474.3L1675.5 469.5M1694.5 467.8L1695 463.1M1700.5 465.8L1701 461.1M1719.5 459.5L1720 454.9M1727.9 456.8L1728.4 452.1M1739 453.1L1739.5 448.5M1656.9 480.3L1742.3 452M1669.3 471.6L1669.8 466.8M1675.5 469.5L1675.9 464.8M1690.7 464.5L1691.1 459.8M1705.7 459.6L1706.1 454.9M1720.4 454.7L1720.9 450.1M1735 450L1735.5 445.3M1657.4 475.6L1742.8 447.4M1669.8 466.8L1670.2 462M1681.6 462.9L1682.1 458.2M1693.3 459.1L1693.8 454.4M1712.5 452.8L1713 448.1M1727.2 448L1727.7 443.4M1741.7 443.3L1742.2 438.7M1657.8 470.8L1743.3 442.8M1673.7 460.9L1674.2 456.1M1689 455.9L1689.5 451.2M1700.6 452.1L1701.1 447.4M1715.5 447.3L1716 442.6M1726.9 443.6L1727.4 439M1738.1 440L1738.6 435.4M1658.3 466L1743.9 438.2M1678.6 454.7L1679.1 449.9M1687.3 451.9L1687.8 447.1M1706.7 445.6L1707.2 440.9M1721.5 440.8L1722 436.1M1729.9 438.2L1730.4 433.5M1735.7 436.3L1736.2 431.6M1658.7 461.2L1744.4 433.5" fill="none" stroke="#4f390f" stroke-width="0.8" stroke-opacity="0.20"/>
<polygon points="1659.2,456.3 1744.9,428.9 1744.6,431.2 1658.9,458.8" fill="#dfc89c" fill-opacity="0.92"/>
<polygon points="1658.9,458.8 1744.6,431.2 1744.4,433 1658.8,460.7" fill="#dfc89c" fill-opacity="0.60"/>
<polygon points="1658.8,460.7 1744.4,433 1744.2,435.4 1658.5,463.1" fill="#dfc89c" fill-opacity="0.30"/>
<polygon points="1658.5,463.1 1744.2,435.4 1743.8,439.1 1658.2,466.9" fill="#dfc89c" fill-opacity="0.12"/>
<polyline points="1659.2,456.3 1654.7,504.1 1739.8,474.9 1744.9,428.9" fill="none" stroke="#363636" stroke-width="2" stroke-linecap="round" stroke-linejoin="round"/>
<polygon points="1521.3,467.3 1566.3,486.3 1659.2,456.3 1613.9,438.9" fill="#dec699"/>
<path d="M1562 454.8 1578.2 449.9 1589.3 454.3 1573.1 459.4zM1596.6 452.1 1608.9 448.2 1620.1 452.6 1607.8 456.5zM1621 444.5 1625 443.2 1636.3 447.5 1632.2 448.8zM1543.5 476.7 1556.5 472.6 1567.8 477.4 1554.8 481.5zM1590.4 462 1611 455.5 1622.4 460 1601.7 466.6zM1611 455.5 1626.9 450.5 1638.2 454.9 1622.4 460zM1595.2 468.7 1616 462 1627.5 466.6 1606.7 473.3z" fill="#fff" fill-opacity="0.03"/>
<path d="M1590.5 446.1 1596.9 444.2 1608 448.5 1601.6 450.5zM1596.9 444.2 1605.8 441.4 1617 445.7 1608 448.5zM1563.3 462.4 1584.2 455.9 1595.5 460.4 1574.5 467zM1577.8 466 1590.4 462 1601.7 466.6 1589.1 470.6zM1626.9 450.5 1633.1 448.5 1644.5 452.9 1638.2 454.9z" fill="#fff" fill-opacity="0.07"/>
<path d="M1532.4 472 1553.9 465.3 1565.1 470 1543.5 476.7zM1645.4 452.6 1647.6 451.9 1659.2 456.3 1656.9 457.1z" fill="#4a2f08" fill-opacity="0.02"/>
<path d="M1528.1 465.2 1540.9 461.3 1552 465.9 1539.1 469.9zM1540.9 461.3 1562 454.8 1573.1 459.4 1552 465.9zM1616 462 1625.1 459.1 1636.6 463.6 1627.5 466.6z" fill="#4a2f08" fill-opacity="0.05"/>
<path d="M1528.1 465.2L1539.1 469.9M1540.9 461.3L1552 465.9M1562 454.8L1573.1 459.4M1578.2 449.9L1589.3 454.3M1590.5 446.1L1601.6 450.5M1596.9 444.2L1608 448.5M1605.8 441.4L1617 445.7M1553.9 465.3L1565.1 470M1563.3 462.4L1574.5 467M1584.2 455.9L1595.5 460.4M1596.6 452.1L1607.8 456.5M1608.9 448.2L1620.1 452.6M1621 444.5L1632.2 448.8M1532.4 472L1625 443.2M1556.5 472.6L1567.8 477.4M1577.8 466L1589.1 470.6M1590.4 462L1601.7 466.6M1611 455.5L1622.4 460M1626.9 450.5L1638.2 454.9M1633.1 448.5L1644.5 452.9M1543.5 476.7L1636.3 447.5M1564.5 478.4L1575.9 483.2M1574 475.4L1585.5 480.2M1595.2 468.7L1606.7 473.3M1616 462L1627.5 466.6M1625.1 459.1L1636.6 463.6M1645.4 452.6L1656.9 457.1M1554.8 481.5L1647.6 451.9" fill="none" stroke="#4f390f" stroke-width="0.8" stroke-opacity="0.14"/>
<polyline points="1521.3,467.3 1613.9,438.9" fill="none" stroke="#2f2f2f" stroke-width="2.1" stroke-linecap="round" stroke-linejoin="round"/>
<polygon points="1544.5,466.6 1581.1,455.3 1609.5,466.7 1572.9,478.4" fill="#998b6f"/>
<polygon points="1572.9,478.4 1544.5,466.6 1544.5,466.6 1581.1,455.3 1579.5,476.3" fill="#a69677"/>
<polygon points="1579.5,476.3 1581.1,455.3 1609.5,466.7 1609.5,466.7" fill="#d7c197"/>
<polyline points="1581.1,455.3 1579.5,476.3" fill="none" stroke="#867a63" stroke-width="1" stroke-linecap="butt" stroke-linejoin="round"/>
<polyline points="1544.5,466.6 1572.9,478.4 1609.5,466.7" fill="none" stroke="#2f2f2f" stroke-width="1.9" stroke-linecap="round" stroke-linejoin="round"/>
<polygon points="1591.2,452.2 1626.3,441.2 1654.9,452.2 1619.7,463.5" fill="#998b6f"/>
<polygon points="1619.7,463.5 1591.2,452.2 1591.2,452.2 1626.3,441.2 1624.6,461.9" fill="#a69677"/>
<polygon points="1624.6,461.9 1626.3,441.2 1654.9,452.2 1654.9,452.2" fill="#d7c197"/>
<polyline points="1626.3,441.2 1624.6,461.9" fill="none" stroke="#867a63" stroke-width="1" stroke-linecap="butt" stroke-linejoin="round"/>
<polyline points="1591.2,452.2 1619.7,463.5 1654.9,452.2" fill="none" stroke="#2f2f2f" stroke-width="1.9" stroke-linecap="round" stroke-linejoin="round"/>
<polyline points="1622.8,442.3 1621,463.1" fill="none" stroke="#2f2f2f" stroke-width="1.8" stroke-linecap="butt" stroke-linejoin="round"/>
<polyline points="1659.2,456.3 1651.3,453.3" fill="none" stroke="#2f2f2f" stroke-width="1.6" stroke-linecap="round" stroke-linejoin="round"/>
<polyline points="1622.8,442.3 1613.9,438.9" fill="none" stroke="#2f2f2f" stroke-width="1.6" stroke-linecap="round" stroke-linejoin="round"/>
<polygon points="1562.7,535.8 1654.7,504.1 1659.2,456.3 1566.3,486.3" fill="#a39272"/>
<path d="M1595.7 519.7 1602.2 517.5 1602.6 512.7 1596 514.9zM1644 503.2 1653 500.1 1653.4 495.4 1644.5 498.4zM1653 500.1 1655.2 499.3 1655.6 494.6 1653.4 495.4zM1617.3 507.7 1626.4 504.6 1626.9 499.8 1617.7 502.8zM1563.8 521.1 1580.4 515.4 1580.8 510.5 1564.1 516.1zM1580.4 515.4 1601.6 508.3 1602 503.5 1580.8 510.5zM1606.6 501.9 1615.8 498.8 1616.2 493.9 1607 497zM1615.8 498.8 1636.3 491.9 1636.8 487.1 1616.2 493.9zM1636.3 491.9 1642.7 489.8 1643.1 485 1636.8 487.1zM1616.2 493.9 1622.7 491.8 1623.1 487 1616.7 489.1zM1564.8 506.2 1581.6 500.7 1581.9 495.8 1565.2 501.3zM1640.3 471.9 1649.3 468.9 1649.8 464.1 1640.8 467zM1655.1 462.3 1658.7 461.2 1659.2 456.3 1655.6 457.5z" fill="#fff" fill-opacity="0.05"/>
<path d="M1592 525.7 1612.8 518.5 1613.2 513.7 1592.4 520.9zM1640.9 508.8 1654.7 504.1 1655.2 499.3 1641.4 504.1zM1653.8 495.2 1655.6 494.6 1656.1 489.9 1654.3 490.5zM1601.6 508.3 1614 504.1 1614.5 499.3 1602 503.5zM1647.1 483.6 1656.9 480.3 1657.4 475.6 1647.6 478.8zM1581.6 500.7 1591 497.6 1591.4 492.7 1581.9 495.8zM1645.8 479.4 1657.4 475.6 1657.8 470.8 1646.2 474.6zM1565.2 501.3 1574.8 498.1 1575.2 493.2 1565.6 496.3zM1591.4 492.7 1604.1 488.5 1604.5 483.6 1591.8 487.8zM1604.1 488.5 1624.9 481.7 1625.3 476.8 1604.5 483.6zM1619.8 478.6 1640.3 471.9 1640.8 467 1620.2 473.7z" fill="#fff" fill-opacity="0.11"/>
<path d="M1589.1 522 1595.7 519.7 1596 514.9 1589.5 517.1zM1631.9 507.3 1644 503.2 1644.5 498.4 1632.3 502.5zM1647.6 497.3 1653.8 495.2 1654.3 490.5 1648 492.6zM1585.6 509 1606.6 501.9 1607 497 1585.9 504.1zM1654.7 485.7 1656.5 485.1 1656.9 480.3 1655.2 480.9zM1638.1 486.6 1647.1 483.6 1647.6 478.8 1638.6 481.8zM1591 497.6 1612 490.6 1612.4 485.8 1591.4 492.7zM1624.5 486.5 1636.7 482.4 1637.2 477.6 1624.9 481.7zM1565.6 496.3 1575.2 493.2 1575.5 488.2 1565.9 491.3zM1575.2 493.2 1581.8 491 1582.2 486 1575.5 488.2zM1618.3 474.3 1627.5 471.3 1628 466.4 1618.8 469.4zM1627.5 471.3 1636.7 468.3 1637.1 463.5 1628 466.4z" fill="#4a2f08" fill-opacity="0.04"/>
<path d="M1582.5 524.2 1589.1 522 1589.5 517.1 1582.9 519.4zM1563.4 526 1580.1 520.3 1580.4 515.4 1563.8 521.1zM1580.1 520.3 1601.2 513.2 1601.6 508.3 1580.4 515.4zM1601.2 513.2 1617.3 507.7 1617.7 502.8 1601.6 508.3zM1574.1 508 1595.3 500.9 1595.7 496 1574.4 503.1zM1612 490.6 1624.5 486.5 1624.9 481.7 1612.4 485.8zM1574.8 498.1 1591.4 492.7 1591.8 487.8 1575.2 493.2zM1624.9 481.7 1645.3 474.9 1645.7 470.1 1625.3 476.8zM1604 483.8 1613.3 480.7 1613.7 475.8 1604.4 478.9zM1636.7 468.3 1648.9 464.4 1649.3 459.5 1637.1 463.5zM1648.9 464.4 1655.1 462.3 1655.6 457.5 1649.3 459.5z" fill="#4a2f08" fill-opacity="0.08"/>
<path d="M1579.3 530.1L1579.7 525.2M1592 525.7L1592.4 520.9M1612.8 518.5L1613.2 513.7M1628.8 513L1629.2 508.3M1640.9 508.8L1641.4 504.1M1575.9 526.5L1576.3 521.6M1582.5 524.2L1582.9 519.4M1589.1 522L1589.5 517.1M1595.7 519.7L1596 514.9M1602.2 517.5L1602.6 512.7M1622.8 510.4L1623.3 505.6M1631.9 507.3L1632.3 502.5M1644 503.2L1644.5 498.4M1653 500.1L1653.4 495.4M1563 530.9L1655.2 499.3M1580.1 520.3L1580.4 515.4M1601.2 513.2L1601.6 508.3M1617.3 507.7L1617.7 502.8M1626.4 504.6L1626.9 499.8M1638.6 500.4L1639.1 495.6M1647.6 497.3L1648 492.6M1653.8 495.2L1654.3 490.5M1563.4 526L1655.6 494.6M1580.4 515.4L1580.8 510.5M1601.6 508.3L1602 503.5M1614 504.1L1614.5 499.3M1623.2 501L1623.6 496.2M1632.3 497.9L1632.7 493.1M1641.3 494.9L1641.8 490.1M1647.6 492.7L1648 487.9M1563.8 521.1L1656.1 489.9M1585.6 509L1585.9 504.1M1606.6 501.9L1607 497M1615.8 498.8L1616.2 493.9M1636.3 491.9L1636.8 487.1M1642.7 489.8L1643.1 485M1654.7 485.7L1655.2 480.9M1564.1 516.1L1656.5 485.1M1574.1 508L1574.4 503.1M1595.3 500.9L1595.7 496M1616.2 493.9L1616.7 489.1M1622.7 491.8L1623.1 487M1629.1 489.7L1629.5 484.8M1638.1 486.6L1638.6 481.8M1647.1 483.6L1647.6 478.8M1564.5 511.2L1656.9 480.3M1581.6 500.7L1581.9 495.8M1591 497.6L1591.4 492.7M1612 490.6L1612.4 485.8M1624.5 486.5L1624.9 481.7M1636.7 482.4L1637.2 477.6M1645.8 479.4L1646.2 474.6M1564.8 506.2L1657.4 475.6M1574.8 498.1L1575.2 493.2M1591.4 492.7L1591.8 487.8M1604.1 488.5L1604.5 483.6M1624.9 481.7L1625.3 476.8M1645.3 474.9L1645.7 470.1M1565.2 501.3L1657.8 470.8M1575.2 493.2L1575.5 488.2M1581.8 491L1582.2 486M1594.6 486.8L1595 481.9M1604 483.8L1604.4 478.9M1613.3 480.7L1613.7 475.8M1619.8 478.6L1620.2 473.7M1640.3 471.9L1640.8 467M1649.3 468.9L1649.8 464.1M1565.6 496.3L1658.3 466M1578.9 487.1L1579.3 482.2M1585.6 485L1585.9 480M1602.1 479.6L1602.5 474.7M1618.3 474.3L1618.8 469.4M1627.5 471.3L1628 466.4M1636.7 468.3L1637.1 463.5M1648.9 464.4L1649.3 459.5M1655.1 462.3L1655.6 457.5M1565.9 491.3L1658.7 461.2" fill="none" stroke="#4f390f" stroke-width="0.8" stroke-opacity="0.23"/>
<polygon points="1566.3,486.3 1659.2,456.3 1658.9,458.8 1566.1,488.8" fill="#dec699" fill-opacity="0.92"/>
<polygon points="1566.1,488.8 1658.9,458.8 1658.8,460.7 1565.9,490.8" fill="#dec699" fill-opacity="0.60"/>
<polygon points="1565.9,490.8 1658.8,460.7 1658.5,463.1 1565.8,493.3" fill="#dec699" fill-opacity="0.30"/>
<polygon points="1565.8,493.3 1658.5,463.1 1658.2,466.9 1565.5,497.3" fill="#dec699" fill-opacity="0.12"/>
<polyline points="1566.3,486.3 1562.7,535.8 1654.7,504.1 1659.2,456.3" fill="none" stroke="#2f2f2f" stroke-width="2.1" stroke-linecap="round" stroke-linejoin="round"/>
<polygon points="1420.8,497.5 1465.2,518.6 1566.3,486.3 1521.3,467.3" fill="#ddc496"/>
<path d="M1435.4 493.2 1445.7 490.1 1456.6 495.2 1446.3 498.3zM1445.7 490.1 1455.9 487 1466.9 492.1 1456.6 495.2zM1487.1 477.7 1497 474.7 1508 479.5 1498.1 482.5zM1484.1 495.2 1491.2 493 1502.4 498.1 1495.3 500.3zM1491.2 493 1501.2 489.9 1512.5 494.9 1502.4 498.1zM1525 491 1534.9 487.8 1546.3 492.8 1536.4 495.9z" fill="#fff" fill-opacity="0.04"/>
<path d="M1510.2 470.7 1519.9 467.7 1530.9 472.4 1521.2 475.4zM1461 502.3 1484.1 495.2 1495.3 500.3 1472.2 507.5zM1514.7 485.7 1536.8 478.8 1548.1 483.7 1526 490.7zM1453.9 513.2 1461.2 510.9 1472.6 516.3 1465.2 518.6z" fill="#fff" fill-opacity="0.08"/>
<path d="M1420.8 497.5 1428.1 495.3 1439 500.5 1431.7 502.7zM1428.1 495.3 1435.4 493.2 1446.3 498.3 1439 500.5zM1473.6 481.7 1487.1 477.7 1498.1 482.5 1484.6 486.7zM1431.7 502.7 1449.9 497.2 1461 502.3 1442.7 507.9zM1488.1 485.6 1495.1 483.5 1506.2 488.4 1499.2 490.5zM1461.2 510.9 1484.6 503.7 1495.9 508.9 1472.6 516.3zM1551.9 482.4 1554.8 481.5 1566.3 486.3 1563.4 487.3z" fill="#4a2f08" fill-opacity="0.03"/>
<path d="M1495.1 483.5 1505 480.4 1516.2 485.3 1506.2 488.4zM1505 480.4 1518.3 476.3 1529.5 481.1 1516.2 485.3zM1507.5 496.5 1525 491 1536.4 495.9 1518.9 501.6z" fill="#4a2f08" fill-opacity="0.05"/>
<path d="M1428.1 495.3L1439 500.5M1435.4 493.2L1446.3 498.3M1445.7 490.1L1456.6 495.2M1455.9 487L1466.9 492.1M1473.6 481.7L1484.6 486.7M1487.1 477.7L1498.1 482.5M1497 474.7L1508 479.5M1510.2 470.7L1521.2 475.4M1519.9 467.7L1530.9 472.4M1449.9 497.2L1461 502.3M1457.1 495L1468.2 500.1M1467.4 491.9L1478.5 497M1474.5 489.7L1485.6 494.8M1488.1 485.6L1499.2 490.5M1495.1 483.5L1506.2 488.4M1505 480.4L1516.2 485.3M1518.3 476.3L1529.5 481.1M1431.7 502.7L1532.4 472M1461 502.3L1472.2 507.5M1484.1 495.2L1495.3 500.3M1491.2 493L1502.4 498.1M1501.2 489.9L1512.5 494.9M1514.7 485.7L1526 490.7M1536.8 478.8L1548.1 483.7M1442.7 507.9L1543.5 476.7M1461.2 510.9L1472.6 516.3M1484.6 503.7L1495.9 508.9M1507.5 496.5L1518.9 501.6M1525 491L1536.4 495.9M1534.9 487.8L1546.3 492.8M1551.9 482.4L1563.4 487.3M1453.9 513.2L1554.8 481.5" fill="none" stroke="#4f390f" stroke-width="0.8" stroke-opacity="0.16"/>
<polyline points="1420.8,497.5 1521.3,467.3" fill="none" stroke="#282828" stroke-width="2.1" stroke-linecap="round" stroke-linejoin="round"/>
<polygon points="1445.1,496.9 1484.9,484.9 1513.1,497.5 1473.2,510" fill="#96876b"/>
<polygon points="1473.2,510 1445.1,496.9 1445.1,496.9 1484.9,484.9 1483.7,506.7" fill="#a39273"/>
<polygon points="1483.7,506.7 1484.9,484.9 1513.1,497.5 1513.1,497.5" fill="#d6bf93"/>
<polyline points="1484.9,484.9 1483.7,506.7" fill="none" stroke="#82765e" stroke-width="1" stroke-linecap="butt" stroke-linejoin="round"/>
<polyline points="1445.1,496.9 1473.2,510 1513.1,497.5" fill="none" stroke="#282828" stroke-width="1.9" stroke-linecap="round" stroke-linejoin="round"/>
<polygon points="1495.9,481.6 1534,469.8 1562.3,481.8 1524.1,494" fill="#96876b"/>
<polygon points="1524.1,494 1495.9,481.6 1495.9,481.6 1534,469.8 1532.6,491.3" fill="#a39273"/>
<polygon points="1532.6,491.3 1534,469.8 1562.3,481.8 1562.3,481.8" fill="#d6bf93"/>
<polyline points="1534,469.8 1532.6,491.3" fill="none" stroke="#82765e" stroke-width="1" stroke-linecap="butt" stroke-linejoin="round"/>
<polyline points="1495.9,481.6 1524.1,494 1562.3,481.8" fill="none" stroke="#282828" stroke-width="1.9" stroke-linecap="round" stroke-linejoin="round"/>
<polyline points="1530.2,471 1528.8,492.5" fill="none" stroke="#282828" stroke-width="1.8" stroke-linecap="butt" stroke-linejoin="round"/>
<polyline points="1566.3,486.3 1558.5,483" fill="none" stroke="#282828" stroke-width="1.7" stroke-linecap="round" stroke-linejoin="round"/>
<polyline points="1530.2,471 1521.3,467.3" fill="none" stroke="#282828" stroke-width="1.7" stroke-linecap="round" stroke-linejoin="round"/>
<polygon points="1462.5,569.8 1562.7,535.8 1566.3,486.3 1465.2,518.6" fill="#a08f6e"/>
<path d="M1528.1 533.1 1550.2 525.6 1550.6 520.7 1528.5 528.1zM1541.3 523.8 1558.3 518.1 1558.7 513.1 1541.6 518.8zM1478 539.8 1485.2 537.4 1485.5 532.3 1478.3 534.7zM1523.8 524.7 1546 517.3 1546.4 512.4 1524.1 519.7zM1464.1 539.2 1482.4 533.3 1482.7 528.2 1464.4 534.1zM1464.4 534.1 1474.9 530.7 1475.2 525.6 1464.7 528.9zM1493 524.9 1503.2 521.6 1503.5 516.5 1493.3 519.8zM1464.7 528.9 1475.2 525.6 1475.4 520.4 1464.9 523.8zM1526.1 504.2 1539.5 499.9 1539.9 494.8 1526.4 499.2z" fill="#fff" fill-opacity="0.06"/>
<path d="M1485.9 562 1493 559.6 1493.3 554.6 1486.1 557zM1493 559.6 1500.1 557.2 1500.4 552.2 1493.3 554.6zM1510.2 553.7 1517.2 551.4 1517.5 546.4 1510.5 548.8zM1486.1 557 1504 551 1504.3 546 1486.4 551.9zM1504 551 1517.5 546.4 1517.8 541.4 1504.3 546zM1463.1 559.7 1481.3 553.6 1481.6 548.6 1463.3 554.6zM1481.3 553.6 1499.2 547.7 1499.5 542.6 1481.6 548.6zM1463.3 554.6 1477.4 549.9 1477.7 544.9 1463.6 549.5zM1500.5 542.3 1514.2 537.7 1514.5 532.7 1500.8 537.3zM1470.9 547.1 1489.1 541.1 1489.3 536.1 1471.2 542zM1485.2 537.4 1492.4 535 1492.7 530 1485.5 532.3zM1510.2 529.2 1523.8 524.7 1524.1 519.7 1510.6 524.1zM1489.2 521.1 1503 516.6 1503.3 511.5 1489.5 516zM1508.4 509.9 1526.1 504.2 1526.4 499.2 1508.7 504.8zM1549.4 496.7 1559.1 493.5 1559.5 488.5 1549.7 491.7z" fill="#fff" fill-opacity="0.13"/>
<path d="M1462.5 569.8 1485.9 562 1486.1 557 1462.8 564.8zM1541.4 543.1 1551.1 539.8 1551.5 534.8 1541.7 538.2zM1551.1 539.8 1560.8 536.4 1561.1 531.5 1551.5 534.8zM1560.8 536.4 1562.7 535.8 1563 530.9 1561.1 531.5zM1477.4 549.9 1500.5 542.3 1500.8 537.3 1477.7 544.9zM1521.2 535.4 1528.1 533.1 1528.5 528.1 1521.5 530.4zM1534.4 526.1 1541.3 523.8 1541.6 518.8 1534.7 521.1zM1474.9 530.7 1493 524.9 1493.3 519.8 1475.2 525.6zM1561.2 497.7 1565.6 496.3 1565.9 491.3 1561.6 492.7z" fill="#4a2f08" fill-opacity="0.04"/>
<path d="M1534.5 545.4 1541.4 543.1 1541.7 538.2 1534.9 540.5zM1462.8 564.8 1486.1 557 1486.4 551.9 1463.1 559.7zM1549.5 535.5 1563 530.9 1563.4 526 1549.9 530.6zM1521.8 540.1 1531.8 536.7 1532.1 531.7 1522.2 535.1zM1512 533.6 1534.4 526.1 1534.7 521.1 1512.3 528.5zM1463.9 544.4 1478 539.8 1478.3 534.7 1464.1 539.2zM1546 517.3 1559.2 513 1559.5 508 1546.4 512.4zM1559.2 513 1564.5 511.2 1564.8 506.2 1559.5 508zM1496.3 528.8 1519.1 521.3 1519.4 516.3 1496.6 523.7zM1510.4 519.3 1523.9 514.8 1524.3 509.8 1510.7 514.2zM1483.2 517.9 1490.5 515.6 1490.8 510.5 1483.5 512.8zM1539.5 499.9 1549.4 496.7 1549.7 491.7 1539.9 494.8z" fill="#4a2f08" fill-opacity="0.09"/>
<path d="M1485.9 562L1486.1 557M1493 559.6L1493.3 554.6M1500.1 557.2L1500.4 552.2M1510.2 553.7L1510.5 548.8M1517.2 551.4L1517.5 546.4M1534.5 545.4L1534.9 540.5M1541.4 543.1L1541.7 538.2M1551.1 539.8L1551.5 534.8M1560.8 536.4L1561.1 531.5M1486.1 557L1486.4 551.9M1504 551L1504.3 546M1517.5 546.4L1517.8 541.4M1527.5 543L1527.8 538M1549.5 535.5L1549.9 530.6M1462.8 564.8L1563 530.9M1481.3 553.6L1481.6 548.6M1499.2 547.7L1499.5 542.6M1521.8 540.1L1522.2 535.1M1531.8 536.7L1532.1 531.7M1553.8 529.3L1554.1 524.3M1463.1 559.7L1563.4 526M1477.4 549.9L1477.7 544.9M1500.5 542.3L1500.8 537.3M1514.2 537.7L1514.5 532.7M1521.2 535.4L1521.5 530.4M1528.1 533.1L1528.5 528.1M1550.2 525.6L1550.6 520.7M1463.3 554.6L1563.8 521.1M1470.9 547.1L1471.2 542M1489.1 541.1L1489.3 536.1M1512 533.6L1512.3 528.5M1534.4 526.1L1534.7 521.1M1541.3 523.8L1541.6 518.8M1558.3 518.1L1558.7 513.1M1463.6 549.5L1564.1 516.1M1478 539.8L1478.3 534.7M1485.2 537.4L1485.5 532.3M1492.4 535L1492.7 530M1510.2 529.2L1510.6 524.1M1523.8 524.7L1524.1 519.7M1546 517.3L1546.4 512.4M1559.2 513L1559.5 508M1463.9 544.4L1564.5 511.2M1482.4 533.3L1482.7 528.2M1496.3 528.8L1496.6 523.7M1519.1 521.3L1519.4 516.3M1529.1 518.1L1529.4 513M1546.4 512.4L1546.7 507.4M1556.1 509.1L1556.5 504.1M1464.1 539.2L1564.8 506.2M1474.9 530.7L1475.2 525.6M1493 524.9L1493.3 519.8M1503.2 521.6L1503.5 516.5M1510.4 519.3L1510.7 514.2M1523.9 514.8L1524.3 509.8M1546.2 507.5L1546.6 502.5M1563.3 501.9L1563.6 496.9M1464.4 534.1L1565.2 501.3M1475.2 525.6L1475.4 520.4M1489.2 521.1L1489.5 516M1503 516.6L1503.3 511.5M1525.8 509.3L1526.1 504.2M1539.2 504.9L1539.5 499.9M1561.2 497.7L1561.6 492.7M1464.7 528.9L1565.6 496.3M1483.2 517.9L1483.5 512.8M1490.5 515.6L1490.8 510.5M1508.4 509.9L1508.7 504.8M1526.1 504.2L1526.4 499.2M1539.5 499.9L1539.9 494.8M1549.4 496.7L1549.7 491.7M1559.1 493.5L1559.5 488.5M1464.9 523.8L1565.9 491.3" fill="none" stroke="#4f390f" stroke-width="0.8" stroke-opacity="0.26"/>
<polygon points="1465.2,518.6 1566.3,486.3 1566.1,488.8 1465.1,521.2" fill="#ddc496" fill-opacity="0.92"/>
<polygon points="1465.1,521.2 1566.1,488.8 1565.9,490.8 1465,523.2" fill="#ddc496" fill-opacity="0.60"/>
<polygon points="1465,523.2 1565.9,490.8 1565.8,493.3 1464.8,525.8" fill="#ddc496" fill-opacity="0.30"/>
<polygon points="1464.8,525.8 1565.8,493.3 1565.5,497.3 1464.6,530" fill="#ddc496" fill-opacity="0.12"/>
<polyline points="1465.2,518.6 1462.5,569.8 1562.7,535.8 1566.3,486.3" fill="none" stroke="#282828" stroke-width="2.1" stroke-linecap="round" stroke-linejoin="round"/>
<polygon points="1311.4,529.4 1354.8,552.3 1465.2,518.6 1420.8,497.5" fill="#dcc393"/>
<path d="M1337.9 521.4 1349.1 518.2 1359.8 523.7 1348.6 527zM1322 534.9 1337.4 530.3 1348.2 536 1332.8 540.6zM1348.6 527 1368.1 521.3 1379 526.9 1359.5 532.6zM1375.8 519 1400.3 511.9 1411.2 517.4 1386.7 524.6zM1363.4 531.5 1378.4 527.1 1389.5 532.8 1374.4 537.2zM1343.7 546.4 1351.8 544 1362.9 549.9 1354.8 552.3z" fill="#fff" fill-opacity="0.04"/>
<path d="M1400.3 511.9 1424.3 504.9 1435.3 510.2 1411.2 517.4zM1332.8 540.6 1348.2 536 1359.2 541.8 1343.7 546.4zM1378.4 527.1 1393.3 522.7 1404.4 528.3 1389.5 532.8z" fill="#fff" fill-opacity="0.08"/>
<path d="M1363.9 513.9 1371.6 511.7 1382.4 517.1 1374.7 519.4zM1348.2 536 1363.4 531.5 1374.4 537.2 1359.2 541.8zM1393.3 522.7 1417.7 515.5 1428.8 520.9 1404.4 528.3z" fill="#4a2f08" fill-opacity="0.03"/>
<path d="M1311.4 529.4 1322.7 526 1333.4 531.5 1322 534.9zM1322.7 526 1337.9 521.4 1348.6 527 1333.4 531.5zM1379.2 509.5 1393.7 505.3 1404.6 510.7 1390 514.9zM1337.4 530.3 1348.6 527 1359.5 532.6 1348.2 536zM1351.8 544 1371.6 538.1 1382.7 543.9 1362.9 549.9zM1440.1 517.5 1453.9 513.2 1465.2 518.6 1451.4 522.9z" fill="#4a2f08" fill-opacity="0.06"/>
<path d="M1322.7 526L1333.4 531.5M1337.9 521.4L1348.6 527M1349.1 518.2L1359.8 523.7M1363.9 513.9L1374.7 519.4M1371.6 511.7L1382.4 517.1M1379.2 509.5L1390 514.9M1393.7 505.3L1404.6 510.7M1417.6 498.4L1428.5 503.6M1337.4 530.3L1348.2 536M1348.6 527L1359.5 532.6M1368.1 521.3L1379 526.9M1375.8 519L1386.7 524.6M1400.3 511.9L1411.2 517.4M1424.3 504.9L1435.3 510.2M1322 534.9L1431.7 502.7M1348.2 536L1359.2 541.8M1363.4 531.5L1374.4 537.2M1378.4 527.1L1389.5 532.8M1393.3 522.7L1404.4 528.3M1417.7 515.5L1428.8 520.9M1436.4 509.9L1447.5 515.2M1332.8 540.6L1442.7 507.9M1351.8 544L1362.9 549.9M1371.6 538.1L1382.7 543.9M1391.1 532.3L1402.3 538M1415.8 524.9L1427.1 530.5M1440.1 517.5L1451.4 522.9M1343.7 546.4L1453.9 513.2" fill="none" stroke="#4f390f" stroke-width="0.8" stroke-opacity="0.18"/>
<polyline points="1311.4,529.4 1420.8,497.5" fill="none" stroke="#212121" stroke-width="2.1" stroke-linecap="round" stroke-linejoin="round"/>
<polygon points="1336.9,528.7 1380.2,516 1408,530.1 1364.4,543.1" fill="#938366"/>
<polygon points="1364.4,543.1 1336.9,528.7 1336.9,528.7 1380.2,516 1379.5,538.6" fill="#a08f6f"/>
<polygon points="1379.5,538.6 1380.2,516 1408,530.1 1408,530.1" fill="#d5bd90"/>
<polyline points="1380.2,516 1379.5,538.6" fill="none" stroke="#7e7259" stroke-width="1" stroke-linecap="butt" stroke-linejoin="round"/>
<polyline points="1336.9,528.7 1364.4,543.1 1408,530.1" fill="none" stroke="#212121" stroke-width="1.9" stroke-linecap="round" stroke-linejoin="round"/>
<polygon points="1392.2,512.6 1433.7,500.4 1461.7,513.6 1420,526.5" fill="#938366"/>
<polygon points="1420,526.5 1392.2,512.6 1392.2,512.6 1433.7,500.4 1432.7,522.6" fill="#a08f6f"/>
<polygon points="1432.7,522.6 1433.7,500.4 1461.7,513.6 1461.7,513.6" fill="#d5bd90"/>
<polyline points="1433.7,500.4 1432.7,522.6" fill="none" stroke="#7e7259" stroke-width="1" stroke-linecap="butt" stroke-linejoin="round"/>
<polyline points="1392.2,512.6 1420,526.5 1461.7,513.6" fill="none" stroke="#212121" stroke-width="1.9" stroke-linecap="round" stroke-linejoin="round"/>
<polyline points="1429.5,501.6 1428.5,523.9" fill="none" stroke="#212121" stroke-width="1.8" stroke-linecap="butt" stroke-linejoin="round"/>
<polyline points="1465.2,518.6 1457.5,514.9" fill="none" stroke="#212121" stroke-width="1.7" stroke-linecap="round" stroke-linejoin="round"/>
<polyline points="1429.5,501.6 1420.8,497.5" fill="none" stroke="#212121" stroke-width="1.7" stroke-linecap="round" stroke-linejoin="round"/>
<polygon points="1353.3,605.7 1462.5,569.8 1465.2,518.6 1354.8,552.3" fill="#9e8c69"/>
<path d="M1373.1 599.2 1398.1 591.1 1398.3 586 1373.3 594zM1376.6 592.9 1396.1 586.7 1396.3 581.5 1376.8 587.7zM1373.6 583.5 1398.7 575.5 1398.9 570.3 1373.8 578.2zM1449.9 554 1463.6 549.5 1463.9 544.4 1450.1 548.8zM1354.4 568.4 1374.3 562.3 1374.5 557 1354.5 563.1zM1354.5 563.1 1374.5 557 1374.7 551.6 1354.7 557.7zM1374.5 557 1399.7 549.3 1399.9 544 1374.7 551.6zM1410.8 545.9 1429.9 539.9 1430.1 534.7 1411 540.6z" fill="#fff" fill-opacity="0.07"/>
<path d="M1353.5 600.4 1368.8 595.4 1368.9 590.2 1353.6 595.1zM1422.3 578.2 1429.9 575.7 1430.1 570.6 1422.6 573zM1428 571.3 1438.7 567.7 1439 562.6 1428.2 566.1zM1450.7 558.8 1458.1 556.3 1458.3 551.2 1450.9 553.6zM1373.8 578.2 1385 574.7 1385.2 569.4 1374 572.9zM1392.8 572.2 1412.1 566.1 1412.3 560.9 1393 567zM1412.1 566.1 1431.1 560.1 1431.4 554.9 1412.3 560.9zM1382 565.2 1397.1 560.5 1397.3 555.3 1382.2 559.9zM1440.8 546.8 1455.2 542.1 1455.4 537 1441 541.6zM1394 556.3 1413.3 550.3 1413.5 545 1394.1 551zM1437.8 542.6 1456.5 536.6 1456.7 531.5 1438 537.4z" fill="#fff" fill-opacity="0.14"/>
<path d="M1429.9 575.7 1453.9 567.7 1454.1 562.7 1430.1 570.6zM1373.5 588.7 1384.6 585.2 1384.8 579.9 1373.6 583.5zM1395.7 581.6 1420.4 573.7 1420.6 568.5 1395.9 576.4zM1462.6 559.9 1463.1 559.7 1463.3 554.6 1462.8 554.8zM1443.2 561.2 1450.7 558.8 1450.9 553.6 1443.5 556.1zM1431.1 560.1 1449.9 554 1450.1 548.8 1431.4 554.9zM1369.4 574.3 1377.3 571.9 1377.5 566.6 1369.6 569zM1396.9 565.8 1421.6 558 1421.8 552.8 1397.1 560.5zM1421.8 552.8 1440.8 546.8 1441 541.6 1422.1 547.6zM1374.3 562.3 1394 556.3 1394.1 551 1374.5 557zM1413.3 550.3 1437.8 542.6 1438 537.4 1413.5 545zM1370.1 553 1395.5 545.4 1395.7 540 1370.3 547.7zM1417.6 538.6 1442 531 1442.3 525.8 1417.8 533.3z" fill="#4a2f08" fill-opacity="0.05"/>
<path d="M1416.7 585.1 1427.5 581.5 1427.7 576.4 1416.9 579.9zM1414.7 580.6 1422.3 578.2 1422.6 573 1415 575.5zM1353.6 595.1 1373.5 588.7 1373.6 583.5 1353.8 589.8zM1438.7 567.7 1462.6 559.9 1462.8 554.8 1439 562.6zM1458.1 556.3 1463.3 554.6 1463.6 549.5 1458.3 551.2zM1455.2 542.1 1462.6 539.7 1462.8 534.6 1455.4 537zM1462.6 539.7 1464.1 539.2 1464.4 534.1 1462.8 534.6zM1444.5 535.4 1464.7 528.9 1464.9 523.8 1444.7 530.1z" fill="#4a2f08" fill-opacity="0.10"/>
<path d="M1373.1 599.2L1373.3 594M1398.1 591.1L1398.3 586M1409.1 587.6L1409.3 582.4M1416.7 585.1L1416.9 579.9M1427.5 581.5L1427.7 576.4M1442 576.7L1442.2 571.6M1368.8 595.4L1368.9 590.2M1376.6 592.9L1376.8 587.7M1396.1 586.7L1396.3 581.5M1403.8 584.2L1404 579M1414.7 580.6L1415 575.5M1422.3 578.2L1422.6 573M1429.9 575.7L1430.1 570.6M1453.9 567.7L1454.1 562.7M1353.5 600.4L1462.8 564.8M1373.5 588.7L1373.6 583.5M1384.6 585.2L1384.8 579.9M1395.7 581.6L1395.9 576.4M1420.4 573.7L1420.6 568.5M1428 571.3L1428.2 566.1M1438.7 567.7L1439 562.6M1462.6 559.9L1462.8 554.8M1353.6 595.1L1463.1 559.7M1373.6 583.5L1373.8 578.2M1398.7 575.5L1398.9 570.3M1409.7 572L1409.9 566.8M1428.7 565.9L1429 560.8M1443.2 561.2L1443.5 556.1M1450.7 558.8L1450.9 553.6M1458.1 556.3L1458.3 551.2M1353.8 589.8L1463.3 554.6M1373.8 578.2L1374 572.9M1385 574.7L1385.2 569.4M1392.8 572.2L1393 567M1412.1 566.1L1412.3 560.9M1431.1 560.1L1431.4 554.9M1449.9 554L1450.1 548.8M1353.9 584.5L1463.6 549.5M1369.4 574.3L1369.6 569M1377.3 571.9L1377.5 566.6M1396.9 565.8L1397.1 560.5M1421.6 558L1421.8 552.8M1440.5 551.9L1440.8 546.8M1354.1 579.1L1463.9 544.4M1374.1 567.6L1374.3 562.3M1382 565.2L1382.2 559.9M1397.1 560.5L1397.3 555.3M1421.8 552.8L1422.1 547.6M1440.8 546.8L1441 541.6M1455.2 542.1L1455.4 537M1462.6 539.7L1462.8 534.6M1354.2 573.8L1464.1 539.2M1374.3 562.3L1374.5 557M1394 556.3L1394.1 551M1413.3 550.3L1413.5 545M1437.8 542.6L1438 537.4M1456.5 536.6L1456.7 531.5M1354.4 568.4L1464.4 534.1M1374.5 557L1374.7 551.6M1399.7 549.3L1399.9 544M1410.8 545.9L1411 540.6M1429.9 539.9L1430.1 534.7M1444.5 535.4L1444.7 530.1M1354.5 563.1L1464.7 528.9M1370.1 553L1370.3 547.7M1395.5 545.4L1395.7 540M1406.6 542L1406.8 536.7M1417.6 538.6L1417.8 533.3M1442 531L1442.3 525.8M1354.7 557.7L1464.9 523.8" fill="none" stroke="#4f390f" stroke-width="0.8" stroke-opacity="0.30"/>
<polygon points="1354.8,552.3 1465.2,518.6 1465.1,521.2 1354.7,555" fill="#dcc393" fill-opacity="0.92"/>
<polygon points="1354.7,555 1465.1,521.2 1465,523.2 1354.7,557.2" fill="#dcc393" fill-opacity="0.60"/>
<polygon points="1354.7,557.2 1465,523.2 1464.8,525.8 1354.6,559.9" fill="#dcc393" fill-opacity="0.30"/>
<polygon points="1354.6,559.9 1464.8,525.8 1464.6,530 1354.5,564.1" fill="#dcc393" fill-opacity="0.12"/>
<polyline points="1354.8,552.3 1353.3,605.7 1462.5,569.8 1465.2,518.6" fill="none" stroke="#212121" stroke-width="2.1" stroke-linecap="round" stroke-linejoin="round"/>
<polygon points="1253.1,547.8 1295.8,570.6 1354.8,552.3 1311.4,529.4" fill="#dbc190"/>
<path d="M1300.9 550.4 1327.1 542.3 1338 548.1 1311.7 556.2zM1284.9 564.7 1293.3 562 1304.3 567.9 1295.8 570.6zM1332.8 549.7 1343.7 546.4 1354.8 552.3 1343.8 555.7z" fill="#fff" fill-opacity="0.05"/>
<path d="M1284.9 537.6 1305.1 531.3 1315.7 536.8 1295.4 543.1zM1327.1 542.3 1332.8 540.6 1343.7 546.4 1338 548.1zM1321.1 553.3 1332.8 549.7 1343.8 555.7 1332.1 559.2z" fill="#4a2f08" fill-opacity="0.03"/>
<path d="M1269.1 542.7 1284.9 537.6 1295.4 543.1 1279.6 548.1zM1308.2 539.1 1322 534.9 1332.8 540.6 1319 544.8zM1293.3 562 1309.4 556.9 1320.4 562.9 1304.3 567.9z" fill="#4a2f08" fill-opacity="0.06"/>
<path d="M1269.1 542.7L1279.6 548.1M1284.9 537.6L1295.4 543.1M1305.1 531.3L1315.7 536.8M1279.6 548.1L1290.2 553.7M1300.1 541.6L1310.8 547.3M1308.2 539.1L1319 544.8M1263.5 553.3L1322 534.9M1300.9 550.4L1311.7 556.2M1327.1 542.3L1338 548.1M1274.1 558.9L1332.8 540.6M1293.3 562L1304.3 567.9M1309.4 556.9L1320.4 562.9M1321.1 553.3L1332.1 559.2M1332.8 549.7L1343.8 555.7M1284.9 564.7L1343.7 546.4" fill="none" stroke="#4f390f" stroke-width="0.8" stroke-opacity="0.19"/>
<polyline points="1253.1,547.8 1311.4,529.4" fill="none" stroke="#1c1c1c" stroke-width="2.2" stroke-linecap="round" stroke-linejoin="round"/>
<polygon points="1279.2,546.5 1324.4,532.4 1351.9,546.9 1306.3,560.9" fill="#908163"/>
<polygon points="1306.3,560.9 1279.2,546.5 1279.2,546.5 1324.4,532.4 1324,555.4" fill="#9e8d6b"/>
<polygon points="1324,555.4 1324.4,532.4 1351.9,546.9 1351.9,546.9" fill="#d4bc8e"/>
<polyline points="1324.4,532.4 1324,555.4" fill="none" stroke="#7c6e56" stroke-width="1" stroke-linecap="butt" stroke-linejoin="round"/>
<polyline points="1279.2,546.5 1306.3,560.9 1351.9,546.9" fill="none" stroke="#1c1c1c" stroke-width="2" stroke-linecap="round" stroke-linejoin="round"/>
<polyline points="1319.9,533.8 1319.4,556.8" fill="none" stroke="#1c1c1c" stroke-width="1.8" stroke-linecap="butt" stroke-linejoin="round"/>
<polyline points="1354.8,552.3 1347.3,548.3" fill="none" stroke="#1c1c1c" stroke-width="1.7" stroke-linecap="round" stroke-linejoin="round"/>
<polyline points="1319.9,533.8 1311.4,529.4" fill="none" stroke="#1c1c1c" stroke-width="1.7" stroke-linecap="round" stroke-linejoin="round"/>
<polygon points="1294.9,625.2 1353.3,605.7 1354.8,552.3 1295.8,570.6" fill="#9b8966"/>
<path d="M1321.7 610.8 1333.4 607 1333.5 601.6 1321.8 605.4zM1349.5 601.7 1353.5 600.4 1353.6 595.1 1349.6 596.4zM1323.1 599.7 1338.8 594.6 1339 589.2 1323.2 594.3zM1295.7 581.6 1304.1 578.9 1304.2 573.4 1295.8 576.1zM1333.1 569.7 1353.4 563.4 1353.5 558.1 1333.2 564.3zM1322.6 567.6 1338.4 562.7 1338.6 557.3 1322.7 562.1zM1350.1 559.1 1354.7 557.7 1354.8 552.3 1350.2 553.7z" fill="#fff" fill-opacity="0.08"/>
<path d="M1295 619.8 1321.7 610.8 1321.8 605.4 1295.1 614.3zM1338.8 594.6 1353.8 589.8 1353.9 584.5 1339 589.2zM1323.3 588.9 1343.7 582.4 1343.9 577 1323.4 583.5zM1307.6 583.2 1315.9 580.5 1316 575.1 1307.7 577.7zM1295.8 576.1 1322.6 567.6 1322.7 562.1 1295.8 570.6z" fill="#fff" fill-opacity="0.15"/>
<path d="M1353.4 563.4 1354.5 563.1 1354.7 557.7 1353.5 558.1z" fill="#4a2f08" fill-opacity="0.05"/>
<path d="M1294.9 625.2 1321.6 616.2 1321.7 610.8 1295 619.8zM1321.6 616.2 1329.7 613.5 1329.9 608.1 1321.7 610.8zM1322 594.7 1333.7 590.9 1333.9 585.5 1322.2 589.2zM1295.5 592.5 1307.5 588.6 1307.6 583.2 1295.6 587zM1295.6 587 1307.6 583.2 1307.7 577.7 1295.7 581.6zM1304.1 578.9 1312.4 576.2 1312.5 570.7 1304.2 573.4z" fill="#4a2f08" fill-opacity="0.11"/>
<path d="M1321.6 616.2L1321.7 610.8M1329.7 613.5L1329.9 608.1M1349.9 606.8L1350.1 601.5M1321.7 610.8L1321.8 605.4M1333.4 607L1333.5 601.6M1341.4 604.3L1341.6 599M1349.5 601.7L1349.6 596.4M1295 619.8L1353.5 600.4M1303.5 611.5L1303.6 606.1M1311.8 608.8L1311.9 603.3M1327.7 603.5L1327.8 598.1M1339.3 599.7L1339.4 594.4M1295.1 614.3L1353.6 595.1M1311.3 603.5L1311.4 598.1M1323.1 599.7L1323.2 594.3M1338.8 594.6L1339 589.2M1295.2 608.9L1353.8 589.8M1322 594.7L1322.2 589.2M1333.7 590.9L1333.9 585.5M1295.3 603.4L1353.9 584.5M1307.4 594L1307.5 588.6M1323.3 588.9L1323.4 583.5M1343.7 582.4L1343.9 577M1295.4 598L1354.1 579.1M1307.5 588.6L1307.6 583.2M1334 580.1L1334.1 574.7M1345.6 576.5L1345.7 571.1M1295.5 592.5L1354.2 573.8M1307.6 583.2L1307.7 577.7M1315.9 580.5L1316 575.1M1324.1 577.9L1324.3 572.5M1332.4 575.3L1332.5 569.9M1295.6 587L1354.4 568.4M1304.1 578.9L1304.2 573.4M1312.4 576.2L1312.5 570.7M1333.1 569.7L1333.2 564.3M1353.4 563.4L1353.5 558.1M1295.7 581.6L1354.5 563.1M1322.6 567.6L1322.7 562.1M1338.4 562.7L1338.6 557.3M1350.1 559.1L1350.2 553.7M1295.8 576.1L1354.7 557.7" fill="none" stroke="#4f390f" stroke-width="0.8" stroke-opacity="0.32"/>
<polygon points="1295.8,570.6 1354.8,552.3 1354.7,555 1295.8,573.4" fill="#dbc190" fill-opacity="0.92"/>
<polygon points="1295.8,573.4 1354.7,555 1354.7,557.2 1295.8,575.5" fill="#dbc190" fill-opacity="0.60"/>
<polygon points="1295.8,575.5 1354.7,557.2 1354.6,559.9 1295.7,578.3" fill="#dbc190" fill-opacity="0.30"/>
<polygon points="1295.7,578.3 1354.6,559.9 1354.5,564.1 1295.7,582.7" fill="#dbc190" fill-opacity="0.12"/>
<polyline points="1295.8,570.6 1294.9,625.2 1353.3,605.7 1354.8,552.3" fill="none" stroke="#1c1c1c" stroke-width="2.2" stroke-linecap="round" stroke-linejoin="round"/>
<polyline points="1883,188.2 1853.7,380.9" fill="none" stroke="#42474a" stroke-width="6.2" stroke-linecap="butt" stroke-linejoin="round"/>
<polyline points="1883,188.2 1853.7,380.9" fill="none" stroke="#8f979b" stroke-width="4.2" stroke-linecap="butt" stroke-linejoin="round"/>
<polyline points="1883,188.2 1853.7,380.9" fill="none" stroke="#bfc5c9" stroke-width="1.8" stroke-linecap="butt" stroke-linejoin="round"/>
<ellipse cx="1883" cy="188.2" rx="2.6" ry="1.6" fill="#8f979b" stroke="#42474a" stroke-width="1" transform="rotate(8.6 1883 188.2)"/>
<polyline points="1911,190.8 1883.4,367" fill="none" stroke="#42474a" stroke-width="6.2" stroke-linecap="butt" stroke-linejoin="round"/>
<polyline points="1911,190.8 1883.4,367" fill="none" stroke="#8f979b" stroke-width="4.2" stroke-linecap="butt" stroke-linejoin="round"/>
<polyline points="1911,190.8 1883.4,367" fill="none" stroke="#bfc5c9" stroke-width="1.8" stroke-linecap="butt" stroke-linejoin="round"/>
<ellipse cx="1911" cy="190.8" rx="2.6" ry="1.6" fill="#8f979b" stroke="#42474a" stroke-width="1" transform="rotate(8.9 1911 190.8)"/>
<polyline points="1900.2,206.6 1873,380.9" fill="none" stroke="#42474a" stroke-width="6.2" stroke-linecap="butt" stroke-linejoin="round"/>
<polyline points="1900.2,206.6 1873,380.9" fill="none" stroke="#8f979b" stroke-width="4.2" stroke-linecap="butt" stroke-linejoin="round"/>
<polyline points="1900.2,206.6 1873,380.9" fill="none" stroke="#bfc5c9" stroke-width="1.8" stroke-linecap="butt" stroke-linejoin="round"/>
<ellipse cx="1900.2" cy="206.6" rx="2.6" ry="1.6" fill="#8f979b" stroke="#42474a" stroke-width="1" transform="rotate(8.9 1900.2 206.6)"/>
<polyline points="1930.3,205.6 1902.8,372" fill="none" stroke="#42474a" stroke-width="6.2" stroke-linecap="butt" stroke-linejoin="round"/>
<polyline points="1930.3,205.6 1902.8,372" fill="none" stroke="#8f979b" stroke-width="4.2" stroke-linecap="butt" stroke-linejoin="round"/>
<polyline points="1930.3,205.6 1902.8,372" fill="none" stroke="#bfc5c9" stroke-width="1.8" stroke-linecap="butt" stroke-linejoin="round"/>
<ellipse cx="1930.3" cy="205.6" rx="2.6" ry="1.6" fill="#8f979b" stroke="#42474a" stroke-width="1" transform="rotate(9.4 1930.3 205.6)"/>
<polyline points="2242.3,108.8 2197.7,304.9" fill="none" stroke="#676d71" stroke-width="5.6" stroke-linecap="butt" stroke-linejoin="round"/>
<polyline points="2242.3,108.8 2197.7,304.9" fill="none" stroke="#9ea5a9" stroke-width="3.6" stroke-linecap="butt" stroke-linejoin="round"/>
<polyline points="2242.3,108.8 2197.7,304.9" fill="none" stroke="#c9cfd2" stroke-width="1.5" stroke-linecap="butt" stroke-linejoin="round"/>
<ellipse cx="2242.3" cy="108.8" rx="2.3" ry="1.4" fill="#9ea5a9" stroke="#676d71" stroke-width="1" transform="rotate(12.8 2242.3 108.8)"/>
<polyline points="2260.7,112.8 2216.5,304.9" fill="none" stroke="#676d71" stroke-width="5.6" stroke-linecap="butt" stroke-linejoin="round"/>
<polyline points="2260.7,112.8 2216.5,304.9" fill="none" stroke="#9ea5a9" stroke-width="3.6" stroke-linecap="butt" stroke-linejoin="round"/>
<polyline points="2260.7,112.8 2216.5,304.9" fill="none" stroke="#c9cfd2" stroke-width="1.5" stroke-linecap="butt" stroke-linejoin="round"/>
<ellipse cx="2260.7" cy="112.8" rx="2.3" ry="1.4" fill="#9ea5a9" stroke="#676d71" stroke-width="1" transform="rotate(13 2260.7 112.8)"/>
<polyline points="2277.9,123.7 2236.3,298.9" fill="none" stroke="#676d71" stroke-width="5.6" stroke-linecap="butt" stroke-linejoin="round"/>
<polyline points="2277.9,123.7 2236.3,298.9" fill="none" stroke="#9ea5a9" stroke-width="3.6" stroke-linecap="butt" stroke-linejoin="round"/>
<polyline points="2277.9,123.7 2236.3,298.9" fill="none" stroke="#c9cfd2" stroke-width="1.5" stroke-linecap="butt" stroke-linejoin="round"/>
<ellipse cx="2277.9" cy="123.7" rx="2.3" ry="1.4" fill="#9ea5a9" stroke="#676d71" stroke-width="1" transform="rotate(13.4 2277.9 123.7)"/>
<polygon points="1104,678.9 1199,744 1199,688.3 1102.2,625.7" fill="#d4bb8b"/>
<path d="M1119.8 689.8 1130.4 697.1 1130.3 692.3 1119.7 685zM1141.1 704.5 1146.7 708.3 1146.6 703.4 1141 699.6zM1176.1 718.6 1190.8 728.5 1190.8 723.5 1176 713.6zM1121 676.3 1128.9 681.7 1128.8 676.8 1120.9 671.5zM1196.8 727.6 1199 729 1199 724 1196.8 722.5zM1120.8 666.6 1138.7 678.6 1138.6 673.7 1120.7 661.7zM1102.7 640.3 1108.2 643.9 1108 639 1102.6 635.4zM1173.8 687.1 1192.9 699.7 1192.9 694.6 1173.8 682.1zM1116.3 644.4 1121.9 648 1121.8 643.1 1116.2 639.5zM1121.9 648 1127.5 651.6 1127.4 646.7 1121.8 643.1zM1170 679.6 1175.9 683.4 1175.8 678.4 1170 674.5zM1190.3 692.9 1199 698.6 1199 693.5 1190.3 687.8zM1102.4 630.6 1107.9 634.1 1107.7 629.2 1102.2 625.7z" fill="#fff" fill-opacity="0.09"/>
<path d="M1104 678.9 1114.4 686.1 1114.3 681.2 1103.8 674.1zM1130.4 697.1 1141.1 704.5 1141 699.6 1130.3 692.3zM1157.6 715.8 1165.8 721.4 1165.7 716.5 1157.6 710.9zM1165.8 721.4 1171.6 725.4 1171.5 720.4 1165.7 716.5zM1177.4 729.3 1196.4 742.2 1196.4 737.3 1177.4 724.4zM1135.1 695.5 1153.1 707.9 1153 702.9 1135 690.6zM1197.7 738.1 1199 739 1199 734 1197.7 733.1zM1163.1 695 1174.3 702.5 1174.3 697.5 1163.1 690zM1193.4 715.2 1199 718.9 1199 713.9 1193.4 710.1zM1102.9 645.1 1108.4 648.7 1108.2 643.9 1102.7 640.3zM1108.4 648.7 1119 655.7 1118.8 650.8 1108.2 643.9zM1126.9 661 1132.5 664.7 1132.4 659.8 1126.8 656.1zM1196.8 707.4 1199 708.8 1199 703.7 1196.8 702.3zM1155.1 674.8 1173.8 687.1 1173.8 682.1 1155.1 669.8zM1102.6 635.4 1116.3 644.4 1116.2 639.5 1102.4 630.6zM1184.4 689 1190.3 692.9 1190.3 687.8 1184.3 683.9zM1124.2 644.6 1132.2 649.8 1132.1 644.9 1124 639.7zM1140.3 655.1 1154.6 664.5 1154.5 659.4 1140.2 650.1zM1154.6 664.5 1173.3 676.7 1173.3 671.6 1154.5 659.4z" fill="#fff" fill-opacity="0.17"/>
<path d="M1114.4 686.1 1119.8 689.8 1119.7 685 1114.3 681.2zM1146.7 708.3 1157.6 715.8 1157.6 710.9 1146.6 703.4zM1153.1 707.9 1167.4 717.6 1167.4 712.7 1153 702.9zM1103.7 669.3 1114.1 676.4 1114 671.5 1103.5 664.5zM1171.9 710.8 1190.8 723.5 1190.8 718.5 1171.8 705.8zM1111.1 664.9 1116.6 668.5 1116.5 663.7 1111 660zM1110.9 655.1 1116.3 658.8 1116.2 653.9 1110.7 650.3zM1154.8 684.5 1163.1 690 1163 685 1154.8 679.5zM1174.7 697.7 1186.1 705.3 1186.1 700.3 1174.7 692.7zM1186.1 705.3 1197.7 713 1197.7 707.9 1186.1 700.3zM1197.7 713 1199 713.9 1199 708.8 1197.7 707.9zM1132.5 664.7 1140.5 670 1140.4 665.1 1132.4 659.8zM1171.7 690.8 1177.6 694.7 1177.6 689.6 1171.7 685.7zM1177.6 694.7 1196.8 707.4 1196.8 702.3 1177.6 689.6zM1108.2 643.9 1126 655.5 1125.9 650.6 1108 639zM1126 655.5 1136.8 662.7 1136.7 657.7 1125.9 650.6zM1164.2 675.7 1170 679.6 1170 674.5 1164.1 670.7zM1132.2 649.8 1140.3 655.1 1140.2 650.1 1132.1 644.9zM1181.8 682.2 1196.8 692 1196.8 686.9 1181.8 677.1z" fill="#4a2f08" fill-opacity="0.06"/>
<path d="M1171.6 725.4 1177.4 729.3 1177.4 724.4 1171.5 720.4zM1167.4 717.6 1178.6 725.2 1178.6 720.3 1167.4 712.7zM1178.6 725.2 1197.7 738.1 1197.7 733.1 1178.6 720.3zM1125.1 683.9 1135.8 691.2 1135.7 686.3 1125 679zM1190.8 728.5 1199 734 1199 729 1190.8 723.5zM1128.9 681.7 1136.9 687.1 1136.8 682.2 1128.8 676.8zM1136.9 687.1 1147.7 694.4 1147.6 689.5 1136.8 682.2zM1147.7 694.4 1166.1 706.9 1166 701.9 1147.6 689.5zM1190.8 723.5 1196.8 727.6 1196.8 722.5 1190.8 718.5zM1116.6 668.5 1130.4 677.9 1130.3 673 1116.5 663.7zM1130.4 677.9 1148.4 690.1 1148.4 685.1 1130.3 673zM1166.9 702.5 1172.7 706.4 1172.6 701.4 1166.8 697.5zM1174.3 702.5 1193.4 715.2 1193.4 710.1 1174.3 697.5zM1160.5 683.3 1171.7 690.8 1171.7 685.7 1160.5 678.3zM1127.5 651.6 1141.6 660.9 1141.5 655.9 1127.4 646.7zM1118.6 641 1124.2 644.6 1124 639.7 1118.4 636.1zM1196.8 692 1199 693.5 1199 688.3 1196.8 686.9z" fill="#4a2f08" fill-opacity="0.12"/>
<path d="M1114.4 686.1L1114.3 681.2M1119.8 689.8L1119.7 685M1130.4 697.1L1130.3 692.3M1141.1 704.5L1141 699.6M1146.7 708.3L1146.6 703.4M1157.6 715.8L1157.6 710.9M1165.8 721.4L1165.7 716.5M1171.6 725.4L1171.5 720.4M1177.4 729.3L1177.4 724.4M1196.4 742.2L1196.4 737.3M1121.3 686L1121.2 681.2M1135.1 695.5L1135 690.6M1153.1 707.9L1153 702.9M1167.4 717.6L1167.4 712.7M1178.6 725.2L1178.6 720.3M1197.7 738.1L1197.7 733.1M1103.8 674.1L1199 739M1114.1 676.4L1114 671.5M1119.6 680.1L1119.5 675.3M1125.1 683.9L1125 679M1135.8 691.2L1135.7 686.3M1146.6 698.5L1146.5 693.6M1164.9 711L1164.8 706M1176.1 718.6L1176 713.6M1190.8 728.5L1190.8 723.5M1103.7 669.3L1199 734M1121 676.3L1120.9 671.5M1128.9 681.7L1128.8 676.8M1136.9 687.1L1136.8 682.2M1147.7 694.4L1147.6 689.5M1166.1 706.9L1166 701.9M1171.9 710.8L1171.8 705.8M1190.8 723.5L1190.8 718.5M1196.8 727.6L1196.8 722.5M1103.5 664.5L1199 729M1111.1 664.9L1111 660M1116.6 668.5L1116.5 663.7M1130.4 677.9L1130.3 673M1148.4 690.1L1148.4 685.1M1166.9 702.5L1166.8 697.5M1172.7 706.4L1172.6 701.4M1181.1 712L1181 707M1189.5 717.7L1189.5 712.6M1103.4 659.6L1199 724M1120.8 666.6L1120.7 661.7M1138.7 678.6L1138.6 673.7M1146.8 684L1146.7 679M1154.9 689.5L1154.8 684.5M1163.1 695L1163.1 690M1174.3 702.5L1174.3 697.5M1193.4 715.2L1193.4 710.1M1103.2 654.8L1199 718.9M1110.9 655.1L1110.7 650.3M1116.3 658.8L1116.2 653.9M1124.2 664.1L1124.1 659.1M1129.8 667.8L1129.7 662.8M1143.8 677.2L1143.8 672.2M1154.8 684.5L1154.8 679.5M1163.1 690L1163 685M1168.9 693.9L1168.8 688.8M1174.7 697.7L1174.7 692.7M1186.1 705.3L1186.1 700.3M1197.7 713L1197.7 707.9M1103.1 650L1199 713.9M1108.4 648.7L1108.2 643.9M1119 655.7L1118.8 650.8M1126.9 661L1126.8 656.1M1132.5 664.7L1132.4 659.8M1140.5 670L1140.4 665.1M1146.2 673.8L1146.1 668.8M1160.5 683.3L1160.5 678.3M1171.7 690.8L1171.7 685.7M1177.6 694.7L1177.6 689.6M1196.8 707.4L1196.8 702.3M1102.9 645.1L1199 708.8M1108.2 643.9L1108 639M1126 655.5L1125.9 650.6M1136.8 662.7L1136.7 657.7M1155.1 674.8L1155.1 669.8M1173.8 687.1L1173.8 682.1M1192.9 699.7L1192.9 694.6M1102.7 640.3L1199 703.7M1116.3 644.4L1116.2 639.5M1121.9 648L1121.8 643.1M1127.5 651.6L1127.4 646.7M1141.6 660.9L1141.5 655.9M1155.9 670.3L1155.8 665.3M1164.2 675.7L1164.1 670.7M1170 679.6L1170 674.5M1175.9 683.4L1175.8 678.4M1184.4 689L1184.3 683.9M1190.3 692.9L1190.3 687.8M1102.6 635.4L1199 698.6M1107.9 634.1L1107.7 629.2M1118.6 641L1118.4 636.1M1124.2 644.6L1124 639.7M1132.2 649.8L1132.1 644.9M1140.3 655.1L1140.2 650.1M1154.6 664.5L1154.5 659.4M1173.3 676.7L1173.3 671.6M1181.8 682.2L1181.8 677.1M1196.8 692L1196.8 686.9M1102.4 630.6L1199 693.5" fill="none" stroke="#4f390f" stroke-width="0.8" stroke-opacity="0.36"/>
<polygon points="1199,744 1322.4,699.4 1323.8,644.3 1199,688.3" fill="#988560"/>
<path d="M1199 744 1228.1 732.9 1228.1 727.9 1199 739zM1295.4 699.3 1322.7 689.5 1322.8 684.5 1295.5 694.3zM1221.7 720.4 1230.7 717 1230.8 712 1221.8 715.4zM1299.3 688.1 1307.8 685 1307.9 680 1299.4 683.1zM1239.2 699 1267.7 689 1267.8 683.9 1239.2 693.9zM1267.7 689 1280.3 684.7 1280.4 679.6 1267.8 683.9zM1238.6 694.2 1247.5 691 1247.6 685.9 1238.6 689.1zM1199 703.7 1208.2 700.3 1208.2 695.2 1199 698.6zM1234.1 690.7 1247 686.2 1247 681.1 1234.2 685.7zM1199 693.5 1228.4 682.7 1228.4 677.6 1199 688.3zM1228.4 682.7 1245.8 676.5 1245.8 671.4 1228.4 677.6zM1275.6 666.2 1292.5 660.4 1292.6 655.3 1275.7 661.1z" fill="#fff" fill-opacity="0.09"/>
<path d="M1245.9 726.3 1254.8 723.1 1254.8 718.2 1246 721.3zM1199 739 1212 734 1212 729 1199 734zM1238.3 724.1 1247.2 720.9 1247.3 715.9 1238.4 719.2zM1247.2 720.9 1264.2 714.9 1264.3 709.9 1247.3 715.9zM1239.7 713.7 1268.1 703.7 1268.2 698.7 1239.7 708.8zM1285 697.9 1306.5 690.5 1306.6 685.5 1285.1 693zM1199 724 1208.1 720.5 1208.1 715.5 1199 718.9zM1225.6 713.9 1254.4 703.5 1254.4 698.6 1225.7 708.9zM1254.4 703.5 1271.4 697.7 1271.4 692.7 1254.4 698.6zM1284.5 688.2 1306.1 680.7 1306.2 675.7 1284.6 683.2zM1280.3 684.7 1308 675 1308.1 670 1280.4 679.6zM1275.5 671.2 1297.3 663.7 1297.4 658.6 1275.6 666.2z" fill="#fff" fill-opacity="0.17"/>
<path d="M1230.7 717 1239.7 713.7 1239.7 708.8 1230.8 712zM1228.2 708 1237.2 704.7 1237.3 699.7 1228.3 702.9zM1306.1 680.7 1323 674.5 1323.1 669.5 1306.2 675.7zM1308 675 1316.5 671.9 1316.6 666.9 1308.1 670zM1229.6 697.4 1238.6 694.2 1238.6 689.1 1229.6 692.4zM1264.7 685 1292.8 675.4 1292.9 670.3 1264.7 680zM1241.3 683.1 1258.5 677.1 1258.6 672 1241.3 678.1zM1245.8 676.5 1258.6 672 1258.6 666.9 1245.8 671.4zM1320 650.6 1323.6 649.4 1323.8 644.3 1320.1 645.6z" fill="#4a2f08" fill-opacity="0.06"/>
<path d="M1228.1 732.9 1237 729.5 1237.1 724.6 1228.1 727.9zM1320.6 700 1322.4 699.4 1322.5 694.4 1320.7 695.1zM1302 701.9 1310.5 698.8 1310.6 693.9 1302.1 696.9zM1318.9 695.8 1322.5 694.4 1322.7 689.5 1319.1 690.8zM1199 729 1221.7 720.4 1221.8 715.4 1199 724zM1208.1 720.5 1225.6 713.9 1225.7 708.9 1208.1 715.5zM1316.3 682 1322.9 679.5 1323 674.5 1316.4 677zM1216.6 707.3 1239.2 699 1239.2 693.9 1216.6 702.2zM1316.5 671.9 1323.1 669.5 1323.3 664.5 1316.6 666.9zM1199 708.8 1212.1 703.9 1212.1 698.8 1199 703.7zM1317.8 666.5 1323.3 664.5 1323.4 659.5 1318 661.4zM1221.2 695.5 1234.1 690.7 1234.2 685.7 1221.2 690.4zM1297.3 663.7 1318.7 656.1 1318.8 651.1 1297.4 658.6zM1318.7 656.1 1323.5 654.4 1323.6 649.4 1318.8 651.1zM1292.5 660.4 1320 650.6 1320.1 645.6 1292.6 655.3z" fill="#4a2f08" fill-opacity="0.12"/>
<path d="M1228.1 732.9L1228.1 727.9M1237 729.5L1237.1 724.6M1245.9 726.3L1246 721.3M1254.8 723.1L1254.8 718.2M1271.7 717.2L1271.7 712.3M1293.3 709.8L1293.4 704.9M1320.6 700L1320.7 695.1M1212 734L1212 729M1229.4 727.4L1229.4 722.5M1238.3 724.1L1238.4 719.2M1247.2 720.9L1247.3 715.9M1264.2 714.9L1264.3 709.9M1273 711.9L1273.1 706.9M1285.4 707.6L1285.5 702.7M1302 701.9L1302.1 696.9M1310.5 698.8L1310.6 693.9M1318.9 695.8L1319.1 690.8M1199 739L1322.5 694.4M1228.1 723L1228.2 718M1256.8 712.6L1256.8 707.6M1273.7 706.7L1273.8 701.8M1295.4 699.3L1295.5 694.3M1199 734L1322.7 689.5M1221.7 720.4L1221.8 715.4M1230.7 717L1230.8 712M1239.7 713.7L1239.7 708.8M1268.1 703.7L1268.2 698.7M1285 697.9L1285.1 693M1306.5 690.5L1306.6 685.5M1199 729L1322.8 684.5M1208.1 720.5L1208.1 715.5M1225.6 713.9L1225.7 708.9M1254.4 703.5L1254.4 698.6M1271.4 697.7L1271.4 692.7M1299.3 688.1L1299.4 683.1M1307.8 685L1307.9 680M1316.3 682L1316.4 677M1199 724L1322.9 679.5M1228.2 708L1228.3 702.9M1237.2 704.7L1237.3 699.7M1250 700.1L1250 695.1M1262.6 695.7L1262.7 690.7M1284.5 688.2L1284.6 683.2M1306.1 680.7L1306.2 675.7M1199 718.9L1323 674.5M1216.6 707.3L1216.6 702.2M1239.2 699L1239.2 693.9M1267.7 689L1267.8 683.9M1280.3 684.7L1280.4 679.6M1308 675L1308.1 670M1316.5 671.9L1316.6 666.9M1199 713.9L1323.1 669.5M1212.1 703.9L1212.1 698.8M1229.6 697.4L1229.6 692.4M1238.6 694.2L1238.6 689.1M1247.5 691L1247.6 685.9M1264.7 685L1264.7 680M1292.8 675.4L1292.9 670.3M1309.4 669.5L1309.5 664.5M1317.8 666.5L1318 661.4M1199 708.8L1323.3 664.5M1208.2 700.3L1208.2 695.2M1221.2 695.5L1221.2 690.4M1234.1 690.7L1234.2 685.7M1247 686.2L1247 681.1M1264.1 680.2L1264.2 675.1M1281.1 674.4L1281.2 669.3M1297.8 668.6L1297.9 663.5M1199 703.7L1323.4 659.5M1212.1 693.7L1212.1 688.6M1241.3 683.1L1241.3 678.1M1258.5 677.1L1258.6 672M1275.5 671.2L1275.6 666.2M1297.3 663.7L1297.4 658.6M1318.7 656.1L1318.8 651.1M1199 698.6L1323.5 654.4M1228.4 682.7L1228.4 677.6M1245.8 676.5L1245.8 671.4M1258.6 672L1258.6 666.9M1275.6 666.2L1275.7 661.1M1292.5 660.4L1292.6 655.3M1320 650.6L1320.1 645.6M1199 693.5L1323.6 649.4" fill="none" stroke="#4f390f" stroke-width="0.8" stroke-opacity="0.36"/>
<polygon points="1199,744 1203.6,742.2 1203.6,686.6 1199,688.3" fill="#d4bb8b" fill-opacity="0.75"/>
<polygon points="1203.6,742.2 1209.4,740 1209.5,684.5 1203.6,686.6" fill="#d4bb8b" fill-opacity="0.45"/>
<polygon points="1209.4,740 1217.2,737 1217.4,681.6 1209.5,684.5" fill="#d4bb8b" fill-opacity="0.25"/>
<polygon points="1217.2,737 1228.1,732.9 1228.4,677.6 1217.4,681.6" fill="#d4bb8b" fill-opacity="0.10"/>
<polyline points="1102.2,625.7 1104,678.9 1199,744 1322.4,699.4 1323.8,644.3" fill="none" stroke="#141414" stroke-width="2.3" stroke-linecap="round" stroke-linejoin="round"/>
<polyline points="1242.4,727.5 1243,672.4" fill="none" stroke="#141414" stroke-width="2.3" stroke-linecap="round" stroke-linejoin="round"/>
<polygon points="1102.2,625.7 1199,688.3 1199,630.9 1100.5,572" fill="#d4bb8b"/>
<path d="M1141.4 650.9 1159.9 662.9 1159.8 657.9 1141.3 645.9zM1148.7 650.7 1163.2 660 1163.1 654.9 1148.6 645.6zM1163.2 660 1171.6 665.4 1171.5 660.3 1163.1 654.9zM1121 628 1126.6 631.6 1126.5 626.6 1120.8 623.1zM1144.8 638.2 1153.1 643.5 1153 638.4 1144.7 633.2zM1101.4 601.4 1112.1 608 1112 603.1 1101.3 596.5zM1101.3 596.5 1112 603.1 1111.8 598.1 1101.1 591.6zM1188.5 645.4 1199 652 1199 646.7 1188.5 640.2zM1129.9 604.2 1135.7 607.7 1135.5 602.7 1129.8 599.2zM1135.7 607.7 1141.4 611.2 1141.3 606.2 1135.5 602.7zM1188.1 639.9 1199 646.7 1199 641.4 1188 634.7zM1136.8 603.4 1155.5 614.8 1155.5 609.7 1136.7 598.4zM1125.6 591.8 1140 600.4 1139.9 595.3 1125.4 586.8zM1194.1 633.2 1199 636.2 1199 630.9 1194.1 627.9z" fill="#fff" fill-opacity="0.09"/>
<path d="M1187.3 680.7 1199 688.3 1199 683.2 1187.3 675.6zM1177.5 669.3 1186 674.8 1186 669.6 1177.5 664.1zM1186 674.8 1199 683.2 1199 678 1186 669.6zM1101.9 616 1107.4 619.5 1107.3 614.6 1101.7 611.1zM1151.5 647.5 1170.3 659.5 1170.2 654.4 1151.4 642.4zM1185.1 669.1 1199 678 1199 672.8 1185.1 663.9zM1115.2 619.6 1133.4 631 1133.2 626 1115.1 614.6zM1191.2 667.8 1199 672.8 1199 667.6 1191.1 662.6zM1163.9 645.3 1172.3 650.6 1172.3 645.5 1163.8 640.2zM1120.1 612.9 1138.5 624.3 1138.3 619.3 1120 608zM1168 637.7 1173.9 641.4 1173.9 636.3 1167.9 632.6zM1130.4 609.5 1144.9 618.3 1144.8 613.2 1130.3 604.5zM1167 621.7 1172.9 625.4 1172.9 620.2 1166.9 616.6zM1187.6 634.4 1196.3 639.8 1196.3 634.6 1187.6 629.2z" fill="#fff" fill-opacity="0.17"/>
<path d="M1159.9 662.9 1168.2 668.3 1168.2 663.3 1159.8 657.9zM1168.2 668.3 1187.3 680.7 1187.3 675.6 1168.2 663.3zM1102.1 620.9 1110 625.9 1109.8 621 1101.9 616zM1110 625.9 1120.7 632.7 1120.6 627.8 1109.8 621zM1107.4 619.5 1113 623 1112.8 618.1 1107.3 614.6zM1113 623 1121 628 1120.8 623.1 1112.8 618.1zM1170.3 659.5 1185.1 669.1 1185.1 663.9 1170.2 654.4zM1101.7 611.1 1107.3 614.6 1107.1 609.7 1101.6 606.3zM1101.6 606.3 1119.5 617.4 1119.3 612.4 1101.4 601.4zM1187.3 660.1 1199 667.6 1199 662.4 1187.2 655zM1182.1 651.7 1197.2 661.3 1197.2 656.1 1182 646.5zM1112 603.1 1122.8 609.7 1122.7 604.8 1111.8 598.1zM1144.9 618.3 1150.7 621.9 1150.6 616.8 1144.8 613.2zM1176.9 638.1 1188.5 645.4 1188.5 640.2 1176.8 632.9zM1160.2 622.7 1168.7 627.9 1168.7 622.8 1160.2 617.6zM1100.8 581.8 1114.7 590.2 1114.6 585.2 1100.6 576.9zM1178.9 629.1 1187.6 634.4 1187.6 629.2 1178.9 623.9z" fill="#4a2f08" fill-opacity="0.06"/>
<path d="M1171.6 665.4 1177.5 669.3 1177.5 664.1 1171.5 660.3zM1132.3 635.2 1143.3 642.2 1143.2 637.2 1132.1 630.2zM1153.1 643.5 1171.9 655.5 1171.9 650.4 1153 638.4zM1119.5 617.4 1127.6 622.4 1127.4 617.4 1119.3 612.4zM1149.7 636.3 1158 641.6 1157.9 636.5 1149.6 631.2zM1158 641.6 1163.9 645.3 1163.8 640.2 1157.9 636.5zM1172.3 650.6 1187.3 660.1 1187.2 655 1172.3 645.5zM1144.2 627.9 1163 639.6 1162.9 634.5 1144.1 622.8zM1122.8 609.7 1133.8 616.5 1133.7 611.5 1122.7 604.8zM1173.9 641.4 1185.5 648.7 1185.5 643.5 1173.9 636.3zM1194.2 654.2 1199 657.2 1199 652 1194.2 648.9zM1124.7 606 1130.4 609.5 1130.3 604.5 1124.6 601zM1118.9 597.6 1129.9 604.2 1129.8 599.2 1118.8 592.6zM1141.4 611.2 1160.2 622.7 1160.2 617.6 1141.3 606.2zM1168.7 627.9 1188.1 639.9 1188 634.7 1168.7 622.8zM1172.9 625.4 1178.9 629.1 1178.9 623.9 1172.9 620.2zM1196.3 639.8 1199 641.4 1199 636.2 1196.3 634.6zM1151.3 607.1 1159.7 612.2 1159.6 607.1 1151.2 602zM1174.6 621.3 1194.1 633.2 1194.1 627.9 1174.6 616.1z" fill="#4a2f08" fill-opacity="0.12"/>
<path d="M1116 634.6L1115.9 629.6M1130.1 643.6L1129.9 638.6M1135.7 647.2L1135.6 642.2M1141.4 650.9L1141.3 645.9M1159.9 662.9L1159.8 657.9M1168.2 668.3L1168.2 663.3M1187.3 680.7L1187.3 675.6M1110 625.9L1109.8 621M1120.7 632.7L1120.6 627.8M1134.8 641.7L1134.7 636.7M1142.9 647L1142.9 641.9M1148.7 650.7L1148.6 645.6M1163.2 660L1163.1 654.9M1171.6 665.4L1171.5 660.3M1177.5 669.3L1177.5 664.1M1186 674.8L1186 669.6M1102.1 620.9L1199 683.2M1107.4 619.5L1107.3 614.6M1113 623L1112.8 618.1M1121 628L1120.8 623.1M1126.6 631.6L1126.5 626.6M1132.3 635.2L1132.1 630.2M1143.3 642.2L1143.2 637.2M1151.5 647.5L1151.4 642.4M1170.3 659.5L1170.2 654.4M1185.1 669.1L1185.1 663.9M1101.9 616L1199 678M1107.3 614.6L1107.1 609.7M1115.2 619.6L1115.1 614.6M1133.4 631L1133.2 626M1139.1 634.6L1139 629.6M1144.8 638.2L1144.7 633.2M1153.1 643.5L1153 638.4M1171.9 655.5L1171.9 650.4M1191.2 667.8L1191.1 662.6M1101.7 611.1L1199 672.8M1119.5 617.4L1119.3 612.4M1127.6 622.4L1127.4 617.4M1138.6 629.3L1138.5 624.3M1149.7 636.3L1149.6 631.2M1158 641.6L1157.9 636.5M1163.9 645.3L1163.8 640.2M1172.3 650.6L1172.3 645.5M1187.3 660.1L1187.2 655M1101.6 606.3L1199 667.6M1112.1 608L1112 603.1M1120.1 612.9L1120 608M1138.5 624.3L1138.3 619.3M1144.2 627.9L1144.1 622.8M1163 639.6L1162.9 634.5M1182.1 651.7L1182 646.5M1197.2 661.3L1197.2 656.1M1101.4 601.4L1199 662.4M1112 603.1L1111.8 598.1M1122.8 609.7L1122.7 604.8M1133.8 616.5L1133.7 611.5M1145 623.3L1144.9 618.3M1153.3 628.5L1153.2 623.4M1168 637.7L1167.9 632.6M1173.9 641.4L1173.9 636.3M1185.5 648.7L1185.5 643.5M1194.2 654.2L1194.2 648.9M1101.3 596.5L1199 657.2M1106.6 595L1106.5 590.1M1124.7 606L1124.6 601M1130.4 609.5L1130.3 604.5M1144.9 618.3L1144.8 613.2M1150.7 621.9L1150.6 616.8M1165.4 631L1165.3 625.8M1176.9 638.1L1176.8 632.9M1188.5 645.4L1188.5 640.2M1101.1 591.6L1199 652M1118.9 597.6L1118.8 592.6M1129.9 604.2L1129.8 599.2M1135.7 607.7L1135.5 602.7M1141.4 611.2L1141.3 606.2M1160.2 622.7L1160.2 617.6M1168.7 627.9L1168.7 622.8M1188.1 639.9L1188 634.7M1100.9 586.7L1199 646.7M1114.7 590.2L1114.6 585.2M1125.7 596.8L1125.6 591.8M1136.8 603.4L1136.7 598.4M1155.5 614.8L1155.5 609.7M1167 621.7L1166.9 616.6M1172.9 625.4L1172.9 620.2M1178.9 629.1L1178.9 623.9M1187.6 634.4L1187.6 629.2M1196.3 639.8L1196.3 634.6M1100.8 581.8L1199 641.4M1111.4 583.3L1111.2 578.4M1125.6 591.8L1125.4 586.8M1140 600.4L1139.9 595.3M1151.3 607.1L1151.2 602M1159.7 612.2L1159.6 607.1M1174.6 621.3L1174.6 616.1M1194.1 633.2L1194.1 627.9M1100.6 576.9L1199 636.2" fill="none" stroke="#4f390f" stroke-width="0.8" stroke-opacity="0.36"/>
<polygon points="1199,688.3 1323.8,644.3 1325,588.5 1199,630.9" fill="#988560"/>
<path d="M1225.2 678.8 1242.6 672.5 1242.7 667.4 1225.2 673.6zM1208.2 679.8 1231.1 671.5 1231.1 666.4 1208.2 674.6zM1231.1 671.5 1244 667 1244 661.8 1231.1 666.4zM1222 669.7 1239.5 663.4 1239.6 658.3 1222 664.5zM1239.5 663.4 1261.9 655.6 1262 650.5 1239.6 658.3zM1244.1 651.6 1261.4 645.6 1261.5 640.4 1244.2 646.4zM1272.3 636.7 1284.9 632.4 1285 627.2 1272.4 631.5zM1199 657.2 1228.7 646.7 1228.7 641.5 1199 652zM1264.1 634.3 1273 631.3 1273.1 626.1 1264.2 629.2zM1212.3 647.3 1230 641 1230 635.8 1212.3 642zM1283.2 622.7 1300 617 1300.1 611.9 1283.3 617.5zM1321.5 609.8 1324.6 608.8 1324.7 603.7 1321.6 604.7zM1313.1 607.5 1324.7 603.7 1324.8 598.6 1313.2 602.4zM1266.3 618.2 1294.6 608.6 1294.7 603.4 1266.3 613zM1251.6 618 1274 610.4 1274 605.2 1251.6 612.8z" fill="#fff" fill-opacity="0.09"/>
<path d="M1257.6 652 1279.7 644.4 1279.8 639.2 1257.6 646.9zM1313.8 632.7 1324.1 629.1 1324.2 624 1313.9 627.6zM1199 652 1212.3 647.3 1212.3 642 1199 646.7zM1230 641 1243 636.5 1243.1 631.3 1230 635.8zM1243 636.5 1252 633.4 1252.1 628.2 1243.1 631.3zM1296.4 613.1 1313.1 607.5 1313.2 602.4 1296.5 608zM1226.2 632 1243.8 625.9 1243.8 620.7 1226.2 626.7zM1294.6 608.6 1311.3 603 1311.4 597.9 1294.7 603.4z" fill="#fff" fill-opacity="0.17"/>
<path d="M1283.8 658.3 1311.6 648.6 1311.7 643.5 1283.9 653.2zM1289.6 651.2 1301.9 646.9 1302 641.8 1289.6 646.1zM1284.9 632.4 1312.8 622.9 1312.9 617.8 1285 627.2zM1273 631.3 1285.6 627 1285.7 621.8 1273.1 626.1zM1311 618.4 1324.4 613.9 1324.6 608.8 1311.1 613.3zM1252 633.4 1274.4 625.7 1274.4 620.5 1252.1 628.2zM1300 617 1321.5 609.8 1321.6 604.7 1300.1 611.9zM1226.1 637.2 1255.3 627.1 1255.4 621.9 1226.2 632zM1274 610.4 1286.6 606.1 1286.7 601 1274 605.2zM1286.6 606.1 1314.5 596.9 1314.6 591.8 1286.7 601z" fill="#4a2f08" fill-opacity="0.06"/>
<path d="M1242.6 672.5 1255.4 668 1255.5 662.9 1242.7 667.4zM1255.4 668 1283.8 658.3 1283.9 653.2 1255.5 662.9zM1199 683.2 1208.2 679.8 1208.2 674.6 1199 678zM1199 678 1222 669.7 1222 664.5 1199 672.8zM1261.9 655.6 1274.6 651.3 1274.7 646.1 1262 650.5zM1274.6 651.3 1302.6 641.6 1302.7 636.5 1274.7 646.1zM1302.6 641.6 1324 634.2 1324.1 629.1 1302.7 636.5zM1199 662.4 1208.3 659.1 1208.3 653.9 1199 657.2zM1302.4 621.3 1311 618.4 1311.1 613.3 1302.5 616.2zM1314.5 596.9 1324.9 593.6 1325 588.5 1314.6 591.8z" fill="#4a2f08" fill-opacity="0.12"/>
<path d="M1212.1 683.5L1212.2 678.4M1225.2 678.8L1225.2 673.6M1242.6 672.5L1242.7 667.4M1255.4 668L1255.5 662.9M1283.8 658.3L1283.9 653.2M1311.6 648.6L1311.7 643.5M1208.2 679.8L1208.2 674.6M1231.1 671.5L1231.1 666.4M1244 667L1244 661.8M1261.2 661L1261.3 655.8M1289.6 651.2L1289.6 646.1M1301.9 646.9L1302 641.8M1199 683.2L1323.9 639.2M1222 669.7L1222 664.5M1239.5 663.4L1239.6 658.3M1261.9 655.6L1262 650.5M1274.6 651.3L1274.7 646.1M1302.6 641.6L1302.7 636.5M1199 678L1324 634.2M1212.2 668L1212.2 662.9M1235 659.9L1235.1 654.7M1257.6 652L1257.6 646.9M1279.7 644.4L1279.8 639.2M1301.5 636.9L1301.6 631.8M1313.8 632.7L1313.9 627.6M1199 672.8L1324.1 629.1M1212.2 662.9L1212.2 657.7M1221.4 659.6L1221.4 654.4M1244.1 651.6L1244.2 646.4M1261.4 645.6L1261.5 640.4M1278.6 639.7L1278.6 634.5M1306.5 630.1L1306.6 625M1199 667.6L1324.2 624M1208.3 659.1L1208.3 653.9M1226 652.8L1226.1 647.6M1255.1 642.6L1255.2 637.4M1272.3 636.7L1272.4 631.5M1284.9 632.4L1285 627.2M1312.8 622.9L1312.9 617.8M1199 662.4L1324.3 619M1228.7 646.7L1228.7 641.5M1251.3 638.8L1251.4 633.6M1264.1 634.3L1264.2 629.2M1273 631.3L1273.1 626.1M1285.6 627L1285.7 621.8M1302.4 621.3L1302.5 616.2M1311 618.4L1311.1 613.3M1199 657.2L1324.4 613.9M1212.3 647.3L1212.3 642M1230 641L1230 635.8M1243 636.5L1243.1 631.3M1252 633.4L1252.1 628.2M1274.4 625.7L1274.4 620.5M1283.2 622.7L1283.3 617.5M1300 617L1300.1 611.9M1321.5 609.8L1321.6 604.7M1199 652L1324.6 608.8M1216.9 640.4L1216.9 635.2M1226.1 637.2L1226.2 632M1255.3 627.1L1255.4 621.9M1283.9 617.3L1284 612.2M1296.4 613.1L1296.5 608M1313.1 607.5L1313.2 602.4M1199 646.7L1324.7 603.7M1216.9 635.2L1217 629.9M1226.2 632L1226.2 626.7M1243.8 625.9L1243.8 620.7M1266.3 618.2L1266.3 613M1294.6 608.6L1294.7 603.4M1311.3 603L1311.4 597.9M1199 641.4L1324.8 598.6M1222.2 628.1L1222.3 622.9M1251.6 618L1251.6 612.8M1274 610.4L1274 605.2M1286.6 606.1L1286.7 601M1314.5 596.9L1314.6 591.8M1199 636.2L1324.9 593.6" fill="none" stroke="#4f390f" stroke-width="0.8" stroke-opacity="0.36"/>
<polygon points="1199,688.3 1203.6,686.6 1203.7,629.3 1199,630.9" fill="#d4bb8b" fill-opacity="0.75"/>
<polygon points="1203.6,686.6 1209.5,684.5 1209.7,627.2 1203.7,629.3" fill="#d4bb8b" fill-opacity="0.45"/>
<polygon points="1209.5,684.5 1217.4,681.6 1217.6,624.5 1209.7,627.2" fill="#d4bb8b" fill-opacity="0.25"/>
<polygon points="1217.4,681.6 1228.4,677.6 1228.8,620.6 1217.6,624.5" fill="#d4bb8b" fill-opacity="0.10"/>
<polyline points="1100.5,572 1102.2,625.7 1199,688.3 1323.8,644.3 1325,588.5" fill="none" stroke="#141414" stroke-width="2.3" stroke-linecap="round" stroke-linejoin="round"/>
<polyline points="1276.3,660.9 1277.2,604.1" fill="none" stroke="#141414" stroke-width="2.3" stroke-linecap="round" stroke-linejoin="round"/>
<polygon points="1100.5,572 1199,630.9 1198.8,572.5 1099.1,517.2" fill="#d4bb8b"/>
<path d="M1182.8 621 1188.9 624.7 1188.9 619.5 1182.7 615.8zM1188.9 624.7 1199 630.9 1199 625.6 1188.9 619.5zM1100.4 567.1 1108.3 571.8 1108.2 566.8 1100.2 562.2zM1142.7 592 1151.1 596.9 1151 591.8 1142.6 586.9zM1145 583.3 1159.8 591.9 1159.7 586.7 1144.9 578.2zM1171.4 598.7 1186.6 607.7 1186.6 602.4 1171.3 593.5zM1130.7 570 1149.5 580.8 1149.4 575.7 1130.6 565zM1195.8 607.9 1199 609.7 1198.9 604.4 1195.8 602.6zM1099.8 547.3 1113.8 555.4 1113.7 550.3 1099.7 542.3zM1144.3 567.7 1150.2 571.1 1150.1 565.9 1144.2 562.6zM1178.6 582.1 1187.4 587.1 1187.3 581.8 1178.5 576.8zM1130.2 549.7 1136.1 553 1136 547.9 1130.1 544.7zM1141.9 556.3 1156.8 564.6 1156.7 559.5 1141.8 551.2zM1148.2 554.7 1156.7 559.5 1156.7 554.3 1148.1 549.5zM1191.7 579.1 1198.9 583.1 1198.9 577.8 1191.7 573.8zM1113.2 530.2 1121.4 534.7 1121.3 529.6 1113.1 525.1zM1192.6 574.3 1198.9 577.8 1198.8 572.5 1192.6 568.9z" fill="#fff" fill-opacity="0.09"/>
<path d="M1131.2 590.2 1149.9 601.3 1149.8 596.2 1131.1 585.1zM1176.7 617.4 1182.8 621 1182.7 615.8 1176.7 612.2zM1108 561.9 1126.3 572.4 1126.2 567.4 1107.9 556.9zM1126.3 572.4 1145 583.3 1144.9 578.2 1126.2 567.4zM1164.4 589.5 1176.1 596.3 1176.1 591 1164.4 584.3zM1132.2 565.9 1138.1 569.2 1138 564.2 1132.1 560.8zM1182.6 594.9 1198.9 604.4 1198.9 599.1 1182.6 589.6zM1099.7 542.3 1107.6 546.9 1107.5 541.9 1099.6 537.3zM1164.7 579.4 1170.8 582.8 1170.7 577.6 1164.7 574.2zM1187.4 587.1 1196.2 592.2 1196.2 586.9 1187.3 581.8zM1161 556.6 1180.6 567.6 1180.6 562.3 1160.9 551.4z" fill="#fff" fill-opacity="0.17"/>
<path d="M1100.5 572 1106.1 575.3 1105.9 570.4 1100.4 567.1zM1149.9 601.3 1155.8 604.8 1155.7 599.7 1149.8 596.2zM1155.8 604.8 1161.7 608.3 1161.7 603.2 1155.7 599.7zM1122.4 580.1 1128.2 583.4 1128.1 578.4 1122.3 575.1zM1151.1 596.9 1157 600.4 1156.9 595.3 1151 591.8zM1176.2 611.9 1182.3 615.6 1182.3 610.3 1176.2 606.7zM1100.1 557.2 1108 561.9 1107.9 556.9 1099.9 552.2zM1138.1 569.2 1152.8 577.7 1152.7 572.5 1138 564.2zM1133 561.3 1144.3 567.7 1144.2 562.6 1132.8 556.2zM1099.3 527.3 1113.3 535.2 1113.2 530.2 1099.2 522.2z" fill="#4a2f08" fill-opacity="0.06"/>
<path d="M1106.1 575.3 1116.9 581.7 1116.8 576.7 1105.9 570.4zM1108.3 571.8 1122.4 580.1 1122.3 575.1 1108.2 566.8zM1128.2 583.4 1142.7 592 1142.6 586.9 1128.1 578.4zM1182.3 615.6 1194.1 622.7 1194.1 617.4 1182.3 610.3zM1157.3 595.5 1176.6 607 1176.6 601.7 1157.3 590.4zM1196.3 618.7 1199 620.3 1199 615 1196.3 613.4zM1124.9 566.7 1130.7 570 1130.6 565 1124.8 561.7zM1149.5 580.8 1164.4 589.5 1164.4 584.3 1149.4 575.7zM1152.8 577.7 1167.8 586.3 1167.7 581.1 1152.7 572.5zM1167.8 586.3 1176.5 591.3 1176.4 586.1 1167.7 581.1zM1176.9 586.3 1188.7 593.2 1188.7 587.9 1176.8 581.1zM1099.6 537.3 1117.6 547.6 1117.5 542.6 1099.5 532.3zM1113.4 540.3 1124.5 546.5 1124.3 541.4 1113.3 535.2zM1136.1 553 1141.9 556.3 1141.8 551.2 1136 547.9zM1133.5 546.5 1148.2 554.7 1148.1 549.5 1133.4 541.4z" fill="#4a2f08" fill-opacity="0.12"/>
<path d="M1106.1 575.3L1105.9 570.4M1116.9 581.7L1116.8 576.7M1131.2 590.2L1131.1 585.1M1149.9 601.3L1149.8 596.2M1155.8 604.8L1155.7 599.7M1161.7 608.3L1161.7 603.2M1176.7 617.4L1176.7 612.2M1182.8 621L1182.7 615.8M1188.9 624.7L1188.9 619.5M1108.3 571.8L1108.2 566.8M1122.4 580.1L1122.3 575.1M1128.2 583.4L1128.1 578.4M1142.7 592L1142.6 586.9M1151.1 596.9L1151 591.8M1157 600.4L1156.9 595.3M1176.2 611.9L1176.2 606.7M1182.3 615.6L1182.3 610.3M1194.1 622.7L1194.1 617.4M1100.4 567.1L1199 625.6M1114.2 570.3L1114.1 565.4M1132.6 581.1L1132.5 576M1151.4 592.1L1151.3 586.9M1157.3 595.5L1157.3 590.4M1176.6 607L1176.6 601.7M1196.3 618.7L1196.3 613.4M1100.2 562.2L1199 620.3M1108 561.9L1107.9 556.9M1126.3 572.4L1126.2 567.4M1145 583.3L1144.9 578.2M1159.8 591.9L1159.7 586.7M1171.4 598.7L1171.3 593.5M1186.6 607.7L1186.6 602.4M1195.4 612.9L1195.4 607.6M1100.1 557.2L1199 615M1110.7 558.5L1110.6 553.5M1124.9 566.7L1124.8 561.7M1130.7 570L1130.6 565M1149.5 580.8L1149.4 575.7M1164.4 589.5L1164.4 584.3M1176.1 596.3L1176.1 591M1195.8 607.9L1195.8 602.6M1099.9 552.2L1199 609.7M1113.8 555.4L1113.7 550.3M1132.2 565.9L1132.1 560.8M1138.1 569.2L1138 564.2M1152.8 577.7L1152.7 572.5M1167.8 586.3L1167.7 581.1M1176.5 591.3L1176.4 586.1M1182.6 594.9L1182.6 589.6M1099.8 547.3L1198.9 604.4M1107.6 546.9L1107.5 541.9M1121.8 555L1121.7 549.9M1133 561.3L1132.8 556.2M1144.3 567.7L1144.2 562.6M1150.2 571.1L1150.1 565.9M1158.7 575.9L1158.6 570.8M1164.7 579.4L1164.7 574.2M1170.8 582.8L1170.7 577.6M1176.9 586.3L1176.8 581.1M1188.7 593.2L1188.7 587.9M1099.7 542.3L1198.9 599.1M1117.6 547.6L1117.5 542.6M1128.7 553.9L1128.6 548.8M1147.5 564.5L1147.4 559.4M1166.8 575.4L1166.7 570.2M1178.6 582.1L1178.5 576.8M1187.4 587.1L1187.3 581.8M1196.2 592.2L1196.2 586.9M1099.6 537.3L1198.9 593.8M1113.4 540.3L1113.3 535.2M1124.5 546.5L1124.3 541.4M1130.2 549.7L1130.1 544.7M1136.1 553L1136 547.9M1141.9 556.3L1141.8 551.2M1156.8 564.6L1156.7 559.5M1176.3 575.6L1176.3 570.3M1191.8 584.4L1191.7 579.1M1099.5 532.3L1198.9 588.5M1113.3 535.2L1113.2 530.2M1119 538.4L1118.9 533.3M1133.5 546.5L1133.4 541.4M1148.2 554.7L1148.1 549.5M1156.7 559.5L1156.7 554.3M1171.9 567.9L1171.8 562.7M1191.7 579.1L1191.7 573.8M1099.3 527.3L1198.9 583.1M1113.2 530.2L1113.1 525.1M1121.4 534.7L1121.3 529.6M1135.9 542.8L1135.8 537.7M1154.9 553.3L1154.9 548.1M1161 556.6L1160.9 551.4M1180.6 567.6L1180.6 562.3M1192.6 574.3L1192.6 568.9M1099.2 522.2L1198.9 577.8" fill="none" stroke="#4f390f" stroke-width="0.8" stroke-opacity="0.36"/>
<polygon points="1199,630.9 1325,588.5 1326.2,532.1 1198.8,572.5" fill="#988560"/>
<path d="M1228.9 615.4 1238 612.2 1238.1 607 1228.9 610.1zM1199 620.3 1217 614.2 1217 608.9 1199 615zM1246.6 604.1 1264 598.2 1264 593 1246.6 598.9zM1240.1 595.9 1269.2 586.1 1269.3 580.9 1240.2 590.6zM1307.8 563.4 1324.4 558.2 1324.5 553 1307.9 558.2zM1198.9 593.8 1222.4 586 1222.4 580.7 1198.9 588.5zM1264.9 572 1277.7 567.8 1277.7 562.6 1264.9 566.8zM1299.8 560.8 1321.5 554 1321.6 548.8 1299.8 555.6zM1321.5 554 1325.8 552.7 1325.9 547.5 1321.6 548.8zM1198.9 588.5 1229.1 578.6 1229.1 573.3 1198.9 583.1zM1291.1 558.4 1319.1 549.6 1319.2 544.4 1291.1 553.2z" fill="#fff" fill-opacity="0.09"/>
<path d="M1221.7 607.3 1239.4 601.3 1239.5 596.1 1221.7 602.1zM1198.9 599.1 1208.4 596 1208.4 590.7 1198.9 593.8zM1208.4 596 1221.7 591.5 1221.8 586.2 1208.4 590.7zM1222.4 586 1235.6 581.7 1235.7 576.4 1222.4 580.7zM1308.1 547.9 1326 542.4 1326.1 537.2 1308.2 542.7zM1226.5 568.9 1244.3 563.1 1244.3 557.9 1226.5 563.6zM1244.3 563.1 1253.4 560.1 1253.5 554.9 1244.3 557.9z" fill="#fff" fill-opacity="0.17"/>
<path d="M1199 630.9 1208.3 627.7 1208.4 622.4 1199 625.6zM1278.5 603.7 1300.4 596.4 1300.5 591.3 1278.5 598.5zM1199 625.6 1228.9 615.4 1228.9 610.1 1199 620.3zM1320.8 584.7 1325.1 583.4 1325.2 578.3 1320.9 579.6zM1217 614.2 1246.6 604.1 1246.6 598.9 1217 608.9zM1303.7 585.1 1325.2 578.3 1325.3 573.2 1303.8 580zM1199 615 1208.4 611.8 1208.4 606.6 1199 609.7zM1271.1 590.7 1288.2 585.1 1288.2 579.9 1271.1 585.5zM1316.1 576.1 1325.3 573.2 1325.4 568 1316.2 570.9zM1199 609.7 1222.4 601.8 1222.4 596.6 1198.9 604.4zM1286.3 580.5 1295.1 577.6 1295.2 572.5 1286.4 575.3zM1252 571 1261.1 568.1 1261.1 562.8 1252.1 565.8zM1217.1 577.2 1235 571.4 1235.1 566.1 1217.1 571.9zM1235 571.4 1257.9 563.9 1258 558.7 1235.1 566.1zM1279.2 551.8 1301.3 544.8 1301.4 539.6 1279.2 546.6z" fill="#4a2f08" fill-opacity="0.06"/>
<path d="M1255.6 606.3 1277.9 598.7 1278 593.6 1255.6 601.1zM1286.7 595.8 1299.2 591.7 1299.3 586.6 1286.8 590.6zM1264 598.2 1272.9 595.2 1273 590.1 1264 593zM1295 588 1303.7 585.1 1303.8 580 1295 582.8zM1208.4 611.8 1221.7 607.3 1221.7 602.1 1208.4 606.6zM1239.4 601.3 1248.5 598.2 1248.6 593 1239.5 596.1zM1221.7 596.8 1251.2 586.9 1251.3 581.7 1221.7 591.5zM1235.6 581.7 1264.9 572 1264.9 566.8 1235.7 576.4zM1319.1 549.6 1325.9 547.5 1326 542.4 1319.2 544.4zM1279.7 556.8 1308.1 547.9 1308.2 542.7 1279.8 551.6zM1266.3 555.9 1279.2 551.8 1279.2 546.6 1266.4 550.7z" fill="#4a2f08" fill-opacity="0.12"/>
<path d="M1208.3 627.7L1208.4 622.4M1217.6 624.5L1217.7 619.2M1247.1 614.3L1247.2 609.1M1269.6 606.7L1269.6 601.5M1278.5 603.7L1278.5 598.5M1300.4 596.4L1300.5 591.3M1309.1 593.6L1309.2 588.5M1228.9 615.4L1228.9 610.1M1238 612.2L1238.1 607M1255.6 606.3L1255.6 601.1M1277.9 598.7L1278 593.6M1286.7 595.8L1286.8 590.6M1299.2 591.7L1299.3 586.6M1320.8 584.7L1320.9 579.6M1199 625.6L1325.1 583.4M1217 614.2L1217 608.9M1246.6 604.1L1246.6 598.9M1264 598.2L1264 593M1272.9 595.2L1273 590.1M1295 588L1295 582.8M1303.7 585.1L1303.8 580M1199 620.3L1325.2 578.3M1208.4 611.8L1208.4 606.6M1221.7 607.3L1221.7 602.1M1239.4 601.3L1239.5 596.1M1248.5 598.2L1248.6 593M1271.1 590.7L1271.1 585.5M1288.2 585.1L1288.2 579.9M1316.1 576.1L1316.2 570.9M1199 615L1325.3 573.2M1222.4 601.8L1222.4 596.6M1240.1 595.9L1240.2 590.6M1269.2 586.1L1269.3 580.9M1286.3 580.5L1286.4 575.3M1295.1 577.6L1295.2 572.5M1307.6 573.7L1307.7 568.5M1199 609.7L1325.4 568M1212.4 599.9L1212.4 594.6M1221.7 596.8L1221.7 591.5M1251.2 586.9L1251.3 581.7M1273.7 579.5L1273.8 574.3M1302.1 570.3L1302.2 565.1M1310.8 567.5L1310.9 562.4M1198.9 604.4L1325.5 562.9M1208.4 596L1208.4 590.7M1221.7 591.5L1221.8 586.2M1244.8 583.9L1244.8 578.6M1262.3 578.1L1262.3 572.8M1290.9 568.7L1291 563.5M1307.8 563.4L1307.9 558.2M1324.4 558.2L1324.5 553M1198.9 599.1L1325.7 557.8M1222.4 586L1222.4 580.7M1235.6 581.7L1235.7 576.4M1264.9 572L1264.9 566.8M1277.7 567.8L1277.7 562.6M1299.8 560.8L1299.8 555.6M1321.5 554L1321.6 548.8M1198.9 593.8L1325.8 552.7M1229.1 578.6L1229.1 573.3M1252 571L1252.1 565.8M1261.1 568.1L1261.1 562.8M1273.9 563.9L1274 558.7M1291.1 558.4L1291.1 553.2M1319.1 549.6L1319.2 544.4M1198.9 588.5L1325.9 547.5M1217.1 577.2L1217.1 571.9M1235 571.4L1235.1 566.1M1257.9 563.9L1258 558.7M1270.8 559.7L1270.8 554.5M1279.7 556.8L1279.8 551.6M1308.1 547.9L1308.2 542.7M1198.9 583.1L1326 542.4M1208.4 574.7L1208.4 569.4M1226.5 568.9L1226.5 563.6M1244.3 563.1L1244.3 557.9M1253.4 560.1L1253.5 554.9M1266.3 555.9L1266.4 550.7M1279.2 551.8L1279.2 546.6M1301.3 544.8L1301.4 539.6M1198.9 577.8L1326.1 537.2" fill="none" stroke="#4f390f" stroke-width="0.8" stroke-opacity="0.36"/>
<polygon points="1199,630.9 1203.7,629.3 1203.6,570.9 1198.8,572.5" fill="#d4bb8b" fill-opacity="0.75"/>
<polygon points="1203.7,629.3 1209.7,627.2 1209.7,569 1203.6,570.9" fill="#d4bb8b" fill-opacity="0.45"/>
<polygon points="1209.7,627.2 1217.6,624.5 1217.8,566.4 1209.7,569" fill="#d4bb8b" fill-opacity="0.25"/>
<polygon points="1217.6,624.5 1228.8,620.6 1229.1,562.8 1217.8,566.4" fill="#d4bb8b" fill-opacity="0.10"/>
<polyline points="1099.1,517.2 1100.5,572 1199,630.9 1325,588.5 1326.2,532.1" fill="none" stroke="#141414" stroke-width="2.3" stroke-linecap="round" stroke-linejoin="round"/>
<polyline points="1243,615.7 1243.5,558.1" fill="none" stroke="#141414" stroke-width="2.3" stroke-linecap="round" stroke-linejoin="round"/>
<polygon points="1099.1,517.2 1198.8,572.5 1326.2,532.1 1224.4,482.3" fill="#dabf8c"/>
<path d="M1156.7 501.1 1185.1 493.2 1195.8 498.6 1167.3 506.6zM1132.1 516.6 1145.3 512.9 1156 518.6 1142.8 522.4zM1188.9 500.6 1205.8 495.8 1216.6 501.3 1199.7 506.1zM1227.3 489.8 1235.1 487.5 1246 492.7 1238.1 495.1zM1211.6 502.7 1228.3 497.9 1239.3 503.3 1222.6 508.3zM1214.1 519.6 1226.7 515.9 1237.9 521.5 1225.3 525.3zM1263.2 504.7 1268.1 503.2 1279.4 508.6 1274.5 510.1zM1153 547.1 1162.4 544.2 1173.7 550.4 1164.2 553.3zM1162.4 544.2 1175.8 540.2 1187.1 546.3 1173.7 550.4zM1193.6 534.8 1222.7 526.1 1234.1 531.9 1204.9 540.8zM1214.1 538 1227 534.1 1238.5 540 1225.5 544.1zM1193.8 553.9 1223.6 544.7 1235.2 550.8 1205.4 560.2zM1265.2 531.6 1293.2 522.7 1305 528.7 1276.9 537.5z" fill="#fff" fill-opacity="0.05"/>
<path d="M1185.1 493.2 1197.6 489.7 1208.3 495.1 1195.8 498.6zM1197.6 489.7 1209.9 486.3 1220.6 491.7 1208.3 495.1zM1205.8 495.8 1227.3 489.8 1238.1 495.1 1216.6 501.3zM1120.1 529 1150.1 520.3 1160.9 526.1 1130.9 535zM1180.6 511.5 1189.6 509 1200.5 514.6 1191.5 517.2zM1179.9 520.6 1197.3 515.6 1208.4 521.3 1191 526.4zM1165.3 534 1178.5 530.1 1189.7 536 1176.5 540zM1249.3 527.2 1261.8 523.3 1273.4 529 1260.8 533z" fill="#fff" fill-opacity="0.10"/>
<path d="M1099.1 517.2 1117 512.2 1127.5 518 1109.5 523zM1150.1 520.3 1163.2 516.5 1174.1 522.3 1160.9 526.1zM1163.2 516.5 1180.6 511.5 1191.5 517.2 1174.1 522.3zM1228.3 497.9 1246 492.7 1257 497.9 1239.3 503.3zM1206.2 513 1223.2 508.1 1234.3 513.6 1217.3 518.7zM1226.7 515.9 1235.5 513.2 1246.7 518.8 1237.9 521.5zM1222.7 526.1 1239.8 520.9 1251.2 526.6 1234.1 531.9zM1201 542 1214.1 538 1225.5 544.1 1212.4 548.1zM1175.6 559.5 1193.8 553.9 1205.4 560.2 1187.2 565.9zM1224 554.3 1246.9 547.1 1258.7 553.2 1235.8 560.6z" fill="#4a2f08" fill-opacity="0.04"/>
<path d="M1117 512.2 1130.1 508.5 1140.7 514.2 1127.5 518zM1130.1 508.5 1139.2 505.9 1149.8 511.6 1140.7 514.2zM1209.9 486.3 1222 482.9 1232.7 488.2 1220.6 491.7zM1109.5 523 1122.9 519.3 1133.5 525.1 1120.1 529zM1170.8 523.3 1179.9 520.6 1191 526.4 1181.8 529.1zM1197.3 515.6 1206.2 513 1217.3 518.7 1208.4 521.3zM1223.2 508.1 1231.9 505.5 1243 511 1234.3 513.6zM1239.8 520.9 1261.6 514.2 1273 519.7 1251.2 526.6zM1227 534.1 1249.3 527.2 1260.8 533 1238.5 540zM1223.6 544.7 1252.6 535.6 1264.2 541.5 1235.2 550.8zM1252.6 535.6 1265.2 531.6 1276.9 537.5 1264.2 541.5zM1187.2 565.9 1210.8 558.5 1222.5 564.9 1198.8 572.5zM1269.3 539.9 1278.1 537.1 1290 543.2 1281.1 546z" fill="#4a2f08" fill-opacity="0.07"/>
<path d="M1117 512.2L1127.5 518M1130.1 508.5L1140.7 514.2M1139.2 505.9L1149.8 511.6M1156.7 501.1L1167.3 506.6M1185.1 493.2L1195.8 498.6M1197.6 489.7L1208.3 495.1M1209.9 486.3L1220.6 491.7M1222 482.9L1232.7 488.2M1122.9 519.3L1133.5 525.1M1132.1 516.6L1142.8 522.4M1145.3 512.9L1156 518.6M1162.8 507.9L1173.5 513.6M1171.8 505.4L1182.5 511M1188.9 500.6L1199.7 506.1M1205.8 495.8L1216.6 501.3M1227.3 489.8L1238.1 495.1M1109.5 523L1235.1 487.5M1150.1 520.3L1160.9 526.1M1163.2 516.5L1174.1 522.3M1180.6 511.5L1191.5 517.2M1189.6 509L1200.5 514.6M1211.6 502.7L1222.6 508.3M1228.3 497.9L1239.3 503.3M1120.1 529L1246 492.7M1144.3 531L1155.3 537M1157.6 527.1L1168.6 533M1170.8 523.3L1181.8 529.1M1179.9 520.6L1191 526.4M1197.3 515.6L1208.4 521.3M1206.2 513L1217.3 518.7M1223.2 508.1L1234.3 513.6M1231.9 505.5L1243 511M1240.5 502.9L1251.6 508.3M1130.9 535L1257 497.9M1165.3 534L1176.5 540M1178.5 530.1L1189.7 536M1201.3 523.4L1212.5 529.2M1214.1 519.6L1225.3 525.3M1226.7 515.9L1237.9 521.5M1235.5 513.2L1246.7 518.8M1263.2 504.7L1274.5 510.1M1141.8 541L1268.1 503.2M1162.4 544.2L1173.7 550.4M1175.8 540.2L1187.1 546.3M1193.6 534.8L1204.9 540.8M1222.7 526.1L1234.1 531.9M1239.8 520.9L1251.2 526.6M1261.6 514.2L1273 519.7M1270.2 511.5L1281.6 517M1153 547.1L1279.4 508.6M1187.8 546L1199.2 552.2M1201 542L1212.4 548.1M1214.1 538L1225.5 544.1M1227 534.1L1238.5 540M1249.3 527.2L1260.8 533M1261.8 523.3L1273.4 529M1283.5 516.4L1295.1 522.2M1164.2 553.3L1290.8 514.1M1193.8 553.9L1205.4 560.2M1223.6 544.7L1235.2 550.8M1252.6 535.6L1264.2 541.5M1265.2 531.6L1276.9 537.5M1293.2 522.7L1305 528.7M1175.6 559.5L1302.4 519.9M1210.8 558.5L1222.5 564.9M1224 554.3L1235.8 560.6M1246.9 547.1L1258.7 553.2M1269.3 539.9L1281.1 546M1278.1 537.1L1290 543.2M1300 530.2L1312 536.4M1187.2 565.9L1314.2 525.9" fill="none" stroke="#4f390f" stroke-width="0.8" stroke-opacity="0.22"/>
<polyline points="1099.1,517.2 1224.4,482.3 1326.2,532.1" fill="none" stroke="#141414" stroke-width="2.3" stroke-linecap="round" stroke-linejoin="round"/>
<polygon points="1198.8,572.5 1326.2,532.1 1326.2,534.9 1198.9,575.4" fill="#dabf8c" fill-opacity="0.92"/>
<polygon points="1198.9,575.4 1326.2,534.9 1326.1,537.2 1198.9,577.7" fill="#dabf8c" fill-opacity="0.60"/>
<polygon points="1198.9,577.7 1326.1,537.2 1326,540 1198.9,580.7" fill="#dabf8c" fill-opacity="0.30"/>
<polygon points="1198.9,580.7 1326,540 1325.9,544.5 1198.9,585.4" fill="#dabf8c" fill-opacity="0.12"/>
<polyline points="1099.1,517.2 1100.5,572" fill="none" stroke="#141414" stroke-width="2.3" stroke-linecap="round" stroke-linejoin="round"/>
<polyline points="1326.2,532.1 1325,588.5" fill="none" stroke="#141414" stroke-width="2.3" stroke-linecap="round" stroke-linejoin="round"/>
<polyline points="1243.5,558.1 1243,615.7" fill="none" stroke="#141414" stroke-width="2.3" stroke-linecap="round" stroke-linejoin="round"/>
<polygon points="1185.2,503.2 1218.9,493.7 1244.9,506.5 1211.1,516.5" fill="#8c7c5d"/>
<polygon points="1211.1,516.5 1185.2,503.2 1185.2,503.2 1218.9,493.7 1218.9,514.3" fill="#9b8966"/>
<polygon points="1218.9,514.3 1218.9,493.7 1244.9,506.5 1244.9,506.5" fill="#d2b98a"/>
<polyline points="1218.9,493.7 1218.9,514.3" fill="none" stroke="#776950" stroke-width="1" stroke-linecap="butt" stroke-linejoin="round"/>
<polyline points="1185.2,503.2 1211.1,516.5 1244.9,506.5" fill="none" stroke="#141414" stroke-width="2" stroke-linecap="round" stroke-linejoin="round"/>
<polygon points="1123.4,520.1 1159.4,509.8 1186.1,523.8 1149.8,534.6" fill="#8c7c5d"/>
<polygon points="1149.8,534.6 1123.4,520.1 1123.4,520.1 1159.4,509.8 1159.7,531.6" fill="#9b8966"/>
<polygon points="1159.7,531.6 1159.4,509.8 1186.1,523.8 1186.1,523.8" fill="#d2b98a"/>
<polyline points="1159.4,509.8 1159.7,531.6" fill="none" stroke="#776950" stroke-width="1" stroke-linecap="butt" stroke-linejoin="round"/>
<polyline points="1123.4,520.1 1149.8,534.6 1186.1,523.8" fill="none" stroke="#141414" stroke-width="2" stroke-linecap="round" stroke-linejoin="round"/>
<polygon points="1234.4,525.9 1274.9,513.3 1302.9,527.1 1262.2,540" fill="#8c7c5d"/>
<polygon points="1262.2,540 1234.4,525.9 1234.4,525.9 1274.9,513.3 1274.6,536.1" fill="#9b8966"/>
<polygon points="1274.6,536.1 1274.9,513.3 1302.9,527.1 1302.9,527.1" fill="#d2b98a"/>
<polyline points="1274.9,513.3 1274.6,536.1" fill="none" stroke="#776950" stroke-width="1" stroke-linecap="butt" stroke-linejoin="round"/>
<polyline points="1234.4,525.9 1262.2,540 1302.9,527.1" fill="none" stroke="#141414" stroke-width="2" stroke-linecap="round" stroke-linejoin="round"/>
<polygon points="1172.3,545 1221.5,530.2 1249.2,544.5 1199.9,560.1" fill="#8c7c5d"/>
<polygon points="1199.9,560.1 1172.3,545 1172.3,545 1221.5,530.2 1221.4,553.3" fill="#9b8966"/>
<polygon points="1221.4,553.3 1221.5,530.2 1249.2,544.5 1249.2,544.5" fill="#d2b98a"/>
<polyline points="1221.5,530.2 1221.4,553.3" fill="none" stroke="#776950" stroke-width="1" stroke-linecap="butt" stroke-linejoin="round"/>
<polyline points="1172.3,545 1199.9,560.1 1249.2,544.5" fill="none" stroke="#141414" stroke-width="2" stroke-linecap="round" stroke-linejoin="round"/>
<polyline points="1243.5,558.1 1229.5,550.7 1249.2,544.5" fill="none" stroke="#141414" stroke-width="1.8" stroke-linecap="round" stroke-linejoin="round"/>
<polyline points="1147,503.8 1158.8,510" fill="none" stroke="#141414" stroke-width="1.8" stroke-linecap="round" stroke-linejoin="round"/>
<polyline points="1157.7,509.5 1157.7,531" fill="none" stroke="#141414" stroke-width="1.8" stroke-linecap="butt" stroke-linejoin="round"/>
<polygon points="991.1,687.1 1030.9,717 1169.5,669.2 1128.4,642.5" fill="#d9be8b"/>
<path d="M991.1 687.1 1005.5 682.6 1015.3 689.9 1000.8 694.4zM1015.5 679.5 1025.5 676.3 1035.3 683.5 1025.4 686.7zM1000.8 694.4 1011 691.2 1020.9 698.6 1010.7 701.8zM1044.5 680.5 1063.3 674.3 1073.3 681.4 1054.5 687.7zM1010.7 701.8 1036.1 693.7 1046.2 701.1 1020.7 709.4zM1036.1 693.7 1060.8 685.6 1071 692.8 1046.2 701.1z" fill="#fff" fill-opacity="0.05"/>
<path d="M1100.7 661.8 1130.7 651.7 1140.9 658.4 1110.9 668.7zM1130.7 651.7 1138.6 649.1 1148.8 655.7 1140.9 658.4zM1070.6 682.3 1089.2 676 1099.4 683.1 1080.7 689.5zM1089.2 676 1119.6 665.7 1129.9 672.6 1099.4 683.1zM1119.6 665.7 1148.8 655.7 1159.1 662.4 1129.9 672.6zM1104.9 681.2 1123.2 674.9 1133.5 681.9 1115.2 688.4z" fill="#fff" fill-opacity="0.11"/>
<path d="M1011 691.2 1030.4 685.1 1040.4 692.3 1020.9 698.6zM1060.8 685.6 1070.6 682.3 1080.7 689.5 1071 692.8z" fill="#4a2f08" fill-opacity="0.04"/>
<path d="M1035.3 673.2 1059.5 665.3 1069.5 672.2 1045.2 680.3zM1073.2 660.8 1103.4 650.8 1113.5 657.5 1083.2 667.7zM1030.4 685.1 1044.5 680.5 1054.5 687.7 1040.4 692.3zM1063.3 674.3 1077 669.7 1087.1 676.7 1073.3 681.4zM1020.7 709.4 1053.3 698.7 1063.6 706.2 1030.9 717zM1123.2 674.9 1153.2 664.5 1163.6 671.3 1133.5 681.9z" fill="#4a2f08" fill-opacity="0.08"/>
<path d="M1005.5 682.6L1015.3 689.9M1015.5 679.5L1025.4 686.7M1025.5 676.3L1035.3 683.5M1035.3 673.2L1045.2 680.3M1059.5 665.3L1069.5 672.2M1073.2 660.8L1083.2 667.7M1103.4 650.8L1113.5 657.5M1011 691.2L1020.9 698.6M1030.4 685.1L1040.4 692.3M1044.5 680.5L1054.5 687.7M1063.3 674.3L1073.3 681.4M1077 669.7L1087.1 676.7M1100.7 661.8L1110.9 668.7M1130.7 651.7L1140.9 658.4M1000.8 694.4L1138.6 649.1M1036.1 693.7L1046.2 701.1M1060.8 685.6L1071 692.8M1070.6 682.3L1080.7 689.5M1089.2 676L1099.4 683.1M1119.6 665.7L1129.9 672.6M1010.7 701.8L1148.8 655.7M1053.3 698.7L1063.6 706.2M1072.4 692.3L1082.6 699.6M1091.1 685.9L1101.4 693.2M1104.9 681.2L1115.2 688.4M1123.2 674.9L1133.5 681.9M1153.2 664.5L1163.6 671.3M1020.7 709.4L1159.1 662.4" fill="none" stroke="#4f390f" stroke-width="0.8" stroke-opacity="0.23"/>
<polyline points="991.1,687.1 1128.4,642.5" fill="none" stroke="#101010" stroke-width="2.2" stroke-linecap="round" stroke-linejoin="round"/>
<polygon points="1020.5,686.1 1075,668.3 1100.6,686.1 1045.8,704.7" fill="#bcbcbc"/>
<polyline points="1020.5,686.1 1075,668.3 1100.6,686.1" fill="none" stroke="#101010" stroke-width="1" stroke-linecap="round" stroke-linejoin="round"/>
<polyline points="1020.5,686.1 1045.8,704.7 1100.6,686.1" fill="none" stroke="#101010" stroke-width="2" stroke-linecap="round" stroke-linejoin="round"/>
<polygon points="1090,663.4 1141.7,646 1167.6,662.7 1115.7,680.9" fill="#bcbcbc"/>
<polyline points="1090,663.4 1141.7,646 1167.6,662.7" fill="none" stroke="#101010" stroke-width="1" stroke-linecap="round" stroke-linejoin="round"/>
<polyline points="1090,663.4 1115.7,680.9 1167.6,662.7" fill="none" stroke="#101010" stroke-width="2" stroke-linecap="round" stroke-linejoin="round"/>
<polyline points="1169.5,669.2 1162.4,664.5" fill="none" stroke="#101010" stroke-width="1.8" stroke-linecap="round" stroke-linejoin="round"/>
<polyline points="1136.5,647.8 1128.4,642.5" fill="none" stroke="#101010" stroke-width="1.8" stroke-linecap="round" stroke-linejoin="round"/>
<polygon points="1033.5,773.4 1169.9,724.2 1169.5,669.2 1030.9,717" fill="#96835e"/>
<path d="M1085.3 755.5 1099 750.6 1098.8 745.6 1085.1 750.5zM1033.1 763.3 1058.3 754.7 1058.1 749.7 1032.8 758.2zM1062.3 748.2 1081.3 741.6 1081.1 736.6 1062.1 743.1zM1129 724.5 1158.7 713.5 1158.7 708.5 1128.9 719.5zM1032.6 753.1 1047.1 748.2 1046.9 743.1 1032.4 748zM1114.5 714.5 1123.9 711.1 1123.8 706 1114.3 709.4zM1031.4 727.4 1051.1 720.9 1050.9 715.7 1031.2 722.2zM1051.1 720.9 1076 712.4 1075.8 707.3 1050.9 715.7zM1090 707.6 1114.1 699.2 1114 694 1089.8 702.4z" fill="#fff" fill-opacity="0.09"/>
<path d="M1125.9 740.8 1149.1 732.1 1149 727.1 1125.8 735.8zM1102.9 744.1 1133.1 733.1 1133 728.1 1102.8 739.1zM1058.3 754.7 1089.8 743.8 1089.6 738.7 1058.1 749.7zM1159.4 718.2 1169.8 714.3 1169.8 709.4 1159.4 713.3zM1047.1 748.2 1057.2 744.8 1057 739.7 1046.9 743.1zM1126.2 720.5 1139.5 715.6 1139.4 710.6 1126.1 715.4zM1162.6 707.1 1169.8 704.4 1169.7 699.4 1162.5 702.1zM1093.4 727.1 1107.1 722.3 1107 717.2 1093.3 722zM1148.7 707.2 1169.7 699.4 1169.7 694.4 1148.7 702.1zM1154 700.2 1169.7 694.4 1169.7 689.4 1153.9 695.1zM1113 709.9 1143.3 699 1143.2 693.9 1112.9 704.8zM1106 707.2 1124.4 700.7 1124.3 695.5 1105.9 702zM1147.2 692.5 1160.4 687.7 1160.4 682.6 1147.1 687.4zM1160.4 687.7 1169.6 684.3 1169.6 679.3 1160.4 682.6z" fill="#fff" fill-opacity="0.18"/>
<path d="M1033.5 773.4 1043.7 770 1043.5 764.9 1033.3 768.4zM1093.3 747.6 1102.9 744.1 1102.8 739.1 1093.2 742.5zM1169.2 719.5 1169.9 719.3 1169.8 714.3 1169.2 714.6zM1090.5 723 1114.5 714.5 1114.3 709.4 1090.3 717.9zM1082 720.8 1113 709.9 1112.9 704.8 1081.8 715.7zM1137.8 690.7 1155.8 684.3 1155.7 679.2 1137.7 685.6zM1076.5 707 1107.8 696.2 1107.6 691 1076.3 701.8z" fill="#4a2f08" fill-opacity="0.06"/>
<path d="M1032.8 758.2 1043 754.8 1042.8 749.7 1032.6 753.1zM1081.3 741.6 1105.4 733.1 1105.2 728.1 1081.1 736.6zM1105.4 733.1 1129 724.5 1128.9 719.5 1105.2 728.1zM1057.2 744.8 1071.3 740 1071.1 734.9 1057 739.7zM1102.5 729 1126.2 720.5 1126.1 715.4 1102.3 724zM1139.5 715.6 1162.6 707.1 1162.5 702.1 1139.4 710.6zM1032.4 748 1042.6 744.6 1042.3 739.5 1032.1 742.9zM1046.7 738 1071.7 729.5 1071.5 724.4 1046.5 732.9zM1031.7 732.6 1057.1 724.1 1056.8 719 1031.4 727.4zM1081.8 715.7 1106 707.2 1105.9 702 1081.6 710.5zM1151.7 680.6 1169.5 674.2 1169.5 669.2 1151.6 675.5z" fill="#4a2f08" fill-opacity="0.13"/>
<path d="M1043.7 770L1043.5 764.9M1053.7 766.5L1053.5 761.5M1085.3 755.5L1085.1 750.5M1099 750.6L1098.8 745.6M1112.5 745.7L1112.4 740.7M1125.9 740.8L1125.8 735.8M1149.1 732.1L1149 727.1M1166.7 725.4L1166.6 720.5M1047.8 763.4L1047.6 758.4M1062 758.5L1061.8 753.5M1093.3 747.6L1093.2 742.5M1102.9 744.1L1102.8 739.1M1133.1 733.1L1133 728.1M1156.2 724.4L1156.2 719.5M1169.2 719.5L1169.2 714.6M1033.3 768.4L1169.9 719.3M1058.3 754.7L1058.1 749.7M1089.8 743.8L1089.6 738.7M1120.3 732.7L1120.2 727.7M1129.7 729.3L1129.6 724.3M1159.4 718.2L1159.4 713.3M1033.1 763.3L1169.8 714.3M1043 754.8L1042.8 749.7M1062.3 748.2L1062.1 743.1M1081.3 741.6L1081.1 736.6M1105.4 733.1L1105.2 728.1M1129 724.5L1128.9 719.5M1158.7 713.5L1158.7 708.5M1032.8 758.2L1169.8 709.4M1047.1 748.2L1046.9 743.1M1057.2 744.8L1057 739.7M1071.3 740L1071.1 734.9M1102.5 729L1102.3 724M1126.2 720.5L1126.1 715.4M1139.5 715.6L1139.4 710.6M1162.6 707.1L1162.5 702.1M1032.6 753.1L1169.8 704.4M1042.6 744.6L1042.3 739.5M1062 738L1061.7 732.9M1093.4 727.1L1093.3 722M1107.1 722.3L1107 717.2M1125.4 715.7L1125.3 710.6M1148.7 707.2L1148.7 702.1M1032.4 748L1169.7 699.4M1046.7 738L1046.5 732.9M1071.7 729.5L1071.5 724.4M1090.5 723L1090.3 717.9M1114.5 714.5L1114.3 709.4M1123.9 711.1L1123.8 706M1154 700.2L1153.9 695.1M1032.1 742.9L1169.7 694.4M1057.3 729.3L1057.1 724.1M1082 720.8L1081.8 715.7M1113 709.9L1112.9 704.8M1143.3 699L1143.2 693.9M1031.9 737.7L1169.7 689.4M1057.1 724.1L1056.8 719M1081.8 715.7L1081.6 710.5M1106 707.2L1105.9 702M1124.4 700.7L1124.3 695.5M1133.8 697.3L1133.7 692.2M1147.2 692.5L1147.1 687.4M1160.4 687.7L1160.4 682.6M1031.7 732.6L1169.6 684.3M1051.1 720.9L1050.9 715.7M1076 712.4L1075.8 707.3M1090 707.6L1089.8 702.4M1114.1 699.2L1114 694M1137.8 690.7L1137.7 685.6M1155.8 684.3L1155.7 679.2M1031.4 727.4L1169.6 679.3M1041.4 718.8L1041.2 713.6M1066.6 710.4L1066.4 705.2M1076.5 707L1076.3 701.8M1107.8 696.2L1107.6 691M1121.5 691.4L1121.3 686.2M1151.7 680.6L1151.6 675.5M1031.2 722.2L1169.5 674.2" fill="none" stroke="#4f390f" stroke-width="0.8" stroke-opacity="0.38"/>
<polygon points="1030.9,717 1169.5,669.2 1169.5,672 1031.1,719.9" fill="#d9be8b" fill-opacity="0.92"/>
<polygon points="1031.1,719.9 1169.5,672 1169.5,674.2 1031.2,722.1" fill="#d9be8b" fill-opacity="0.60"/>
<polygon points="1031.2,722.1 1169.5,674.2 1169.6,677 1031.3,725" fill="#d9be8b" fill-opacity="0.30"/>
<polygon points="1031.3,725 1169.6,677 1169.6,681.4 1031.5,729.6" fill="#d9be8b" fill-opacity="0.12"/>
<polyline points="1030.9,717 1033.5,773.4 1169.9,724.2 1169.5,669.2" fill="none" stroke="#101010" stroke-width="2.2" stroke-linecap="round" stroke-linejoin="round"/>
<polygon points="840.9,735 877.5,767.5 1030.9,717 991.1,687.1" fill="#d8bc88"/>
<path d="M840.9 735 875.9 723.6 884.9 731.3 849.9 743zM998.9 705.5 1009.2 702.3 1019.3 709.8 1008.9 713.1zM926.4 739.5 947 732.7 956.7 740.7 935.9 747.5z" fill="#fff" fill-opacity="0.06"/>
<path d="M911.3 712 937.4 703.7 946.7 711.2 920.5 719.6zM937.4 703.7 963.3 695.7 972.8 703.1 946.7 711.2zM877.2 733.9 892.6 728.8 901.7 736.6 886.4 741.8zM926.5 717.7 946.7 711.2 956.3 718.9 935.9 725.4zM992.8 696.9 1000.8 694.4 1010.7 701.8 1002.6 704.4z" fill="#fff" fill-opacity="0.12"/>
<path d="M858.9 751 886.4 741.8 895.6 749.8 868.1 759.2zM988.5 708.8 998.9 705.5 1008.9 713.1 998.5 716.4zM947 732.7 957.6 729.3 967.4 737.3 956.7 740.7z" fill="#4a2f08" fill-opacity="0.04"/>
<path d="M875.9 723.6 891.1 718.6 900.2 726.3 884.9 731.3zM891.1 718.6 911.3 712 920.5 719.6 900.2 726.3zM983.1 689.5 991.1 687.1 1000.8 694.4 992.8 696.9zM946.7 711.2 972.8 703.1 982.5 710.6 956.3 718.9zM886.4 741.8 913.2 732.8 922.6 740.7 895.6 749.8zM947.2 721.8 973.6 713.4 983.4 721.2 956.8 729.6zM957.6 729.3 984.2 720.9 994.2 728.7 967.4 737.3zM1017.8 710.3 1020.7 709.4 1030.9 717 1028 717.9z" fill="#4a2f08" fill-opacity="0.08"/>
<path d="M875.9 723.6L884.9 731.3M891.1 718.6L900.2 726.3M911.3 712L920.5 719.6M937.4 703.7L946.7 711.2M963.3 695.7L972.8 703.1M983.1 689.5L992.8 696.9M877.2 733.9L886.4 741.8M892.6 728.8L901.7 736.6M926.5 717.7L935.9 725.4M946.7 711.2L956.3 718.9M972.8 703.1L982.5 710.6M992.8 696.9L1002.6 704.4M849.9 743L1000.8 694.4M886.4 741.8L895.6 749.8M913.2 732.8L922.6 740.7M947.2 721.8L956.8 729.6M973.6 713.4L983.4 721.2M988.5 708.8L998.5 716.4M998.9 705.5L1008.9 713.1M1009.2 702.3L1019.3 709.8M858.9 751L1010.7 701.8M889.4 751.9L898.8 760.1M904.9 746.7L914.4 754.8M915.7 743L925.2 751.1M926.4 739.5L935.9 747.5M947 732.7L956.7 740.7M957.6 729.3L967.4 737.3M984.2 720.9L994.2 728.7M1017.8 710.3L1028 717.9M868.1 759.2L1020.7 709.4" fill="none" stroke="#4f390f" stroke-width="0.8" stroke-opacity="0.25"/>
<polyline points="840.9,735 991.1,687.1" fill="none" stroke="#090909" stroke-width="2.3" stroke-linecap="round" stroke-linejoin="round"/>
<polygon points="871.6,733.6 930.7,714.2 954.6,733.8 894.7,753.7" fill="#bababa"/>
<polyline points="871.6,733.6 930.7,714.2 954.6,733.8" fill="none" stroke="#090909" stroke-width="1" stroke-linecap="round" stroke-linejoin="round"/>
<polyline points="871.6,733.6 894.7,753.7 954.6,733.8" fill="none" stroke="#090909" stroke-width="2.1" stroke-linecap="round" stroke-linejoin="round"/>
<polygon points="947.1,709 1004.7,691.1 1029.9,709.9 971.4,728.4" fill="#bababa"/>
<polyline points="947.1,709 1004.7,691.1 1029.9,709.9" fill="none" stroke="#090909" stroke-width="1" stroke-linecap="round" stroke-linejoin="round"/>
<polyline points="947.1,709 971.4,728.4 1029.9,709.9" fill="none" stroke="#090909" stroke-width="2.1" stroke-linecap="round" stroke-linejoin="round"/>
<polyline points="1030.9,717 1024,711.8" fill="none" stroke="#090909" stroke-width="1.8" stroke-linecap="round" stroke-linejoin="round"/>
<polyline points="998.9,692.9 991.1,687.1" fill="none" stroke="#090909" stroke-width="1.8" stroke-linecap="round" stroke-linejoin="round"/>
<polygon points="882.4,826.8 1033.5,773.4 1030.9,717 877.5,767.5" fill="#94805a"/>
<path d="M966.6 796.4 981.6 791.2 981.3 786 966.2 791.2zM1007.8 782.2 1033.5 773.4 1033.3 768.4 1007.5 777.1zM958.7 793.8 973.8 788.6 973.4 783.4 958.3 788.6zM916.6 803.4 937.2 796 936.8 790.7 916.2 798.1zM947.8 792.3 958.3 788.6 958 783.3 947.4 787zM958.3 788.6 992.3 777 992 771.9 958 783.3zM999.5 769.4 1014.4 764.4 1014.2 759.3 999.2 764.2zM880.2 800 901.4 792.4 901 787 879.8 794.6zM1017.6 752.9 1032.4 748 1032.1 742.9 1017.4 747.7zM914.5 776.8 935.2 769.6 934.8 764.3 914.1 771.4zM889.9 779.9 917.2 770.4 916.7 765 889.5 774.5zM917.2 770.4 932.5 765.1 932.1 759.7 916.7 765zM963.2 744 997.5 733 997.2 727.8 962.8 738.7zM1017.8 726.5 1031.2 722.2 1030.9 717 1017.6 721.3z" fill="#fff" fill-opacity="0.10"/>
<path d="M981.6 791.2 1007.8 782.2 1007.5 777.1 981.3 786zM882 821.4 917.1 808.7 916.6 803.4 881.5 816.1zM973.8 788.6 1007.5 777.1 1007.2 772 973.4 783.4zM896.4 799.7 917.3 792.2 916.9 786.9 896 794.3zM937.9 784.9 964.4 775.8 964.1 770.6 937.5 779.7zM975 772.2 1001.5 763.5 1001.2 758.3 974.7 767zM983.8 764 1017.6 752.9 1017.4 747.7 983.5 758.8zM993.4 755.6 1027 744.6 1026.7 739.4 993.1 750.4zM992.8 745.2 1026.5 734.3 1026.3 729.1 992.5 740zM1026.5 734.3 1031.7 732.6 1031.4 727.4 1026.3 729.1zM997.5 733 1017.8 726.5 1017.6 721.3 997.2 727.8z" fill="#fff" fill-opacity="0.20"/>
<path d="M929.7 809.5 940.2 805.7 939.9 800.4 929.3 804.3zM917.1 808.7 932.3 803.2 931.9 797.9 916.6 803.4zM1007.5 777.1 1017.9 773.6 1017.6 768.5 1007.2 772zM1017.9 773.6 1033.3 768.4 1033.1 763.3 1017.6 768.5zM1012.5 770.3 1033.1 763.3 1032.8 758.2 1012.2 765.1zM917.3 792.2 937.9 784.9 937.5 779.7 916.9 786.9zM968.6 769.1 983.8 764 983.5 758.8 968.3 763.8zM928 777.5 962.2 765.8 961.9 760.6 927.6 772.2zM1027 744.6 1032.1 742.9 1031.9 737.7 1026.7 739.4zM935.2 769.6 945.9 766 945.5 760.7 934.8 764.3zM976.4 755.8 996.8 749.2 996.6 744 976 750.6zM1006.1 735.6 1031.4 727.4 1031.2 722.2 1005.8 730.4zM877.9 772.9 913.2 760.7 912.8 755.3 877.5 767.5z" fill="#4a2f08" fill-opacity="0.07"/>
<path d="M893.4 822.7 909 817.1 908.6 811.8 893 817.4zM909 817.1 929.7 809.5 929.3 804.3 908.6 811.8zM940.2 805.7 966.6 796.4 966.2 791.2 939.9 800.4zM881.1 810.7 896.9 805.1 896.4 799.7 880.7 805.4zM1024.8 760.9 1032.8 758.2 1032.6 753.1 1024.5 755.8zM964.4 775.8 975 772.2 974.7 767 964.1 770.6zM948.1 776 968.6 769.1 968.3 763.8 947.8 770.7zM879.8 794.6 901 787 900.6 781.7 879.3 789.2zM962.2 765.8 982.7 759.1 982.4 753.8 961.9 760.6zM982.7 759.1 993.4 755.6 993.1 750.4 982.4 753.8zM879.3 789.2 914.5 776.8 914.1 771.4 878.8 783.8zM878.8 783.8 889.9 779.9 889.5 774.5 878.4 778.3zM966.9 753.6 982.1 748.6 981.8 743.4 966.6 748.3zM889.5 774.5 910.6 767.1 910.1 761.8 889 769.1zM910.6 767.1 945.1 755.4 944.8 750.1 910.1 761.8zM971.9 746.6 1006.1 735.6 1005.8 730.4 971.6 741.3zM928.6 755.4 963.2 744 962.8 738.7 928.3 750.1z" fill="#4a2f08" fill-opacity="0.14"/>
<path d="M893.4 822.7L893 817.4M909 817.1L908.6 811.8M929.7 809.5L929.3 804.3M940.2 805.7L939.9 800.4M966.6 796.4L966.2 791.2M981.6 791.2L981.3 786M1007.8 782.2L1007.5 777.1M917.1 808.7L916.6 803.4M932.3 803.2L931.9 797.9M958.7 793.8L958.3 788.6M973.8 788.6L973.4 783.4M1007.5 777.1L1007.2 772M1017.9 773.6L1017.6 768.5M882 821.4L1033.3 768.4M916.6 803.4L916.2 798.1M937.2 796L936.8 790.7M947.8 792.3L947.4 787M958.3 788.6L958 783.3M992.3 777L992 771.9M1012.5 770.3L1012.2 765.1M881.5 816.1L1033.1 763.3M896.9 805.1L896.4 799.7M931.5 792.6L931.1 787.3M958 783.3L957.6 778.1M973.1 778.2L972.8 773M999.5 769.4L999.2 764.2M1014.4 764.4L1014.2 759.3M1024.8 760.9L1024.5 755.8M881.1 810.7L1032.8 758.2M896.4 799.7L896 794.3M917.3 792.2L916.9 786.9M937.9 784.9L937.5 779.7M964.4 775.8L964.1 770.6M975 772.2L974.7 767M1001.5 763.5L1001.2 758.3M1027.5 754.8L1027.2 749.7M880.7 805.4L1032.6 753.1M901.4 792.4L901 787M922.3 785L921.8 779.7M937.5 779.7L937.1 774.4M948.1 776L947.8 770.7M968.6 769.1L968.3 763.8M983.8 764L983.5 758.8M1017.6 752.9L1017.4 747.7M880.2 800L1032.4 748M901 787L900.6 781.7M928 777.5L927.6 772.2M962.2 765.8L961.9 760.6M982.7 759.1L982.4 753.8M993.4 755.6L993.1 750.4M1027 744.6L1026.7 739.4M879.8 794.6L1032.1 742.9M914.5 776.8L914.1 771.4M935.2 769.6L934.8 764.3M945.9 766L945.5 760.7M961.1 760.8L960.8 755.6M976.4 755.8L976 750.6M996.8 749.2L996.6 744M1007.4 745.7L1007.1 740.6M879.3 789.2L1031.9 737.7M889.9 779.9L889.5 774.5M917.2 770.4L916.7 765M932.5 765.1L932.1 759.7M966.9 753.6L966.6 748.3M982.1 748.6L981.8 743.4M992.8 745.2L992.5 740M1026.5 734.3L1026.3 729.1M878.8 783.8L1031.7 732.6M889.5 774.5L889 769.1M910.6 767.1L910.1 761.8M945.1 755.4L944.8 750.1M971.9 746.6L971.6 741.3M1006.1 735.6L1005.8 730.4M878.4 778.3L1031.4 727.4M913.2 760.7L912.8 755.3M928.6 755.4L928.3 750.1M963.2 744L962.8 738.7M997.5 733L997.2 727.8M1017.8 726.5L1017.6 721.3M877.9 772.9L1031.2 722.2" fill="none" stroke="#4f390f" stroke-width="0.8" stroke-opacity="0.41"/>
<polygon points="877.5,767.5 1030.9,717 1031.1,719.9 877.7,770.5" fill="#d8bc88" fill-opacity="0.92"/>
<polygon points="877.7,770.5 1031.1,719.9 1031.2,722.1 877.9,772.9" fill="#d8bc88" fill-opacity="0.60"/>
<polygon points="877.9,772.9 1031.2,722.1 1031.3,725 878.2,775.9" fill="#d8bc88" fill-opacity="0.30"/>
<polygon points="878.2,775.9 1031.3,725 1031.5,729.6 878.6,780.6" fill="#d8bc88" fill-opacity="0.12"/>
<polyline points="877.5,767.5 882.4,826.8 1033.5,773.4 1030.9,717" fill="none" stroke="#090909" stroke-width="2.3" stroke-linecap="round" stroke-linejoin="round"/>
<polygon points="679,849.2 683.3,854.2 677.1,794 672.6,789.1" fill="#d2b886" stroke="#080808" stroke-width="2.3" stroke-linejoin="round"/>
<polygon points="683.3,854.2 695.5,850 689.5,790 677.1,794" fill="#847250"/>
<path d="M681.8 839.4 694.1 835.3 693.4 827.8 681.1 831.9zM679.5 816.9 691.9 812.8 691.1 805.3 678.7 809.3z" fill="#4a2f08" fill-opacity="0.07"/>
<path d="M680.3 824.4 692.7 820.3 691.9 812.8 679.5 816.9zM678.7 809.3 691.1 805.3 690.3 797.7 677.9 801.7z" fill="#4a2f08" fill-opacity="0.14"/>
<path d="M682.6 846.8L694.8 842.7M681.8 839.4L694.1 835.3M681.1 831.9L693.4 827.8M680.3 824.4L692.7 820.3M679.5 816.9L691.9 812.8M678.7 809.3L691.1 805.3M677.9 801.7L690.3 797.7" fill="none" stroke="#4f390f" stroke-width="0.8" stroke-opacity="0.42"/>
<polygon points="695.5,850 716.6,874.4 711.1,813.8 689.5,790" fill="#d2b886"/>
<polyline points="683.3,854.2 695.5,850 716.6,874.4" fill="none" stroke="#080808" stroke-width="2.3" stroke-linecap="round" stroke-linejoin="round"/>
<polygon points="704.2,878.8 710.7,886.4 705.1,825.4 698.5,817.9" fill="#d2b886"/>
<polyline points="710.7,886.4 704.2,878.8 698.5,817.9 707.3,815" fill="none" stroke="#080808" stroke-width="2.3" stroke-linecap="round" stroke-linejoin="round"/>
<polygon points="672.6,789.1 677.1,794 689.5,790 711.1,813.8 698.5,817.9 705.1,825.4 877.5,767.5 840.9,735" fill="#d8bc87"/>
<path d="M765.9 770.6 782.9 765.1 791.7 773.5 774.6 779.1zM816.9 753.9 833.1 748.5 842.1 756.7 825.8 762.1zM834.9 770.5 868.1 759.2 877.5 767.5 844.2 779z" fill="#fff" fill-opacity="0.06"/>
<path d="M791.7 751.2 813.8 744 822.6 752 800.4 759.3z" fill="#fff" fill-opacity="0.12"/>
<path d="M813.8 744 835.4 736.9 844.3 744.8 822.6 752zM693 793.9 723.8 784 732.1 792.8 701.2 802.9zM833.1 748.5 849.9 743 858.9 751 842.1 756.7zM810.1 767.4 826.7 761.8 835.8 770.2 819.2 775.8zM709.4 811.9 749.4 798.9 758.1 807.8 717.8 821.1z" fill="#4a2f08" fill-opacity="0.04"/>
<path d="M735.9 780.1 765.9 770.6 774.6 779.1 744.3 788.9zM770.3 780.5 787.4 774.9 796.3 783.5 779.1 789.2zM838.1 758 858.9 751 868.1 759.2 847.2 766.3zM780 788.9 818.3 776.1 827.5 784.7 788.9 797.7zM818.3 776.1 834.9 770.5 844.2 779 827.5 784.7z" fill="#4a2f08" fill-opacity="0.08"/>
<path d="M724.1 772.6L732.4 781.2M754 763.2L762.5 771.6M791.7 751.2L800.4 759.3M813.8 744L822.6 752M835.4 736.9L844.3 744.8M723.8 784L732.1 792.8M735.9 780.1L744.3 788.9M765.9 770.6L774.6 779.1M782.9 765.1L791.7 773.5M794.6 761.3L803.5 769.6M816.9 753.9L825.8 762.1M833.1 748.5L842.1 756.7M693 793.9L849.9 743M740.8 790L749.4 798.9M758.2 784.4L766.9 793.2M770.3 780.5L779.1 789.2M787.4 774.9L796.3 783.5M810.1 767.4L819.2 775.8M826.7 761.8L835.8 770.2M838.1 758L847.2 766.3M701.2 802.9L858.9 751M749.4 798.9L758.1 807.8M780 788.9L788.9 797.7M818.3 776.1L827.5 784.7M834.9 770.5L844.2 779M709.4 811.9L868.1 759.2" fill="none" stroke="#4f390f" stroke-width="0.8" stroke-opacity="0.25"/>
<polyline points="672.6,789.1 840.9,735" fill="none" stroke="#080808" stroke-width="2.3" stroke-linecap="round" stroke-linejoin="round"/>
<polyline points="677.1,794 672.6,789.1" fill="none" stroke="#080808" stroke-width="2.3" stroke-linecap="round" stroke-linejoin="round"/>
<polygon points="705.5,787.6 772.7,766.1 794.9,787.7 726.4,810.1" fill="#bababa"/>
<polyline points="705.5,787.6 772.7,766.1 794.9,787.7" fill="none" stroke="#080808" stroke-width="1" stroke-linecap="round" stroke-linejoin="round"/>
<polyline points="705.5,787.6 726.4,810.1 794.9,787.7" fill="none" stroke="#080808" stroke-width="2.1" stroke-linecap="round" stroke-linejoin="round"/>
<polygon points="791.2,760.2 854.4,739.3 877.5,759.6 813.7,781.4" fill="#bababa"/>
<polyline points="791.2,760.2 854.4,739.3 877.5,759.6" fill="none" stroke="#080808" stroke-width="1" stroke-linecap="round" stroke-linejoin="round"/>
<polyline points="791.2,760.2 813.7,781.4 877.5,759.6" fill="none" stroke="#080808" stroke-width="2.1" stroke-linecap="round" stroke-linejoin="round"/>
<polyline points="877.5,767.5 871.1,761.8" fill="none" stroke="#080808" stroke-width="1.8" stroke-linecap="round" stroke-linejoin="round"/>
<polyline points="848.1,741.4 840.9,735" fill="none" stroke="#080808" stroke-width="1.8" stroke-linecap="round" stroke-linejoin="round"/>
<polygon points="710.7,886.4 882.4,826.8 877.5,767.5 705.1,825.4" fill="#937f59"/>
<path d="M752 866.4 782.9 856 782.5 850.6 751.6 860.9zM806.6 848.1 836.5 837.8 836 832.4 806.2 842.7zM823.4 836.8 840.2 830.9 839.7 825.5 822.9 831.4zM840.2 830.9 851.7 826.8 851.3 821.4 839.7 825.5zM708.7 864.4 740 853.7 739.5 848.2 708.2 858.9zM807 831.2 836.8 821 836.3 815.5 806.6 825.8zM836.8 821 865.4 810.8 865 805.4 836.3 815.5zM732.4 850.6 772.4 837.2 771.9 831.7 731.9 845.1zM707.7 853.4 725.7 847.2 725.2 841.7 707.2 847.8zM839.1 808.9 861.3 801.1 860.8 795.7 838.7 803.5zM725.2 841.7 756.4 831.2 755.9 825.7 724.7 836.1zM867.3 793.4 879.3 789.2 878.8 783.8 866.8 788zM842.3 796.6 878.8 783.8 878.4 778.3 841.8 791.1zM730.5 828.4 761.7 818.1 761.2 812.5 730 822.9zM792.5 807.9 831 794.8 830.5 789.3 792 802.4zM778 807 808.5 796.9 808 791.3 777.5 801.5z" fill="#fff" fill-opacity="0.10"/>
<path d="M782.9 856 806.6 848.1 806.2 842.7 782.5 850.6zM727.6 869.2 751.6 860.9 751.1 855.5 727.1 863.7zM775.4 852.9 793.1 847.1 792.6 841.7 775 847.5zM709.2 870 733.4 861.6 732.9 856.1 708.7 864.4zM751.1 855.5 763.5 851.3 763.1 845.9 750.7 850zM763.5 851.3 787.4 843.4 786.9 838 763.1 845.9zM879.5 811.3 881.1 810.7 880.7 805.4 879.1 805.9zM708.2 858.9 732.4 850.6 731.9 845.1 707.7 853.4zM811.8 824 841.3 813.8 840.8 808.3 811.3 818.6zM799.2 822.7 816.4 816.8 815.9 811.3 798.7 817.2zM774.1 825.3 791.7 819.5 791.3 814 773.7 819.8zM705.6 831 730 822.9 729.5 817.2 705.1 825.4z" fill="#fff" fill-opacity="0.20"/>
<path d="M836.5 837.8 873.2 824.6 872.8 819.3 836 832.4zM851.7 826.8 880 816.7 879.5 811.3 851.3 821.4zM880 816.7 881.5 816.1 881.1 810.7 879.5 811.3zM733.4 861.6 751.1 855.5 750.7 850 732.9 856.1zM787.4 843.4 804.9 837.6 804.4 832.1 786.9 838zM841.3 813.8 877.8 800.8 877.4 795.4 840.8 808.3zM877.8 800.8 880.2 800 879.8 794.6 877.4 795.4zM781.6 828.5 799.2 822.7 798.7 817.2 781.2 823zM830.3 806.4 867.3 793.4 866.8 788 829.8 800.9zM706.7 842.2 719.3 837.9 718.8 832.4 706.2 836.6zM761.7 818.1 792.5 807.9 792 802.4 761.2 812.5zM754.1 814.9 778 807 777.5 801.5 753.6 809.3z" fill="#4a2f08" fill-opacity="0.07"/>
<path d="M747.2 873.6 771 865.5 770.6 860.1 746.7 868.2zM827.7 846.4 864.8 833.2 864.4 827.8 827.2 841.1zM864.8 833.2 882.4 826.8 882 821.4 864.4 827.8zM710.2 880.9 728.1 874.7 727.6 869.2 709.7 875.5zM728.1 874.7 752 866.4 751.6 860.9 727.6 869.2zM740 853.7 763.9 845.6 763.5 840.1 739.5 848.2zM791.7 819.5 830.3 806.4 829.8 800.9 791.3 814zM731.9 833.7 771.9 820.4 771.4 814.9 731.4 828.1zM831 794.8 853.4 787.1 852.9 781.6 830.5 789.3zM853.4 787.1 878.4 778.3 877.9 772.9 852.9 781.6zM730 822.9 754.1 814.9 753.6 809.3 729.5 817.2zM849.6 782.7 871.5 775.1 871.1 769.7 849.1 777.3zM871.5 775.1 877.9 772.9 877.5 767.5 871.1 769.7z" fill="#4a2f08" fill-opacity="0.14"/>
<path d="M734.8 877.9L734.3 872.5M747.2 873.6L746.7 868.2M771 865.5L770.6 860.1M788.6 859.6L788.2 854.2M827.7 846.4L827.2 841.1M864.8 833.2L864.4 827.8M728.1 874.7L727.6 869.2M752 866.4L751.6 860.9M782.9 856L782.5 850.6M806.6 848.1L806.2 842.7M836.5 837.8L836 832.4M873.2 824.6L872.8 819.3M710.2 880.9L882 821.4M727.6 869.2L727.1 863.7M751.6 860.9L751.1 855.5M775.4 852.9L775 847.5M793.1 847.1L792.6 841.7M823.4 836.8L822.9 831.4M840.2 830.9L839.7 825.5M851.7 826.8L851.3 821.4M880 816.7L879.5 811.3M709.7 875.5L881.5 816.1M733.4 861.6L732.9 856.1M751.1 855.5L750.7 850M763.5 851.3L763.1 845.9M787.4 843.4L786.9 838M804.9 837.6L804.4 832.1M822.1 831.7L821.6 826.3M851.3 821.4L850.8 816M879.5 811.3L879.1 805.9M709.2 870L881.1 810.7M740 853.7L739.5 848.2M763.9 845.6L763.5 840.1M794.8 835.3L794.4 829.9M807 831.2L806.6 825.8M836.8 821L836.3 815.5M865.4 810.8L865 805.4M876.7 806.8L876.2 801.4M708.7 864.4L880.7 805.4M732.4 850.6L731.9 845.1M772.4 837.2L771.9 831.7M811.8 824L811.3 818.6M841.3 813.8L840.8 808.3M877.8 800.8L877.4 795.4M708.2 858.9L880.2 800M725.7 847.2L725.2 841.7M738.2 843L737.7 837.4M769.3 832.6L768.8 827.1M781.6 828.5L781.2 823M799.2 822.7L798.7 817.2M816.4 816.8L815.9 811.3M839.1 808.9L838.7 803.5M861.3 801.1L860.8 795.7M707.7 853.4L879.8 794.6M725.2 841.7L724.7 836.1M756.4 831.2L755.9 825.7M774.1 825.3L773.7 819.8M791.7 819.5L791.3 814M830.3 806.4L829.8 800.9M867.3 793.4L866.8 788M707.2 847.8L879.3 789.2M719.3 837.9L718.8 832.4M731.9 833.7L731.4 828.1M771.9 820.4L771.4 814.9M789.5 814.6L789 809.1M819.7 804.4L819.2 798.9M842.3 796.6L841.8 791.1M706.7 842.2L878.8 783.8M730.5 828.4L730 822.9M761.7 818.1L761.2 812.5M792.5 807.9L792 802.4M831 794.8L830.5 789.3M853.4 787.1L852.9 781.6M706.2 836.6L878.4 778.3M730 822.9L729.5 817.2M754.1 814.9L753.6 809.3M778 807L777.5 801.5M808.5 796.9L808 791.3M820.4 792.8L819.9 787.3M849.6 782.7L849.1 777.3M871.5 775.1L871.1 769.7M705.6 831L877.9 772.9" fill="none" stroke="#4f390f" stroke-width="0.8" stroke-opacity="0.42"/>
<polygon points="705.1,825.4 877.5,767.5 877.7,770.5 705.4,828.5" fill="#d8bc87" fill-opacity="0.92"/>
<polygon points="705.4,828.5 877.7,770.5 877.9,772.9 705.6,830.9" fill="#d8bc87" fill-opacity="0.60"/>
<polygon points="705.6,830.9 877.9,772.9 878.2,775.9 705.9,834" fill="#d8bc87" fill-opacity="0.30"/>
<polygon points="705.9,834 878.2,775.9 878.6,780.6 706.4,839" fill="#d8bc87" fill-opacity="0.12"/>
<polygon points="710.7,886.4 717,884.2 711.5,823.2 705.1,825.4" fill="#d2b886" fill-opacity="0.75"/>
<polygon points="717,884.2 725,881.4 719.6,820.5 711.5,823.2" fill="#d2b886" fill-opacity="0.45"/>
<polygon points="725,881.4 735.7,877.6 730.4,816.9 719.6,820.5" fill="#d2b886" fill-opacity="0.25"/>
<polygon points="735.7,877.6 750.7,872.4 745.6,811.9 730.4,816.9" fill="#d2b886" fill-opacity="0.10"/>
<polyline points="710.7,886.4 882.4,826.8 877.5,767.5" fill="none" stroke="#080808" stroke-width="2.3" stroke-linecap="round" stroke-linejoin="round"/>
<polygon points="1058.9,608.5 1100.2,635.3 1171,612 1129.1,587.1" fill="#dabf8c"/>
<path d="M1114.1 620.6 1138.1 612.9 1148.8 619.4 1124.7 627.3z" fill="#fff" fill-opacity="0.05"/>
<path d="M1137.4 593.8 1139.4 593.2 1149.8 599.4 1147.8 600zM1138.1 612.9 1160.3 605.7 1171 612 1148.8 619.4z" fill="#fff" fill-opacity="0.11"/>
<path d="M1109 593.3 1127.1 587.7 1137.4 593.8 1119.3 599.5zM1069 615.1 1093.3 607.6 1103.7 614.1 1079.3 621.7zM1103.7 614.1 1134.4 604.3 1144.9 610.7 1114.1 620.6zM1089.7 628.4 1114.1 620.6 1124.7 627.3 1100.2 635.3z" fill="#4a2f08" fill-opacity="0.04"/>
<path d="M1058.9 608.5 1068.7 605.6 1078.8 612.1 1069 615.1z" fill="#4a2f08" fill-opacity="0.07"/>
<path d="M1068.7 605.6L1078.8 612.1M1099.5 596.2L1109.8 602.5M1109 593.3L1119.3 599.5M1127.1 587.7L1137.4 593.8M1093.3 607.6L1103.7 614.1M1124 598.1L1134.4 604.3M1137.4 593.8L1147.8 600M1069 615.1L1139.4 593.2M1103.7 614.1L1114.1 620.6M1134.4 604.3L1144.9 610.7M1079.3 621.7L1149.8 599.4M1114.1 620.6L1124.7 627.3M1138.1 612.9L1148.8 619.4M1089.7 628.4L1160.3 605.7" fill="none" stroke="#4f390f" stroke-width="0.8" stroke-opacity="0.22"/>
<polyline points="1058.9,608.5 1129.1,587.1" fill="none" stroke="#121212" stroke-width="2.2" stroke-linecap="round" stroke-linejoin="round"/>
<polygon points="1087.8,607.4 1137.3,592 1163.7,607.7 1114,623.9" fill="#8c7b5c"/>
<polygon points="1114,623.9 1087.8,607.4 1087.8,607.4 1137.3,592 1137.8,616.1" fill="#9a8865"/>
<polygon points="1137.8,616.1 1137.3,592 1163.7,607.7 1163.7,607.7" fill="#d2b989"/>
<polyline points="1137.3,592 1137.8,616.1" fill="none" stroke="#76684e" stroke-width="1" stroke-linecap="butt" stroke-linejoin="round"/>
<polyline points="1087.8,607.4 1114,623.9 1163.7,607.7" fill="none" stroke="#121212" stroke-width="2" stroke-linecap="round" stroke-linejoin="round"/>
<polyline points="1137.3,592 1137.8,616.1" fill="none" stroke="#121212" stroke-width="1.9" stroke-linecap="butt" stroke-linejoin="round"/>
<polyline points="1171,612 1163.7,607.7" fill="none" stroke="#121212" stroke-width="1.8" stroke-linecap="round" stroke-linejoin="round"/>
<polyline points="1137.3,592 1129.1,587.1" fill="none" stroke="#121212" stroke-width="1.8" stroke-linecap="round" stroke-linejoin="round"/>
<polygon points="1102.1,692.9 1171.5,668.5 1171,612 1100.2,635.3" fill="#97845f"/>
<path d="M1102 687.7 1126 679.4 1125.9 674.2 1101.8 682.5zM1119.9 655.3 1150.5 644.9 1150.5 639.7 1119.7 650.1zM1163.9 640.3 1171.2 637.8 1171.2 632.7 1163.9 635.2zM1141.7 642.7 1171.2 632.7 1171.1 627.5 1141.6 637.5zM1100.6 645.8 1125 637.8 1124.9 632.6 1100.4 640.5z" fill="#fff" fill-opacity="0.09"/>
<path d="M1125.9 674.2 1144.1 667.9 1144.1 662.7 1125.8 669zM1139.3 664.4 1148.8 661.1 1148.7 655.9 1139.2 659.2zM1148.8 661.1 1171.4 653.2 1171.3 648.1 1148.7 655.9zM1101.5 672.1 1115.3 667.4 1115.2 662.2 1101.3 666.8zM1101 656.3 1132.1 645.9 1132 640.7 1100.8 651.1zM1120.3 644.6 1134.1 640 1133.9 634.8 1120.2 639.4zM1100.4 640.5 1124.9 632.6 1124.7 627.3 1100.2 635.3z" fill="#fff" fill-opacity="0.18"/>
<path d="M1133.8 661.1 1147.3 656.4 1147.3 651.2 1133.7 655.9zM1100.8 651.1 1110.6 647.8 1110.4 642.6 1100.6 645.8zM1157.8 632 1171.1 627.5 1171.1 622.4 1157.7 626.9zM1124.9 632.6 1134.5 629.4 1134.4 624.2 1124.7 627.3z" fill="#4a2f08" fill-opacity="0.06"/>
<path d="M1165.5 665.5 1171.4 663.4 1171.4 658.3 1165.5 660.4zM1144.1 667.9 1167.4 659.7 1167.4 654.6 1144.1 662.7zM1125.8 669 1139.3 664.4 1139.2 659.2 1125.6 663.9zM1115.3 667.4 1133.8 661.1 1133.7 655.9 1115.2 662.2zM1139.1 654 1169.3 643.6 1169.2 638.5 1139 648.8zM1144.1 626.2 1153.6 623 1153.5 617.8 1144 621zM1153.6 623 1163 619.9 1163 614.7 1153.5 617.8z" fill="#4a2f08" fill-opacity="0.12"/>
<path d="M1132.9 682.2L1132.8 677M1146.3 677.4L1146.2 672.3M1126 679.4L1125.9 674.2M1135.5 676.1L1135.4 670.9M1165.5 665.5L1165.5 660.4M1102 687.7L1171.4 663.4M1125.9 674.2L1125.8 669M1144.1 667.9L1144.1 662.7M1167.4 659.7L1167.4 654.6M1101.8 682.5L1171.4 658.3M1125.8 669L1125.6 663.9M1139.3 664.4L1139.2 659.2M1148.8 661.1L1148.7 655.9M1101.6 677.3L1171.4 653.2M1115.3 667.4L1115.2 662.2M1133.8 661.1L1133.7 655.9M1147.3 656.4L1147.3 651.2M1156.7 653.1L1156.6 648M1101.5 672.1L1171.3 648.1M1125.5 658.7L1125.4 653.4M1139.1 654L1139 648.8M1169.3 643.6L1169.2 638.5M1101.3 666.8L1171.3 642.9M1119.9 655.3L1119.7 650.1M1150.5 644.9L1150.5 639.7M1163.9 640.3L1163.9 635.2M1101.1 661.6L1171.2 637.8M1132.1 645.9L1132 640.7M1141.7 642.7L1141.6 637.5M1101 656.3L1171.2 632.7M1110.6 647.8L1110.4 642.6M1120.3 644.6L1120.2 639.4M1134.1 640L1133.9 634.8M1157.8 632L1157.7 626.9M1100.8 651.1L1171.1 627.5M1125 637.8L1124.9 632.6M1138.7 633.2L1138.6 628M1148.3 630L1148.2 624.8M1100.6 645.8L1171.1 622.4M1124.9 632.6L1124.7 627.3M1134.5 629.4L1134.4 624.2M1144.1 626.2L1144 621M1153.6 623L1153.5 617.8M1163 619.9L1163 614.7M1100.4 640.5L1171 617.2" fill="none" stroke="#4f390f" stroke-width="0.8" stroke-opacity="0.37"/>
<polygon points="1100.2,635.3 1171,612 1171,614.9 1100.3,638.2" fill="#dabf8c" fill-opacity="0.92"/>
<polygon points="1100.3,638.2 1171,614.9 1171,617.1 1100.4,640.5" fill="#dabf8c" fill-opacity="0.60"/>
<polygon points="1100.4,640.5 1171,617.1 1171.1,620 1100.5,643.4" fill="#dabf8c" fill-opacity="0.30"/>
<polygon points="1100.5,643.4 1171.1,620 1171.1,624.5 1100.7,648" fill="#dabf8c" fill-opacity="0.12"/>
<polyline points="1100.2,635.3 1102.1,692.9 1171.5,668.5 1171,612" fill="none" stroke="#121212" stroke-width="2.2" stroke-linecap="round" stroke-linejoin="round"/>
<polygon points="917.3,710.1 922.5,714.3 918.7,656.3 913.5,652.3" fill="#d3b988" stroke="#0d0d0d" stroke-width="2.3" stroke-linejoin="round"/>
<polygon points="922.5,714.3 932.9,711 929.3,653.1 918.7,656.3" fill="#877553"/>
<path d="M921.5 700 932 696.7 931.6 689.5 921 692.8zM920.5 685.5 931.1 682.3 930.7 675 920.1 678.3z" fill="#fff" fill-opacity="0.19"/>
<path d="M922.5 714.3 932.9 711 932.5 703.9 922 707.2zM922 707.2 932.5 703.9 932 696.7 921.5 700zM921 692.8 931.6 689.5 931.1 682.3 920.5 685.5z" fill="#4a2f08" fill-opacity="0.13"/>
<path d="M922 707.2L932.5 703.9M921.5 700L932 696.7M921 692.8L931.6 689.5M920.5 685.5L931.1 682.3M920.1 678.3L930.7 675M919.6 671L930.2 667.7M919.1 663.7L929.8 660.4" fill="none" stroke="#4f390f" stroke-width="0.8" stroke-opacity="0.40"/>
<polygon points="932.9,711 958,731.4 954.6,672.6 929.3,653.1" fill="#d3b988"/>
<polyline points="922.5,714.3 932.9,711 958,731.4" fill="none" stroke="#0d0d0d" stroke-width="2.3" stroke-linecap="round" stroke-linejoin="round"/>
<polygon points="947.4,734.8 955.2,741.2 951.6,682 943.8,675.9" fill="#d3b988"/>
<polyline points="955.2,741.2 947.4,734.8 943.8,675.9 951.4,673.6" fill="none" stroke="#0d0d0d" stroke-width="2.3" stroke-linecap="round" stroke-linejoin="round"/>
<polygon points="913.5,652.3 918.7,656.3 929.3,653.1 954.6,672.6 943.8,675.9 951.6,682 1100.2,635.3 1058.9,608.5" fill="#d9bd89"/>
<path d="M1018.7 630.5 1043.7 622.9 1053.8 629.6 1028.7 637.5zM1075.1 623 1079.3 621.7 1089.7 628.4 1085.5 629.8zM952.7 671.1 987.1 660.6 997.2 668.1 962.5 678.6z" fill="#fff" fill-opacity="0.06"/>
<path d="M963.6 657.4 974.1 654.2 984 661.5 973.4 664.8zM987.1 660.6 1013.3 652.6 1023.5 659.9 997.2 668.1zM1038.9 644.5 1058.4 638.3 1068.9 645.3 1049.3 651.6zM1058.4 638.3 1083.3 630.4 1093.9 637.3 1068.9 645.3z" fill="#fff" fill-opacity="0.11"/>
<path d="M943 663.6 963.6 657.4 973.4 664.8 952.7 671.1z" fill="#4a2f08" fill-opacity="0.04"/>
<path d="M953.9 650.1 974.1 644 983.9 651.2 963.6 657.4zM1007.6 644 1040.3 633.9 1050.5 640.8 1017.7 651.2zM1040.3 633.9 1050.3 630.8 1060.6 637.6 1050.5 640.8zM1050.3 630.8 1075.1 623 1085.5 629.8 1060.6 637.6zM1013.3 652.6 1038.9 644.5 1049.3 651.6 1023.5 659.9z" fill="#4a2f08" fill-opacity="0.08"/>
<path d="M957.9 638.9L967.4 646M990.9 629.1L1000.6 636.1M1023.1 619.4L1033 626.1M1037.2 615.1L1047.2 621.8M953.9 650.1L963.6 657.4M974.1 644L983.9 651.2M994 638L1003.9 645.1M1008.6 633.6L1018.6 640.6M1018.7 630.5L1028.7 637.5M1043.7 622.9L1053.8 629.6M1068.3 615.3L1078.6 621.9M933.5 656.3L1069 615.1M963.6 657.4L973.4 664.8M974.1 654.2L984 661.5M1007.6 644L1017.7 651.2M1040.3 633.9L1050.5 640.8M1050.3 630.8L1060.6 637.6M1075.1 623L1085.5 629.8M943 663.6L1079.3 621.7M987.1 660.6L997.2 668.1M1013.3 652.6L1023.5 659.9M1038.9 644.5L1049.3 651.6M1058.4 638.3L1068.9 645.3M1083.3 630.4L1093.9 637.3M952.7 671.1L1089.7 628.4" fill="none" stroke="#4f390f" stroke-width="0.8" stroke-opacity="0.24"/>
<polyline points="913.5,652.3 1058.9,608.5" fill="none" stroke="#0d0d0d" stroke-width="2.3" stroke-linecap="round" stroke-linejoin="round"/>
<polyline points="918.7,656.3 913.5,652.3" fill="none" stroke="#0d0d0d" stroke-width="2.3" stroke-linecap="round" stroke-linejoin="round"/>
<polygon points="943.7,651.2 1001.6,633.8 1026.9,651.6 968.1,669.7" fill="#897859"/>
<polygon points="968.1,669.7 943.7,651.2 943.7,651.2 1001.6,633.8 1002.9,659" fill="#988562"/>
<polygon points="1002.9,659 1001.6,633.8 1026.9,651.6 1026.9,651.6" fill="#d1b786"/>
<polyline points="1001.6,633.8 1002.9,659" fill="none" stroke="#73654b" stroke-width="1" stroke-linecap="butt" stroke-linejoin="round"/>
<polyline points="943.7,651.2 968.1,669.7 1026.9,651.6" fill="none" stroke="#0d0d0d" stroke-width="2.1" stroke-linecap="round" stroke-linejoin="round"/>
<polygon points="1017.4,628.9 1072.6,612.1 1098.7,628.8 1043,646.5" fill="#897859"/>
<polygon points="1043,646.5 1017.4,628.9 1017.4,628.9 1072.6,612.1 1073.7,636.8" fill="#988562"/>
<polygon points="1073.7,636.8 1072.6,612.1 1098.7,628.8 1098.7,628.8" fill="#d1b786"/>
<polyline points="1072.6,612.1 1073.7,636.8" fill="none" stroke="#73654b" stroke-width="1" stroke-linecap="butt" stroke-linejoin="round"/>
<polyline points="1017.4,628.9 1043,646.5 1098.7,628.8" fill="none" stroke="#0d0d0d" stroke-width="2.1" stroke-linecap="round" stroke-linejoin="round"/>
<polyline points="1067,613.8 1068.1,638.5" fill="none" stroke="#0d0d0d" stroke-width="1.9" stroke-linecap="butt" stroke-linejoin="round"/>
<polyline points="1100.2,635.3 1093.1,630.6" fill="none" stroke="#0d0d0d" stroke-width="1.8" stroke-linecap="round" stroke-linejoin="round"/>
<polyline points="1067,613.8 1058.9,608.5" fill="none" stroke="#0d0d0d" stroke-width="1.8" stroke-linecap="round" stroke-linejoin="round"/>
<polygon points="955.2,741.2 1102.1,692.9 1100.2,635.3 951.6,682" fill="#95815c"/>
<path d="M1043.4 712.9 1062.8 706.4 1062.6 701.2 1043.1 707.7zM1073.1 692.3 1092.1 685.9 1091.9 680.6 1072.9 687.1zM1092.1 685.9 1101.8 682.5 1101.6 677.3 1091.9 680.6zM1045.6 696.2 1077.8 685.4 1077.6 680.1 1045.3 690.9zM953.8 719.9 988.5 709 988.2 703.7 953.5 714.5zM1025.5 697.4 1058.3 686.6 1058.1 681.3 1025.2 692.1zM1058.3 686.6 1068.4 683.3 1068.1 678 1058.1 681.3zM1056.7 681.8 1076 675.4 1075.8 670.1 1056.4 676.5zM1100.6 667.1 1101.3 666.8 1101.1 661.6 1100.4 661.8zM953.2 709.1 974.1 702.6 973.8 697.2 952.9 703.7zM1023.4 687.2 1038.2 682.5 1037.9 677.1 1023.2 681.9zM1070.8 671.7 1089.9 665.3 1089.7 660.1 1070.5 666.4zM952.6 698.3 963.4 694.9 963.1 689.5 952.3 692.9z" fill="#fff" fill-opacity="0.09"/>
<path d="M1068.3 699.3 1078.2 695.9 1078 690.7 1068.1 694zM1042.9 702.4 1053.1 699.1 1052.8 693.8 1042.7 697.2zM999.2 705.7 1025.5 697.4 1025.2 692.1 998.9 700.4zM1078.3 679.9 1101.5 672.1 1101.3 666.8 1078.1 674.6zM952.9 703.7 987.6 693 987.4 687.6 952.6 698.3zM963.4 694.9 990.4 686.6 990.1 681.2 963.1 689.5zM1016.9 678.4 1042.8 670.1 1042.5 664.7 1016.6 673zM1042.8 670.1 1075.3 659.5 1075.1 654.1 1042.5 664.7zM986.8 676.8 1013.3 668.6 1013 663.2 986.5 671.3zM1013.3 668.6 1023.8 665.3 1023.5 659.9 1013 663.2z" fill="#fff" fill-opacity="0.19"/>
<path d="M1049 705.8 1068.3 699.3 1068.1 694 1048.7 700.5zM1028.2 707.2 1042.9 702.4 1042.7 697.2 1028 702zM991.8 713.4 1025.7 702.7 1025.5 697.4 991.6 708.1zM988.5 709 999.2 705.7 998.9 700.4 988.2 703.7zM988.2 703.7 1003.4 698.9 1003.2 693.6 987.9 698.3zM1008.5 691.9 1023.4 687.2 1023.2 681.9 1008.2 686.6zM1038.2 682.5 1070.8 671.7 1070.5 666.4 1037.9 677.1zM1057.6 670.7 1089.7 660.1 1089.5 654.8 1057.3 665.4zM1089.7 660.1 1101 656.3 1100.8 651.1 1089.5 654.8zM1068.4 650.9 1082.7 646.3 1082.5 641 1068.1 645.6z" fill="#4a2f08" fill-opacity="0.07"/>
<path d="M1015.8 716.5 1049 705.8 1048.7 700.5 1015.6 711.3zM954.5 730.6 975.3 724 975 718.7 954.2 725.2zM1002 715.6 1028.2 707.2 1028 702 1001.7 710.3zM1068.4 683.3 1078.3 679.9 1078.1 674.6 1068.1 678zM953.5 714.5 988.2 703.7 987.9 698.3 953.2 709.1zM1047.5 674 1057.6 670.7 1057.3 665.4 1047.2 668.7zM952.3 692.9 967.8 688.1 967.5 682.7 951.9 687.5zM978.6 684.8 993.9 680.1 993.7 674.7 978.3 679.4zM1062.1 658.4 1094.3 647.9 1094.1 642.6 1061.9 653zM1023.8 665.3 1043.7 658.9 1043.4 653.5 1023.5 659.9z" fill="#4a2f08" fill-opacity="0.13"/>
<path d="M989.6 730.2L989.3 724.9M1023.5 719.4L1023.3 714.1M1043.4 712.9L1043.1 707.7M1062.8 706.4L1062.6 701.2M1081.9 699.9L1081.7 694.7M1095.9 695.1L1095.7 689.9M981.7 727.3L981.4 722M1015.8 716.5L1015.6 711.3M1049 705.8L1048.7 700.5M1068.3 699.3L1068.1 694M1078.2 695.9L1078 690.7M954.8 735.9L1102 687.7M975.3 724L975 718.7M1002 715.6L1001.7 710.3M1028.2 707.2L1028 702M1042.9 702.4L1042.7 697.2M1053.1 699.1L1052.8 693.8M1063.1 695.7L1062.9 690.4M1073.1 692.3L1072.9 687.1M1092.1 685.9L1091.9 680.6M954.5 730.6L1101.8 682.5M965 721.8L964.7 716.5M991.8 713.4L991.6 708.1M1025.7 702.7L1025.5 697.4M1045.6 696.2L1045.3 690.9M1077.8 685.4L1077.6 680.1M1091.9 680.6L1091.7 675.4M954.2 725.2L1101.6 677.3M988.5 709L988.2 703.7M999.2 705.7L998.9 700.4M1025.5 697.4L1025.2 692.1M1058.3 686.6L1058.1 681.3M1068.4 683.3L1068.1 678M1078.3 679.9L1078.1 674.6M953.8 719.9L1101.5 672.1M988.2 703.7L987.9 698.3M1003.4 698.9L1003.2 693.6M1023.7 692.5L1023.4 687.2M1056.7 681.8L1056.4 676.5M1076 675.4L1075.8 670.1M1100.6 667.1L1100.4 661.8M953.5 714.5L1101.3 666.8M974.1 702.6L973.8 697.2M1008.5 691.9L1008.2 686.6M1023.4 687.2L1023.2 681.9M1038.2 682.5L1037.9 677.1M1070.8 671.7L1070.5 666.4M1089.9 665.3L1089.7 660.1M953.2 709.1L1101.1 661.6M987.6 693L987.4 687.6M1021.7 682.3L1021.4 677M1047.5 674L1047.2 668.7M1057.6 670.7L1057.3 665.4M1089.7 660.1L1089.5 654.8M952.9 703.7L1101 656.3M963.4 694.9L963.1 689.5M990.4 686.6L990.1 681.2M1016.9 678.4L1016.6 673M1042.8 670.1L1042.5 664.7M1075.3 659.5L1075.1 654.1M1089.5 654.8L1089.3 649.5M952.6 698.3L1100.8 651.1M967.8 688.1L967.5 682.7M978.6 684.8L978.3 679.4M993.9 680.1L993.7 674.7M1027.8 669.5L1027.5 664.1M1047.6 663.1L1047.4 657.7M1062.1 658.4L1061.9 653M1094.3 647.9L1094.1 642.6M952.3 692.9L1100.6 645.8M986.8 676.8L986.5 671.3M1013.3 668.6L1013 663.2M1023.8 665.3L1023.5 659.9M1043.7 658.9L1043.4 653.5M1053.9 655.6L1053.7 650.2M1068.4 650.9L1068.1 645.6M1082.7 646.3L1082.5 641M951.9 687.5L1100.4 640.5" fill="none" stroke="#4f390f" stroke-width="0.8" stroke-opacity="0.40"/>
<polygon points="951.6,682 1100.2,635.3 1100.3,638.2 951.8,685" fill="#d9bd89" fill-opacity="0.92"/>
<polygon points="951.8,685 1100.3,638.2 1100.4,640.5 951.9,687.4" fill="#d9bd89" fill-opacity="0.60"/>
<polygon points="951.9,687.4 1100.4,640.5 1100.5,643.4 952.1,690.4" fill="#d9bd89" fill-opacity="0.30"/>
<polygon points="952.1,690.4 1100.5,643.4 1100.7,648 952.4,695.2" fill="#d9bd89" fill-opacity="0.12"/>
<polygon points="955.2,741.2 960.5,739.5 957.1,680.3 951.6,682" fill="#d3b988" fill-opacity="0.75"/>
<polygon points="960.5,739.5 967.4,737.3 964.1,678.2 957.1,680.3" fill="#d3b988" fill-opacity="0.45"/>
<polygon points="967.4,737.3 976.6,734.3 973.4,675.3 964.1,678.2" fill="#d3b988" fill-opacity="0.25"/>
<polygon points="976.6,734.3 989.6,730.2 986.5,671.3 973.4,675.3" fill="#d3b988" fill-opacity="0.10"/>
<polyline points="955.2,741.2 1102.1,692.9 1100.2,635.3" fill="none" stroke="#0d0d0d" stroke-width="2.3" stroke-linecap="round" stroke-linejoin="round"/>
<polyline points="1175.5,343.5 1175.6,528" fill="none" stroke="#15181a" stroke-width="7.4" stroke-linecap="butt" stroke-linejoin="round"/>
<polyline points="1175.5,343.5 1175.6,528" fill="none" stroke="#646c70" stroke-width="5.4" stroke-linecap="butt" stroke-linejoin="round"/>
<polyline points="1175.5,343.5 1175.6,528" fill="none" stroke="#959da2" stroke-width="2.3" stroke-linecap="butt" stroke-linejoin="round"/>
<ellipse cx="1175.5" cy="343.5" rx="3.2" ry="1.9" fill="#646c70" stroke="#15181a" stroke-width="1" transform="rotate(-0 1175.5 343.5)"/>
<polyline points="1231.4,343.5 1229.3,511" fill="none" stroke="#15181a" stroke-width="7.4" stroke-linecap="butt" stroke-linejoin="round"/>
<polyline points="1231.4,343.5 1229.3,511" fill="none" stroke="#646c70" stroke-width="5.4" stroke-linecap="butt" stroke-linejoin="round"/>
<polyline points="1231.4,343.5 1229.3,511" fill="none" stroke="#959da2" stroke-width="2.3" stroke-linecap="butt" stroke-linejoin="round"/>
<ellipse cx="1231.4" cy="343.5" rx="3.2" ry="1.9" fill="#646c70" stroke="#15181a" stroke-width="1" transform="rotate(0.7 1231.4 343.5)"/>
<polyline points="1194.2,369.3 1195,557" fill="none" stroke="#15181a" stroke-width="7.4" stroke-linecap="butt" stroke-linejoin="round"/>
<polyline points="1194.2,369.3 1195,557" fill="none" stroke="#646c70" stroke-width="5.4" stroke-linecap="butt" stroke-linejoin="round"/>
<polyline points="1194.2,369.3 1195,557" fill="none" stroke="#959da2" stroke-width="2.3" stroke-linecap="butt" stroke-linejoin="round"/>
<ellipse cx="1194.2" cy="369.3" rx="3.2" ry="1.9" fill="#646c70" stroke="#15181a" stroke-width="1" transform="rotate(-0.2 1194.2 369.3)"/>
<polyline points="1250.1,364.8 1248.2,532" fill="none" stroke="#15181a" stroke-width="7.4" stroke-linecap="butt" stroke-linejoin="round"/>
<polyline points="1250.1,364.8 1248.2,532" fill="none" stroke="#646c70" stroke-width="5.4" stroke-linecap="butt" stroke-linejoin="round"/>
<polyline points="1250.1,364.8 1248.2,532" fill="none" stroke="#959da2" stroke-width="2.3" stroke-linecap="butt" stroke-linejoin="round"/>
<ellipse cx="1250.1" cy="364.8" rx="3.2" ry="1.9" fill="#646c70" stroke="#15181a" stroke-width="1" transform="rotate(0.7 1250.1 364.8)"/>
<polyline points="2,602 128.5,1061" fill="none" stroke="#0e1112" stroke-width="10.4" stroke-linecap="butt" stroke-linejoin="round"/>
<polyline points="2,602 128.5,1061" fill="none" stroke="#525d5e" stroke-width="8.4" stroke-linecap="butt" stroke-linejoin="round"/>
<polyline points="2,602 128.5,1061" fill="none" stroke="#6f7b7c" stroke-width="3.5" stroke-linecap="butt" stroke-linejoin="round"/>
<ellipse cx="2" cy="602" rx="4.7" ry="2.6" fill="#525d5e" stroke="#0e1112" stroke-width="1" transform="rotate(-15.4 2 602)"/>
<polyline points="122,594.5 227.7,1026" fill="none" stroke="#0e1112" stroke-width="10.4" stroke-linecap="butt" stroke-linejoin="round"/>
<polyline points="122,594.5 227.7,1026" fill="none" stroke="#525d5e" stroke-width="8.4" stroke-linecap="butt" stroke-linejoin="round"/>
<polyline points="122,594.5 227.7,1026" fill="none" stroke="#6f7b7c" stroke-width="3.5" stroke-linecap="butt" stroke-linejoin="round"/>
<ellipse cx="122" cy="594.5" rx="4.7" ry="2.6" fill="#525d5e" stroke="#0e1112" stroke-width="1" transform="rotate(-13.8 122 594.5)"/>
<polyline points="15.7,643.8 141,1081.5" fill="none" stroke="#0e1112" stroke-width="10.4" stroke-linecap="butt" stroke-linejoin="round"/>
<polyline points="15.7,643.8 141,1081.5" fill="none" stroke="#525d5e" stroke-width="8.4" stroke-linecap="butt" stroke-linejoin="round"/>
<polyline points="15.7,643.8 141,1081.5" fill="none" stroke="#6f7b7c" stroke-width="3.5" stroke-linecap="butt" stroke-linejoin="round"/>
<ellipse cx="15.7" cy="643.8" rx="4.7" ry="2.6" fill="#525d5e" stroke="#0e1112" stroke-width="1" transform="rotate(-16 15.7 643.8)"/>
<polyline points="135.4,627 241,1046" fill="none" stroke="#0e1112" stroke-width="10.4" stroke-linecap="butt" stroke-linejoin="round"/>
<polyline points="135.4,627 241,1046" fill="none" stroke="#525d5e" stroke-width="8.4" stroke-linecap="butt" stroke-linejoin="round"/>
<polyline points="135.4,627 241,1046" fill="none" stroke="#6f7b7c" stroke-width="3.5" stroke-linecap="butt" stroke-linejoin="round"/>
<ellipse cx="135.4" cy="627" rx="4.7" ry="2.6" fill="#525d5e" stroke="#0e1112" stroke-width="1" transform="rotate(-14.1 135.4 627)"/>
<text x="507.5" y="302.7" font-size="19.5" fill="#444">1</text>
<polyline points="497.2,294.4 477.8,294.4 413.6,1001" fill="none" stroke="#6a6a6a" stroke-width="1" stroke-linecap="butt" stroke-linejoin="round"/>
<polygon points="413.6,1001 411.8,991.8 417,992.3" fill="#585858"/>
<text x="625" y="299.8" font-size="19.5" fill="#444">2</text>
<polyline points="614.6,291.5 594.7,291.5 580.3,882" fill="none" stroke="#6a6a6a" stroke-width="1" stroke-linecap="butt" stroke-linejoin="round"/>
<polygon points="580.3,882 577.9,872.9 583.1,873.1" fill="#585858"/>
<text x="713.2" y="294.4" font-size="19.5" fill="#444">5</text>
<polyline points="735.7,286.1 755.2,286.1 829.5,764.1" fill="none" stroke="#6a6a6a" stroke-width="1" stroke-linecap="butt" stroke-linejoin="round"/>
<polygon points="829.5,764.1 825.5,755.6 830.7,754.8" fill="#585858"/>
<text x="951.7" y="293.2" font-size="19.5" fill="#444">3</text>
<polyline points="974,284.9 993.4,284.9 1174.8,510" fill="none" stroke="#6a6a6a" stroke-width="1" stroke-linecap="butt" stroke-linejoin="round"/>
<polygon points="1174.8,510 1167.1,504.6 1171.2,501.4" fill="#585858"/>
<text x="1323.5" y="281.8" font-size="19.5" fill="#444">4</text>
<polyline points="1345.7,274 1363.9,274 1563.4,452.2" fill="none" stroke="#6a6a6a" stroke-width="1" stroke-linecap="butt" stroke-linejoin="round"/>
<polygon points="1563.4,452.2 1555,448.1 1558.4,444.3" fill="#585858"/>
<text x="1611" y="276.1" font-size="19.5" fill="#444">3</text>
<polyline points="1633.8,267.4 1653.2,267.4 1851.8,373.8" fill="none" stroke="#6a6a6a" stroke-width="1" stroke-linecap="butt" stroke-linejoin="round"/>
<polygon points="1851.8,373.8 1842.6,371.8 1845.1,367.3" fill="#585858"/>
</svg></body></html>
